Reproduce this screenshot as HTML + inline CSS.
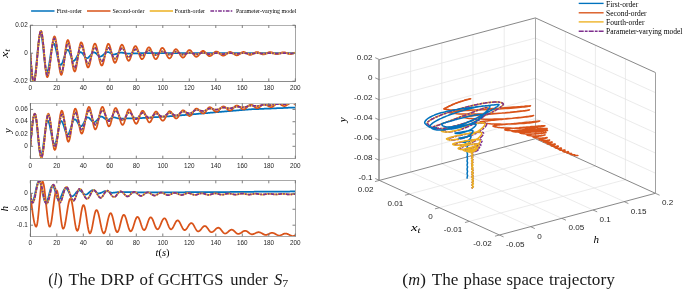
<!DOCTYPE html>
<html><head><meta charset="utf-8"><style>
    html,body{margin:0;padding:0;background:#fff;}
    body{width:685px;height:290px;overflow:hidden;position:relative;}
    svg{position:absolute;left:0;top:0;will-change:transform;}
    .tl{font-family:"Liberation Sans",sans-serif;font-size:6.35px;fill:#262626;}
    .t3{font-family:"Liberation Sans",sans-serif;font-size:8.1px;fill:#262626;}
    .lg{font-family:"Liberation Serif",serif;font-size:5.95px;fill:#000;}
    .lg3{font-family:"Liberation Serif",serif;font-size:7.5px;fill:#000;}
    .ml{font-family:"Liberation Serif",serif;font-style:italic;font-size:10.5px;fill:#000;}
    .ml3{font-family:"Liberation Serif",serif;font-style:italic;font-size:11px;fill:#000;}
    .cap{font-family:"Liberation Serif",serif;font-size:16px;fill:#1a1a1a;}
    </style></head><body>
<svg width="685" height="290" viewBox="0 0 685 290">
<clipPath id="c0"><rect x="30.30" y="25.20" width="265.00" height="56.00"/></clipPath>
<clipPath id="c1"><rect x="30.30" y="103.20" width="265.00" height="55.30"/></clipPath>
<clipPath id="c2"><rect x="30.30" y="180.50" width="265.00" height="55.80"/></clipPath>
<path d="M30.3 53.2L30.8 60.1L31.3 66.5L31.8 72.2L32.3 76.7L32.8 79.8L33.3 81.4L33.8 81.3L34.3 80.0L34.8 77.6L35.3 74.3L35.8 70.1L36.3 65.3L36.8 60.1L37.3 54.9L37.8 49.7L38.3 44.9L38.8 40.7L39.3 37.4L39.8 35.0L40.3 33.7L40.8 33.6L41.3 34.7L41.8 37.0L42.3 40.3L42.8 44.4L43.3 49.0L43.8 53.9L44.3 58.7L44.8 63.2L45.3 67.0L45.8 69.9L46.3 71.7L46.8 72.3L47.3 71.9L47.8 70.7L48.3 68.9L48.8 66.4L49.3 63.5L49.8 60.2L50.3 56.8L50.8 53.5L51.3 50.4L51.8 47.8L52.3 45.6L52.8 44.2L53.3 43.5L53.8 43.5L54.3 44.1L54.8 45.2L55.3 46.7L55.8 48.7L56.3 50.9L56.8 53.2L57.3 55.6L57.8 58.0L58.3 60.1L58.8 62.0L59.3 63.5L59.8 64.5L60.3 65.0L60.8 64.9L61.3 64.6L61.8 63.8L62.3 62.8L62.8 61.6L63.3 60.1L63.8 58.5L64.3 56.9L64.8 55.3L65.3 53.8L65.8 52.4L66.3 51.3L66.8 50.5L67.3 50.0L67.8 49.8L68.3 50.0L68.8 50.7L69.3 51.7L69.8 53.0L70.3 54.5L70.8 56.0L71.3 57.5L71.8 58.9L72.3 60.0L72.8 60.7L73.3 61.0L73.8 60.9L74.3 60.7L74.8 60.2L75.3 59.6L75.8 58.8L76.3 57.9L76.8 57.0L77.3 56.0L77.8 55.1L78.3 54.2L78.8 53.5L79.3 52.9L79.8 52.5L80.3 52.2L80.8 52.2L81.3 52.4L81.8 52.7L82.3 53.2L82.8 53.8L83.3 54.5L83.8 55.3L84.3 56.0L84.8 56.7L85.3 57.3L85.8 57.8L86.3 58.1L86.8 58.2L87.3 58.2L87.8 58.0L88.3 57.7L88.8 57.2L89.3 56.7L89.8 56.1L90.3 55.5L90.8 54.9L91.3 54.2L91.8 53.7L92.3 53.2L92.8 52.8L93.3 52.5L93.8 52.4L94.3 52.4L94.8 52.6L95.3 52.8L95.8 53.2L96.3 53.7L96.8 54.2L97.3 54.7L97.8 55.2L98.3 55.7L98.8 56.1L99.3 56.4L99.8 56.6L100.3 56.6L100.8 56.5L101.3 56.3L101.8 56.1L102.3 55.7L102.8 55.3L103.3 54.8L103.8 54.3L104.3 53.9L104.8 53.4L105.3 53.0L105.8 52.6L106.3 52.3L106.8 52.1L107.3 52.0L107.8 52.0L108.3 52.1L108.8 52.3L109.3 52.5L109.8 52.8L110.3 53.1L110.8 53.4L111.3 53.8L111.8 54.0L112.3 54.3L112.8 54.4L113.3 54.5L113.8 54.5L114.3 54.4L114.8 54.4L115.3 54.2L115.8 54.1L116.3 53.9L116.8 53.7L117.3 53.5L117.8 53.3L118.3 53.1L118.8 53.0L119.3 52.8L119.8 52.7L120.3 52.6L120.8 52.6L121.3 52.6L121.8 52.6L122.3 52.7L122.8 52.8L123.3 52.8L123.8 52.9L124.3 53.1L124.8 53.2L125.3 53.3L125.8 53.4L126.3 53.5L126.8 53.5L127.3 53.6L127.8 53.6L128.3 53.6L128.8 53.6L129.3 53.6L129.8 53.5L130.3 53.5L130.8 53.5L131.3 53.5L131.8 53.5L132.3 53.5L132.8 53.4L133.3 53.4L133.8 53.4L134.3 53.4L134.8 53.4L135.3 53.4L135.8 53.3L136.3 53.3L136.8 53.3L137.3 53.3L137.8 53.3L138.3 53.3L138.8 53.3L139.3 53.2L139.8 53.2L140.3 53.2L140.8 53.2L141.3 53.2L141.8 53.2L142.3 53.2L142.8 53.2L143.3 53.2L143.8 53.2L144.3 53.2L144.8 53.2L145.3 53.2L145.8 53.2L146.3 53.2L146.8 53.2L147.3 53.2L147.8 53.2L148.3 53.2L148.8 53.2L149.3 53.2L149.8 53.2L150.3 53.2L150.8 53.2L151.3 53.2L151.8 53.2L152.3 53.2L152.8 53.2L153.3 53.2L153.8 53.2L154.3 53.2L154.8 53.2L155.3 53.2L155.8 53.2L156.3 53.2L156.8 53.2L157.3 53.2L157.8 53.2L158.3 53.2L158.8 53.2L159.3 53.2L159.8 53.2L160.3 53.2L160.8 53.2L161.3 53.2L161.8 53.2L162.3 53.2L162.8 53.2L163.3 53.2L163.8 53.2L164.3 53.2L164.8 53.2L165.3 53.2L165.8 53.2L166.3 53.2L166.8 53.2L167.3 53.2L167.8 53.2L168.3 53.2L168.8 53.2L169.3 53.2L169.8 53.2L170.3 53.2L170.8 53.2L171.3 53.2L171.8 53.2L172.3 53.2L172.8 53.2L173.3 53.2L173.8 53.2L174.3 53.2L174.8 53.2L175.3 53.2L175.8 53.2L176.3 53.2L176.8 53.2L177.3 53.2L177.8 53.2L178.3 53.2L178.8 53.2L179.3 53.2L179.8 53.2L180.3 53.1L180.8 53.1L181.3 53.1L181.8 53.1L182.3 53.1L182.8 53.1L183.3 53.1L183.8 53.1L184.3 53.1L184.8 53.1L185.3 53.1L185.8 53.1L186.3 53.1L186.8 53.1L187.3 53.1L187.8 53.1L188.3 53.1L188.8 53.1L189.3 53.1L189.8 53.1L190.3 53.1L190.8 53.1L191.3 53.1L191.8 53.1L192.3 53.1L192.8 53.1L193.3 53.1L193.8 53.1L194.3 53.1L194.8 53.1L195.3 53.1L195.8 53.1L196.3 53.1L196.8 53.1L197.3 53.1L197.8 53.1L198.3 53.1L198.8 53.1L199.3 53.1L199.8 53.1L200.3 53.1L200.8 53.1L201.3 53.1L201.8 53.1L202.3 53.1L202.8 53.1L203.3 53.1L203.8 53.1L204.3 53.1L204.8 53.1L205.3 53.1L205.8 53.1L206.3 53.1L206.8 53.1L207.3 53.1L207.8 53.1L208.3 53.1L208.8 53.1L209.3 53.1L209.8 53.1L210.3 53.1L210.8 53.1L211.3 53.1L211.8 53.1L212.3 53.1L212.8 53.1L213.3 53.1L213.8 53.1L214.3 53.1L214.8 53.1L215.3 53.1L215.8 53.1L216.3 53.1L216.8 53.1L217.3 53.1L217.8 53.1L218.3 53.1L218.8 53.1L219.3 53.1L219.8 53.1L220.3 53.1L220.8 53.1L221.3 53.1L221.8 53.1L222.3 53.1L222.8 53.1L223.3 53.1L223.8 53.1L224.3 53.1L224.8 53.1L225.3 53.1L225.8 53.1L226.3 53.1L226.8 53.1L227.3 53.1L227.8 53.1L228.3 53.1L228.8 53.1L229.3 53.1L229.8 53.1L230.3 53.1L230.8 53.1L231.3 53.1L231.8 53.1L232.3 53.1L232.8 53.1L233.3 53.1L233.8 53.1L234.3 53.1L234.8 53.1L235.3 53.1L235.8 53.1L236.3 53.1L236.8 53.1L237.3 53.1L237.8 53.1L238.3 53.1L238.8 53.1L239.3 53.1L239.8 53.1L240.3 53.1L240.8 53.1L241.3 53.1L241.8 53.1L242.3 53.1L242.8 53.1L243.3 53.1L243.8 53.1L244.3 53.1L244.8 53.1L245.3 53.1L245.8 53.1L246.3 53.1L246.8 53.1L247.3 53.1L247.8 53.1L248.3 53.1L248.8 53.1L249.3 53.1L249.8 53.1L250.3 53.1L250.8 53.1L251.3 53.1L251.8 53.1L252.3 53.1L252.8 53.1L253.3 53.1L253.8 53.1L254.3 53.1L254.8 53.1L255.3 53.1L255.8 53.1L256.3 53.1L256.8 53.1L257.3 53.1L257.8 53.1L258.3 53.1L258.8 53.1L259.3 53.1L259.8 53.1L260.3 53.0L260.8 53.0L261.3 53.0L261.8 53.0L262.3 53.0L262.8 53.0L263.3 53.0L263.8 53.0L264.3 53.0L264.8 53.0L265.3 53.0L265.8 53.0L266.3 53.0L266.8 53.0L267.3 53.0L267.8 53.0L268.3 53.0L268.8 53.0L269.3 53.0L269.8 53.0L270.3 53.0L270.8 53.0L271.3 53.0L271.8 53.0L272.3 53.0L272.8 53.0L273.3 53.0L273.8 53.0L274.3 53.0L274.8 53.0L275.3 53.0L275.8 53.0L276.3 53.0L276.8 53.0L277.3 53.0L277.8 53.0L278.3 53.0L278.8 53.0L279.3 53.0L279.8 53.0L280.3 53.0L280.8 53.0L281.3 53.0L281.8 53.0L282.3 53.0L282.8 53.0L283.3 53.0L283.8 53.0L284.3 53.0L284.8 53.0L285.3 53.0L285.8 53.0L286.3 53.0L286.8 53.0L287.3 53.0L287.8 53.0L288.3 53.0L288.8 53.0L289.3 53.0L289.8 53.0L290.3 53.0L290.8 53.0L291.3 53.0L291.8 53.0L292.3 53.0L292.8 53.0L293.3 53.0L293.8 53.0L294.3 53.0L294.8 53.0L295.3 53.0" fill="none" stroke="#0072BD" stroke-width="1.75" stroke-linejoin="round" clip-path="url(#c0)"/>
<path d="M30.3 53.2L30.8 60.1L31.3 66.6L31.8 72.4L32.3 77.1L32.8 80.4L33.3 82.2L33.8 82.4L34.3 81.3L34.8 79.1L35.3 75.9L35.8 71.8L36.3 66.9L36.8 61.6L37.3 56.1L37.8 50.6L38.3 45.4L38.8 40.7L39.3 36.7L39.8 33.6L40.3 31.7L40.8 30.8L41.3 31.2L41.8 33.0L42.3 36.1L42.8 40.2L43.3 45.1L43.8 50.6L44.3 56.3L44.8 61.8L45.3 66.9L45.8 71.2L46.3 74.5L46.8 76.5L47.3 77.2L47.8 76.7L48.3 75.3L48.8 73.0L49.3 69.9L49.8 66.2L50.3 62.0L50.8 57.6L51.3 53.2L51.8 48.9L52.3 45.0L52.8 41.7L53.3 39.0L53.8 37.2L54.3 36.4L54.8 36.5L55.3 37.6L55.8 39.7L56.3 42.6L56.8 46.2L57.3 50.3L57.8 54.7L58.3 59.1L58.8 63.3L59.3 67.2L59.8 70.4L60.3 72.8L60.8 74.3L61.3 74.8L61.8 74.3L62.3 72.8L62.8 70.4L63.3 67.3L63.8 63.6L64.3 59.5L64.8 55.3L65.3 51.2L65.8 47.5L66.3 44.4L66.8 42.0L67.3 40.5L67.8 40.0L68.3 40.4L68.8 41.6L69.3 43.5L69.8 46.1L70.3 49.1L70.8 52.5L71.3 56.1L71.8 59.7L72.3 63.0L72.8 66.0L73.3 68.4L73.8 70.2L74.3 71.2L74.8 71.5L75.3 70.9L75.8 69.5L76.3 67.3L76.8 64.6L77.3 61.4L77.8 58.0L78.3 54.4L78.8 51.1L79.3 48.0L79.8 45.5L80.3 43.7L80.8 42.6L81.3 42.3L81.8 42.8L82.3 43.8L82.8 45.5L83.3 47.6L83.8 50.1L84.3 52.9L84.8 55.8L85.3 58.6L85.8 61.2L86.3 63.5L86.8 65.4L87.3 66.7L87.8 67.4L88.3 67.4L88.8 66.9L89.3 65.7L89.8 64.0L90.3 61.8L90.8 59.3L91.3 56.7L91.8 53.9L92.3 51.2L92.8 48.8L93.3 46.7L93.8 45.1L94.3 44.1L94.8 43.6L95.3 43.8L95.8 44.5L96.3 45.8L96.8 47.5L97.3 49.5L97.8 51.9L98.3 54.3L98.8 56.8L99.3 59.2L99.8 61.3L100.3 63.1L100.8 64.5L101.3 65.3L101.8 65.6L102.3 65.3L102.8 64.4L103.3 62.9L103.8 61.0L104.3 58.8L104.8 56.3L105.3 53.7L105.8 51.1L106.3 48.8L106.8 46.8L107.3 45.3L107.8 44.2L108.3 43.8L108.8 44.0L109.3 44.7L109.8 45.9L110.3 47.5L110.8 49.5L111.3 51.7L111.8 54.0L112.3 56.2L112.8 58.3L113.3 60.1L113.8 61.5L114.3 62.4L114.8 62.8L115.3 62.7L115.8 62.1L116.3 61.1L116.8 59.8L117.3 58.2L117.8 56.3L118.3 54.4L118.8 52.4L119.3 50.4L119.8 48.7L120.3 47.1L120.8 45.9L121.3 45.1L121.8 44.7L122.3 44.8L122.8 45.3L123.3 46.2L123.8 47.5L124.3 49.1L124.8 50.9L125.3 52.8L125.8 54.6L126.3 56.4L126.8 58.0L127.3 59.3L127.8 60.2L128.3 60.7L128.8 60.8L129.3 60.4L129.8 59.7L130.3 58.6L130.8 57.3L131.3 55.8L131.8 54.1L132.3 52.4L132.8 50.8L133.3 49.3L133.8 48.0L134.3 47.0L134.8 46.4L135.3 46.1L135.8 46.2L136.3 46.7L136.8 47.5L137.3 48.6L137.8 49.9L138.3 51.4L138.8 53.0L139.3 54.5L139.8 55.9L140.3 57.2L140.8 58.2L141.3 58.8L141.8 59.2L142.3 59.1L142.8 58.8L143.3 58.2L143.8 57.3L144.3 56.2L144.8 55.0L145.3 53.7L145.8 52.3L146.3 51.0L146.8 49.8L147.3 48.8L147.8 48.0L148.3 47.5L148.8 47.3L149.3 47.4L149.8 47.8L150.3 48.5L150.8 49.4L151.3 50.5L151.8 51.8L152.3 53.1L152.8 54.5L153.3 55.7L153.8 56.9L154.3 57.9L154.8 58.6L155.3 59.0L155.8 59.2L156.3 59.0L156.8 58.6L157.3 57.8L157.8 56.8L158.3 55.6L158.8 54.2L159.3 52.9L159.8 51.5L160.3 50.3L160.8 49.3L161.3 48.5L161.8 48.1L162.3 47.9L162.8 48.0L163.3 48.4L163.8 49.0L164.3 49.8L164.8 50.7L165.3 51.8L165.8 52.9L166.3 54.1L166.8 55.2L167.3 56.2L167.8 57.0L168.3 57.7L168.8 58.2L169.3 58.4L169.8 58.3L170.3 58.0L170.8 57.5L171.3 56.7L171.8 55.7L172.3 54.6L172.8 53.5L173.3 52.3L173.8 51.3L174.3 50.4L174.8 49.8L175.3 49.3L175.8 49.2L176.3 49.3L176.8 49.6L177.3 50.1L177.8 50.7L178.3 51.5L178.8 52.3L179.3 53.2L179.8 54.1L180.3 55.0L180.8 55.8L181.3 56.5L181.8 57.0L182.3 57.4L182.8 57.6L183.3 57.6L183.8 57.3L184.3 56.8L184.8 56.2L185.3 55.4L185.8 54.5L186.3 53.5L186.8 52.6L187.3 51.7L187.8 51.0L188.3 50.5L188.8 50.1L189.3 50.0L189.8 50.1L190.3 50.3L190.8 50.7L191.3 51.2L191.8 51.9L192.3 52.6L192.8 53.3L193.3 54.1L193.8 54.8L194.3 55.4L194.8 56.0L195.3 56.4L195.8 56.7L196.3 56.8L196.8 56.7L197.3 56.5L197.8 56.2L198.3 55.7L198.8 55.1L199.3 54.4L199.8 53.7L200.3 53.0L200.8 52.4L201.3 51.8L201.8 51.4L202.3 51.1L202.8 50.9L203.3 50.9L203.8 51.1L204.3 51.4L204.8 51.8L205.3 52.3L205.8 52.8L206.3 53.4L206.8 54.0L207.3 54.6L207.8 55.1L208.3 55.6L208.8 55.9L209.3 56.1L209.8 56.1L210.3 56.0L210.8 55.8L211.3 55.5L211.8 55.1L212.3 54.6L212.8 54.1L213.3 53.5L213.8 53.0L214.3 52.5L214.8 52.1L215.3 51.8L215.8 51.6L216.3 51.5L216.8 51.5L217.3 51.7L217.8 51.9L218.3 52.3L218.8 52.7L219.3 53.1L219.8 53.6L220.3 54.1L220.8 54.5L221.3 54.9L221.8 55.3L222.3 55.5L222.8 55.7L223.3 55.7L223.8 55.6L224.3 55.5L224.8 55.2L225.3 54.9L225.8 54.5L226.3 54.1L226.8 53.6L227.3 53.2L227.8 52.8L228.3 52.5L228.8 52.2L229.3 52.0L229.8 51.9L230.3 51.9L230.8 52.0L231.3 52.2L231.8 52.5L232.3 52.8L232.8 53.1L233.3 53.5L233.8 53.9L234.3 54.3L234.8 54.6L235.3 54.9L235.8 55.1L236.3 55.3L236.8 55.3L237.3 55.3L237.8 55.1L238.3 54.9L238.8 54.6L239.3 54.3L239.8 53.9L240.3 53.5L240.8 53.1L241.3 52.7L241.8 52.4L242.3 52.2L242.8 52.0L243.3 51.9L243.8 51.9L244.3 52.0L244.8 52.2L245.3 52.4L245.8 52.7L246.3 53.0L246.8 53.4L247.3 53.7L247.8 54.0L248.3 54.3L248.8 54.6L249.3 54.8L249.8 54.9L250.3 54.9L250.8 54.8L251.3 54.7L251.8 54.5L252.3 54.3L252.8 54.0L253.3 53.7L253.8 53.3L254.3 53.0L254.8 52.7L255.3 52.4L255.8 52.2L256.3 52.1L256.8 52.0L257.3 52.0L257.8 52.1L258.3 52.2L258.8 52.5L259.3 52.7L259.8 53.0L260.3 53.3L260.8 53.6L261.3 53.9L261.8 54.1L262.3 54.3L262.8 54.4L263.3 54.4L263.8 54.4L264.3 54.3L264.8 54.1L265.3 53.9L265.8 53.7L266.3 53.4L266.8 53.2L267.3 52.9L267.8 52.7L268.3 52.4L268.8 52.3L269.3 52.2L269.8 52.1L270.3 52.1L270.8 52.2L271.3 52.3L271.8 52.4L272.3 52.6L272.8 52.9L273.3 53.1L273.8 53.3L274.3 53.6L274.8 53.8L275.3 54.0L275.8 54.1L276.3 54.2L276.8 54.2L277.3 54.2L277.8 54.1L278.3 54.0L278.8 53.8L279.3 53.6L279.8 53.4L280.3 53.2L280.8 53.0L281.3 52.8L281.8 52.6L282.3 52.4L282.8 52.4L283.3 52.3L283.8 52.3L284.3 52.4L284.8 52.4L285.3 52.6L285.8 52.7L286.3 52.9L286.8 53.1L287.3 53.3L287.8 53.5L288.3 53.7L288.8 53.8L289.3 53.9L289.8 54.0L290.3 54.0L290.8 54.0L291.3 53.9L291.8 53.8L292.3 53.7L292.8 53.5L293.3 53.3L293.8 53.1L294.3 53.0L294.8 52.8L295.3 52.6" fill="none" stroke="#D95319" stroke-width="1.75" stroke-linejoin="round" clip-path="url(#c0)"/>
<path d="M30.3 53.2L30.8 59.7L31.3 65.8L31.8 71.3L32.3 76.0L32.8 79.4L33.3 81.6L33.8 82.3L34.3 81.7L34.8 79.8L35.3 76.9L35.8 72.9L36.3 68.1L36.8 62.8L37.3 57.2L37.8 51.6L38.3 46.2L38.8 41.3L39.3 37.2L39.8 34.0L40.3 31.9L40.8 31.0L41.3 31.4L41.8 33.1L42.3 36.0L42.8 39.9L43.3 44.6L43.8 49.8L44.3 55.2L44.8 60.4L45.3 65.2L45.8 69.3L46.3 72.4L46.8 74.3L47.3 75.0L47.8 74.5L48.3 73.2L48.8 71.0L49.3 68.1L49.8 64.7L50.3 60.8L50.8 56.8L51.3 52.7L51.8 48.8L52.3 45.4L52.8 42.5L53.3 40.3L53.8 39.0L54.3 38.5L54.8 38.9L55.3 40.1L55.8 42.0L56.3 44.5L56.8 47.5L57.3 50.9L57.8 54.5L58.3 58.2L58.8 61.7L59.3 64.9L59.8 67.6L60.3 69.8L60.8 71.2L61.3 71.9L61.8 71.8L62.3 70.9L62.8 69.2L63.3 66.7L63.8 63.8L64.3 60.4L64.8 56.9L65.3 53.4L65.8 50.2L66.3 47.4L66.8 45.2L67.3 43.8L67.8 43.2L68.3 43.4L68.8 44.2L69.3 45.7L69.8 47.6L70.3 50.0L70.8 52.7L71.3 55.5L71.8 58.3L72.3 61.0L72.8 63.4L73.3 65.3L73.8 66.8L74.3 67.6L74.8 67.8L75.3 67.3L75.8 66.2L76.3 64.4L76.8 62.2L77.3 59.6L77.8 56.9L78.3 54.1L78.8 51.5L79.3 49.2L79.8 47.3L80.3 46.1L80.8 45.5L81.3 45.5L81.8 46.0L82.3 46.9L82.8 48.2L83.3 49.8L83.8 51.7L84.3 53.7L84.8 55.7L85.3 57.7L85.8 59.5L86.3 61.1L86.8 62.3L87.3 63.2L87.8 63.6L88.3 63.5L88.8 63.1L89.3 62.2L89.8 61.0L90.3 59.5L90.8 57.8L91.3 56.0L91.8 54.1L92.3 52.4L92.8 50.8L93.3 49.4L93.8 48.4L94.3 47.8L94.8 47.6L95.3 47.8L95.8 48.3L96.3 49.1L96.8 50.2L97.3 51.5L97.8 52.9L98.3 54.4L98.8 56.0L99.3 57.4L99.8 58.7L100.3 59.8L100.8 60.6L101.3 61.1L101.8 61.3L102.3 61.1L102.8 60.5L103.3 59.7L103.8 58.5L104.3 57.1L104.8 55.5L105.3 53.9L105.8 52.3L106.3 50.9L106.8 49.7L107.3 48.7L107.8 48.1L108.3 47.8L108.8 47.9L109.3 48.3L109.8 49.0L110.3 49.9L110.8 51.1L111.3 52.3L111.8 53.6L112.3 54.9L112.8 56.1L113.3 57.2L113.8 57.9L114.3 58.5L114.8 58.7L115.3 58.6L115.8 58.3L116.3 57.8L116.8 57.0L117.3 56.1L117.8 55.1L118.3 54.0L118.8 52.8L119.3 51.7L119.8 50.7L120.3 49.8L120.8 49.1L121.3 48.6L121.8 48.3L122.3 48.3L122.8 48.5L123.3 49.0L123.8 49.7L124.3 50.6L124.8 51.5L125.3 52.6L125.8 53.6L126.3 54.7L126.8 55.5L127.3 56.3L127.8 56.8L128.3 57.1L128.8 57.1L129.3 56.9L129.8 56.5L130.3 56.0L130.8 55.3L131.3 54.5L131.8 53.7L132.3 52.8L132.8 52.0L133.3 51.2L133.8 50.5L134.3 50.0L134.8 49.6L135.3 49.4L135.8 49.4L136.3 49.6L136.8 50.0L137.3 50.5L137.8 51.1L138.3 51.8L138.8 52.6L139.3 53.3L139.8 54.0L140.3 54.6L140.8 55.1L141.3 55.4L141.8 55.6L142.3 55.6L142.8 55.4L143.3 55.2L143.8 54.8L144.3 54.3L144.8 53.8L145.3 53.2L145.8 52.7L146.3 52.1L146.8 51.6L147.3 51.1L147.8 50.8L148.3 50.5L148.8 50.4L149.3 50.4L149.8 50.5L150.3 50.8L150.8 51.1L151.3 51.5L151.8 52.0L152.3 52.5L152.8 53.1L153.3 53.6L153.8 54.0L154.3 54.4L154.8 54.8L155.3 55.0L155.8 55.1L156.3 55.1L156.8 55.0L157.3 54.7L157.8 54.4L158.3 54.0L158.8 53.5L159.3 53.1L159.8 52.6L160.3 52.2L160.8 51.8L161.3 51.5L161.8 51.4L162.3 51.3L162.8 51.3L163.3 51.5L163.8 51.7L164.3 51.9L164.8 52.2L165.3 52.6L165.8 52.9L166.3 53.3L166.8 53.7L167.3 54.0L167.8 54.3L168.3 54.5L168.8 54.6L169.3 54.7L169.8 54.7L170.3 54.6L170.8 54.4L171.3 54.2L171.8 53.9L172.3 53.5L172.8 53.2L173.3 52.8L173.8 52.5L174.3 52.2L174.8 51.9L175.3 51.8L175.8 51.7L176.3 51.7L176.8 51.8L177.3 51.9L177.8 52.2L178.3 52.4L178.8 52.7L179.3 53.1L179.8 53.4L180.3 53.7L180.8 54.0L181.3 54.3L181.8 54.5L182.3 54.6L182.8 54.7L183.3 54.7L183.8 54.6L184.3 54.5L184.8 54.3L185.3 54.1L185.8 53.9L186.3 53.6L186.8 53.4L187.3 53.1L187.8 52.9L188.3 52.8L188.8 52.7L189.3 52.6L189.8 52.6L190.3 52.7L190.8 52.7L191.3 52.9L191.8 53.0L192.3 53.2L192.8 53.4L193.3 53.6L193.8 53.7L194.3 53.9L194.8 54.1L195.3 54.2L195.8 54.3L196.3 54.3L196.8 54.3L197.3 54.2L197.8 54.2L198.3 54.0L198.8 53.9L199.3 53.7L199.8 53.5L200.3 53.4L200.8 53.2L201.3 53.0L201.8 52.9L202.3 52.8L202.8 52.8L203.3 52.8L203.8 52.8L204.3 52.9L204.8 53.0L205.3 53.2L205.8 53.3L206.3 53.5L206.8 53.6L207.3 53.8L207.8 53.9L208.3 54.1L208.8 54.1L209.3 54.2L209.8 54.2L210.3 54.2L210.8 54.1L211.3 54.0L211.8 53.9L212.3 53.8L212.8 53.7L213.3 53.5L213.8 53.4L214.3 53.3L214.8 53.2L215.3 53.1L215.8 53.0L216.3 53.0L216.8 53.0L217.3 53.0L217.8 53.1L218.3 53.2L218.8 53.3L219.3 53.4L219.8 53.5L220.3 53.6L220.8 53.7L221.3 53.8L221.8 53.9L222.3 54.0L222.8 54.0L223.3 54.0L223.8 54.0L224.3 53.9L224.8 53.9L225.3 53.8L225.8 53.7L226.3 53.6L226.8 53.5L227.3 53.4L227.8 53.3L228.3 53.2L228.8 53.2L229.3 53.1L229.8 53.1L230.3 53.1L230.8 53.1L231.3 53.2L231.8 53.2L232.3 53.3L232.8 53.4L233.3 53.5L233.8 53.6L234.3 53.7L234.8 53.7L235.3 53.8L235.8 53.9L236.3 53.9L236.8 53.9L237.3 53.9L237.8 53.9L238.3 53.8L238.8 53.7L239.3 53.7L239.8 53.6L240.3 53.5L240.8 53.4L241.3 53.3L241.8 53.2L242.3 53.2L242.8 53.1L243.3 53.1L243.8 53.1L244.3 53.1L244.8 53.2L245.3 53.2L245.8 53.3L246.3 53.4L246.8 53.4L247.3 53.5L247.8 53.6L248.3 53.7L248.8 53.7L249.3 53.8L249.8 53.8L250.3 53.8L250.8 53.8L251.3 53.8L251.8 53.7L252.3 53.6L252.8 53.6L253.3 53.5L253.8 53.4L254.3 53.3L254.8 53.3L255.3 53.2L255.8 53.2L256.3 53.1L256.8 53.1L257.3 53.1L257.8 53.1L258.3 53.2L258.8 53.2L259.3 53.3L259.8 53.3L260.3 53.4L260.8 53.5L261.3 53.6L261.8 53.6L262.3 53.7L262.8 53.7L263.3 53.7L263.8 53.7L264.3 53.7L264.8 53.6L265.3 53.6L265.8 53.5L266.3 53.4L266.8 53.4L267.3 53.3L267.8 53.2L268.3 53.2L268.8 53.1L269.3 53.1L269.8 53.1L270.3 53.1L270.8 53.1L271.3 53.1L271.8 53.2L272.3 53.2L272.8 53.3L273.3 53.3L273.8 53.4L274.3 53.5L274.8 53.5L275.3 53.5L275.8 53.6L276.3 53.6L276.8 53.6L277.3 53.6L277.8 53.6L278.3 53.5L278.8 53.5L279.3 53.4L279.8 53.4L280.3 53.3L280.8 53.3L281.3 53.2L281.8 53.2L282.3 53.1L282.8 53.1L283.3 53.1L283.8 53.1L284.3 53.1L284.8 53.1L285.3 53.2L285.8 53.2L286.3 53.2L286.8 53.3L287.3 53.3L287.8 53.4L288.3 53.4L288.8 53.5L289.3 53.5L289.8 53.5L290.3 53.5L290.8 53.5L291.3 53.5L291.8 53.5L292.3 53.4L292.8 53.4L293.3 53.3L293.8 53.3L294.3 53.2L294.8 53.2L295.3 53.2" fill="none" stroke="#EDB120" stroke-width="1.75" stroke-linejoin="round" clip-path="url(#c0)"/>
<path d="M30.3 53.2L30.8 59.7L31.3 65.8L31.8 71.3L32.3 76.0L32.8 79.4L33.3 81.6L33.8 82.3L34.3 81.7L34.8 79.8L35.3 76.9L35.8 72.9L36.3 68.1L36.8 62.8L37.3 57.2L37.8 51.6L38.3 46.2L38.8 41.3L39.3 37.2L39.8 34.0L40.3 31.9L40.8 31.0L41.3 31.4L41.8 33.1L42.3 36.0L42.8 39.9L43.3 44.6L43.8 49.8L44.3 55.2L44.8 60.4L45.3 65.2L45.8 69.3L46.3 72.4L46.8 74.3L47.3 75.0L47.8 74.5L48.3 73.2L48.8 71.0L49.3 68.1L49.8 64.7L50.3 60.8L50.8 56.8L51.3 52.7L51.8 48.8L52.3 45.4L52.8 42.5L53.3 40.3L53.8 39.0L54.3 38.5L54.8 38.9L55.3 40.1L55.8 42.0L56.3 44.5L56.8 47.5L57.3 50.9L57.8 54.5L58.3 58.2L58.8 61.7L59.3 64.9L59.8 67.6L60.3 69.8L60.8 71.2L61.3 71.9L61.8 71.8L62.3 70.9L62.8 69.2L63.3 66.7L63.8 63.8L64.3 60.4L64.8 56.9L65.3 53.4L65.8 50.2L66.3 47.4L66.8 45.2L67.3 43.8L67.8 43.2L68.3 43.4L68.8 44.2L69.3 45.7L69.8 47.6L70.3 50.0L70.8 52.7L71.3 55.5L71.8 58.3L72.3 61.0L72.8 63.4L73.3 65.3L73.8 66.8L74.3 67.6L74.8 67.8L75.3 67.3L75.8 66.2L76.3 64.4L76.8 62.2L77.3 59.6L77.8 56.9L78.3 54.1L78.8 51.5L79.3 49.2L79.8 47.3L80.3 46.1L80.8 45.5L81.3 45.5L81.8 46.0L82.3 46.9L82.8 48.2L83.3 49.8L83.8 51.7L84.3 53.7L84.8 55.7L85.3 57.7L85.8 59.5L86.3 61.1L86.8 62.3L87.3 63.2L87.8 63.6L88.3 63.5L88.8 63.1L89.3 62.2L89.8 61.0L90.3 59.5L90.8 57.8L91.3 56.0L91.8 54.1L92.3 52.4L92.8 50.8L93.3 49.4L93.8 48.4L94.3 47.8L94.8 47.6L95.3 47.8L95.8 48.3L96.3 49.1L96.8 50.2L97.3 51.5L97.8 52.9L98.3 54.4L98.8 56.0L99.3 57.4L99.8 58.7L100.3 59.8L100.8 60.6L101.3 61.1L101.8 61.3L102.3 61.1L102.8 60.5L103.3 59.7L103.8 58.5L104.3 57.1L104.8 55.5L105.3 53.9L105.8 52.3L106.3 50.9L106.8 49.7L107.3 48.7L107.8 48.1L108.3 47.8L108.8 47.9L109.3 48.3L109.8 49.0L110.3 49.9L110.8 51.1L111.3 52.3L111.8 53.6L112.3 54.9L112.8 56.1L113.3 57.2L113.8 57.9L114.3 58.5L114.8 58.7L115.3 58.6L115.8 58.3L116.3 57.8L116.8 57.0L117.3 56.1L117.8 55.1L118.3 54.0L118.8 52.8L119.3 51.7L119.8 50.7L120.3 49.8L120.8 49.1L121.3 48.6L121.8 48.3L122.3 48.3L122.8 48.5L123.3 49.0L123.8 49.7L124.3 50.6L124.8 51.5L125.3 52.6L125.8 53.6L126.3 54.7L126.8 55.5L127.3 56.3L127.8 56.8L128.3 57.1L128.8 57.1L129.3 56.9L129.8 56.5L130.3 56.0L130.8 55.3L131.3 54.5L131.8 53.7L132.3 52.8L132.8 52.0L133.3 51.2L133.8 50.5L134.3 50.0L134.8 49.6L135.3 49.4L135.8 49.4L136.3 49.6L136.8 50.0L137.3 50.5L137.8 51.1L138.3 51.8L138.8 52.6L139.3 53.3L139.8 54.0L140.3 54.6L140.8 55.1L141.3 55.4L141.8 55.6L142.3 55.6L142.8 55.4L143.3 55.2L143.8 54.8L144.3 54.3L144.8 53.8L145.3 53.2L145.8 52.7L146.3 52.1L146.8 51.6L147.3 51.1L147.8 50.8L148.3 50.5L148.8 50.4L149.3 50.4L149.8 50.5L150.3 50.8L150.8 51.1L151.3 51.5L151.8 52.0L152.3 52.5L152.8 53.1L153.3 53.6L153.8 54.0L154.3 54.4L154.8 54.8L155.3 55.0L155.8 55.1L156.3 55.1L156.8 55.0L157.3 54.7L157.8 54.4L158.3 54.0L158.8 53.5L159.3 53.1L159.8 52.6L160.3 52.2L160.8 51.8L161.3 51.5L161.8 51.4L162.3 51.3L162.8 51.3L163.3 51.5L163.8 51.7L164.3 51.9L164.8 52.2L165.3 52.6L165.8 52.9L166.3 53.3L166.8 53.7L167.3 54.0L167.8 54.3L168.3 54.5L168.8 54.6L169.3 54.7L169.8 54.7L170.3 54.6L170.8 54.4L171.3 54.2L171.8 53.9L172.3 53.5L172.8 53.2L173.3 52.8L173.8 52.5L174.3 52.2L174.8 51.9L175.3 51.8L175.8 51.7L176.3 51.7L176.8 51.8L177.3 51.9L177.8 52.2L178.3 52.4L178.8 52.7L179.3 53.1L179.8 53.4L180.3 53.7L180.8 54.0L181.3 54.3L181.8 54.5L182.3 54.6L182.8 54.7L183.3 54.7L183.8 54.6L184.3 54.5L184.8 54.3L185.3 54.1L185.8 53.9L186.3 53.6L186.8 53.4L187.3 53.1L187.8 52.9L188.3 52.8L188.8 52.7L189.3 52.6L189.8 52.6L190.3 52.7L190.8 52.7L191.3 52.9L191.8 53.0L192.3 53.2L192.8 53.4L193.3 53.6L193.8 53.7L194.3 53.9L194.8 54.1L195.3 54.2L195.8 54.3L196.3 54.3L196.8 54.3L197.3 54.2L197.8 54.2L198.3 54.0L198.8 53.9L199.3 53.7L199.8 53.5L200.3 53.4L200.8 53.2L201.3 53.0L201.8 52.9L202.3 52.8L202.8 52.8L203.3 52.8L203.8 52.8L204.3 52.9L204.8 53.0L205.3 53.2L205.8 53.3L206.3 53.5L206.8 53.6L207.3 53.8L207.8 53.9L208.3 54.1L208.8 54.1L209.3 54.2L209.8 54.2L210.3 54.2L210.8 54.1L211.3 54.0L211.8 53.9L212.3 53.8L212.8 53.7L213.3 53.5L213.8 53.4L214.3 53.3L214.8 53.2L215.3 53.1L215.8 53.0L216.3 53.0L216.8 53.0L217.3 53.0L217.8 53.1L218.3 53.2L218.8 53.3L219.3 53.4L219.8 53.5L220.3 53.6L220.8 53.7L221.3 53.8L221.8 53.9L222.3 54.0L222.8 54.0L223.3 54.0L223.8 54.0L224.3 53.9L224.8 53.9L225.3 53.8L225.8 53.7L226.3 53.6L226.8 53.5L227.3 53.4L227.8 53.3L228.3 53.2L228.8 53.2L229.3 53.1L229.8 53.1L230.3 53.1L230.8 53.1L231.3 53.2L231.8 53.2L232.3 53.3L232.8 53.4L233.3 53.5L233.8 53.6L234.3 53.7L234.8 53.7L235.3 53.8L235.8 53.9L236.3 53.9L236.8 53.9L237.3 53.9L237.8 53.9L238.3 53.8L238.8 53.7L239.3 53.7L239.8 53.6L240.3 53.5L240.8 53.4L241.3 53.3L241.8 53.2L242.3 53.2L242.8 53.1L243.3 53.1L243.8 53.1L244.3 53.1L244.8 53.2L245.3 53.2L245.8 53.3L246.3 53.4L246.8 53.4L247.3 53.5L247.8 53.6L248.3 53.7L248.8 53.7L249.3 53.8L249.8 53.8L250.3 53.8L250.8 53.8L251.3 53.8L251.8 53.7L252.3 53.6L252.8 53.6L253.3 53.5L253.8 53.4L254.3 53.3L254.8 53.3L255.3 53.2L255.8 53.2L256.3 53.1L256.8 53.1L257.3 53.1L257.8 53.1L258.3 53.2L258.8 53.2L259.3 53.3L259.8 53.3L260.3 53.4L260.8 53.5L261.3 53.6L261.8 53.6L262.3 53.7L262.8 53.7L263.3 53.7L263.8 53.7L264.3 53.7L264.8 53.6L265.3 53.6L265.8 53.5L266.3 53.4L266.8 53.4L267.3 53.3L267.8 53.2L268.3 53.2L268.8 53.1L269.3 53.1L269.8 53.1L270.3 53.1L270.8 53.1L271.3 53.1L271.8 53.2L272.3 53.2L272.8 53.3L273.3 53.3L273.8 53.4L274.3 53.5L274.8 53.5L275.3 53.5L275.8 53.6L276.3 53.6L276.8 53.6L277.3 53.6L277.8 53.6L278.3 53.5L278.8 53.5L279.3 53.4L279.8 53.4L280.3 53.3L280.8 53.3L281.3 53.2L281.8 53.2L282.3 53.1L282.8 53.1L283.3 53.1L283.8 53.1L284.3 53.1L284.8 53.1L285.3 53.2L285.8 53.2L286.3 53.2L286.8 53.3L287.3 53.3L287.8 53.4L288.3 53.4L288.8 53.5L289.3 53.5L289.8 53.5L290.3 53.5L290.8 53.5L291.3 53.5L291.8 53.5L292.3 53.4L292.8 53.4L293.3 53.3L293.8 53.3L294.3 53.2L294.8 53.2L295.3 53.2" fill="none" stroke="#7E2F8E" stroke-width="1.75" stroke-linejoin="round" stroke-dasharray="3.7 1.2 1.6 1.2" clip-path="url(#c0)"/>
<path d="M30.3 146.3L30.8 140.7L31.3 135.3L31.8 130.2L32.3 125.6L32.8 121.6L33.3 118.4L33.8 116.0L34.3 114.6L34.8 114.1L35.3 114.8L35.8 116.9L36.3 120.2L36.8 124.4L37.3 129.4L37.8 134.8L38.3 140.2L38.8 145.2L39.3 149.4L39.8 152.7L40.3 154.8L40.8 155.5L41.3 155.1L41.8 153.7L42.3 151.6L42.8 148.8L43.3 145.4L43.8 141.6L44.3 137.7L44.8 133.8L45.3 130.1L45.8 126.8L46.3 124.1L46.8 122.1L47.3 121.0L47.8 120.7L48.3 121.2L48.8 122.2L49.3 123.8L49.8 125.9L50.3 128.3L50.8 131.0L51.3 133.7L51.8 136.4L52.3 138.9L52.8 141.0L53.3 142.7L53.8 143.9L54.3 144.4L54.8 144.4L55.3 143.7L55.8 142.3L56.3 140.4L56.8 138.1L57.3 135.5L57.8 132.8L58.3 130.0L58.8 127.4L59.3 125.1L59.8 123.2L60.3 121.8L60.8 121.1L61.3 121.0L61.8 121.4L62.3 122.1L62.8 123.2L63.3 124.5L63.8 126.0L64.3 127.6L64.8 129.2L65.3 130.7L65.8 132.1L66.3 133.2L66.8 134.0L67.3 134.4L67.8 134.5L68.3 134.1L68.8 133.5L69.3 132.4L69.8 131.2L70.3 129.7L70.8 128.1L71.3 126.4L71.8 124.7L72.3 123.2L72.8 121.8L73.3 120.7L73.8 119.9L74.3 119.4L74.8 119.3L75.3 119.5L75.8 119.8L76.3 120.4L76.8 121.1L77.3 121.9L77.8 122.8L78.3 123.7L78.8 124.5L79.3 125.2L79.8 125.8L80.3 126.1L80.8 126.3L81.3 126.2L81.8 125.9L82.3 125.4L82.8 124.7L83.3 123.8L83.8 122.9L84.3 121.9L84.8 120.8L85.3 119.9L85.8 119.0L86.3 118.3L86.8 117.8L87.3 117.5L87.8 117.4L88.3 117.5L88.8 117.8L89.3 118.1L89.8 118.6L90.3 119.1L90.8 119.7L91.3 120.3L91.8 120.9L92.3 121.4L92.8 121.8L93.3 122.1L93.8 122.2L94.3 122.2L94.8 122.0L95.3 121.8L95.8 121.4L96.3 120.9L96.8 120.4L97.3 119.8L97.8 119.2L98.3 118.6L98.8 118.0L99.3 117.5L99.8 117.1L100.3 116.8L100.8 116.6L101.3 116.6L101.8 116.7L102.3 116.8L102.8 117.1L103.3 117.4L103.8 117.8L104.3 118.2L104.8 118.6L105.3 118.9L105.8 119.3L106.3 119.5L106.8 119.7L107.3 119.8L107.8 119.8L108.3 119.7L108.8 119.5L109.3 119.3L109.8 119.0L110.3 118.7L110.8 118.4L111.3 118.1L111.8 117.8L112.3 117.6L112.8 117.5L113.3 117.4L113.8 117.4L114.3 117.4L114.8 117.5L115.3 117.6L115.8 117.7L116.3 117.9L116.8 118.0L117.3 118.2L117.8 118.3L118.3 118.4L118.8 118.5L119.3 118.6L119.8 118.6L120.3 118.6L120.8 118.6L121.3 118.6L121.8 118.6L122.3 118.6L122.8 118.5L123.3 118.5L123.8 118.5L124.3 118.5L124.8 118.5L125.3 118.5L125.8 118.4L126.3 118.4L126.8 118.4L127.3 118.4L127.8 118.4L128.3 118.4L128.8 118.4L129.3 118.4L129.8 118.4L130.3 118.3L130.8 118.3L131.3 118.3L131.8 118.3L132.3 118.3L132.8 118.3L133.3 118.3L133.8 118.3L134.3 118.2L134.8 118.2L135.3 118.2L135.8 118.2L136.3 118.2L136.8 118.2L137.3 118.2L137.8 118.2L138.3 118.1L138.8 118.1L139.3 118.1L139.8 118.1L140.3 118.1L140.8 118.0L141.3 118.0L141.8 118.0L142.3 118.0L142.8 117.9L143.3 117.9L143.8 117.9L144.3 117.8L144.8 117.8L145.3 117.8L145.8 117.7L146.3 117.7L146.8 117.7L147.3 117.7L147.8 117.6L148.3 117.6L148.8 117.6L149.3 117.5L149.8 117.5L150.3 117.5L150.8 117.4L151.3 117.4L151.8 117.4L152.3 117.3L152.8 117.3L153.3 117.3L153.8 117.2L154.3 117.2L154.8 117.2L155.3 117.1L155.8 117.1L156.3 117.1L156.8 117.1L157.3 117.0L157.8 117.0L158.3 117.0L158.8 116.9L159.3 116.9L159.8 116.9L160.3 116.8L160.8 116.8L161.3 116.8L161.8 116.7L162.3 116.7L162.8 116.7L163.3 116.6L163.8 116.6L164.3 116.6L164.8 116.5L165.3 116.5L165.8 116.5L166.3 116.5L166.8 116.4L167.3 116.4L167.8 116.4L168.3 116.3L168.8 116.3L169.3 116.3L169.8 116.2L170.3 116.2L170.8 116.1L171.3 116.1L171.8 116.1L172.3 116.0L172.8 116.0L173.3 115.9L173.8 115.9L174.3 115.9L174.8 115.8L175.3 115.8L175.8 115.7L176.3 115.7L176.8 115.6L177.3 115.6L177.8 115.6L178.3 115.5L178.8 115.5L179.3 115.4L179.8 115.4L180.3 115.3L180.8 115.3L181.3 115.3L181.8 115.2L182.3 115.2L182.8 115.1L183.3 115.1L183.8 115.0L184.3 115.0L184.8 115.0L185.3 114.9L185.8 114.9L186.3 114.8L186.8 114.8L187.3 114.7L187.8 114.7L188.3 114.7L188.8 114.6L189.3 114.6L189.8 114.5L190.3 114.5L190.8 114.4L191.3 114.4L191.8 114.4L192.3 114.3L192.8 114.3L193.3 114.2L193.8 114.2L194.3 114.1L194.8 114.1L195.3 114.1L195.8 114.0L196.3 114.0L196.8 113.9L197.3 113.9L197.8 113.8L198.3 113.8L198.8 113.7L199.3 113.7L199.8 113.7L200.3 113.6L200.8 113.6L201.3 113.5L201.8 113.5L202.3 113.4L202.8 113.4L203.3 113.4L203.8 113.3L204.3 113.3L204.8 113.2L205.3 113.2L205.8 113.1L206.3 113.1L206.8 113.0L207.3 113.0L207.8 113.0L208.3 112.9L208.8 112.9L209.3 112.8L209.8 112.8L210.3 112.7L210.8 112.7L211.3 112.6L211.8 112.6L212.3 112.6L212.8 112.5L213.3 112.5L213.8 112.4L214.3 112.4L214.8 112.3L215.3 112.3L215.8 112.2L216.3 112.2L216.8 112.2L217.3 112.1L217.8 112.1L218.3 112.0L218.8 112.0L219.3 111.9L219.8 111.9L220.3 111.8L220.8 111.8L221.3 111.8L221.8 111.7L222.3 111.7L222.8 111.6L223.3 111.6L223.8 111.5L224.3 111.5L224.8 111.4L225.3 111.4L225.8 111.4L226.3 111.3L226.8 111.3L227.3 111.2L227.8 111.2L228.3 111.1L228.8 111.1L229.3 111.1L229.8 111.0L230.3 111.0L230.8 110.9L231.3 110.9L231.8 110.8L232.3 110.8L232.8 110.8L233.3 110.7L233.8 110.7L234.3 110.6L234.8 110.6L235.3 110.6L235.8 110.5L236.3 110.5L236.8 110.4L237.3 110.4L237.8 110.3L238.3 110.3L238.8 110.3L239.3 110.2L239.8 110.2L240.3 110.1L240.8 110.1L241.3 110.1L241.8 110.0L242.3 110.0L242.8 109.9L243.3 109.9L243.8 109.8L244.3 109.8L244.8 109.8L245.3 109.7L245.8 109.7L246.3 109.6L246.8 109.6L247.3 109.5L247.8 109.5L248.3 109.5L248.8 109.4L249.3 109.4L249.8 109.4L250.3 109.3L250.8 109.3L251.3 109.3L251.8 109.2L252.3 109.2L252.8 109.2L253.3 109.2L253.8 109.2L254.3 109.1L254.8 109.1L255.3 109.1L255.8 109.1L256.3 109.1L256.8 109.0L257.3 109.0L257.8 109.0L258.3 109.0L258.8 109.0L259.3 108.9L259.8 108.9L260.3 108.9L260.8 108.9L261.3 108.9L261.8 108.8L262.3 108.8L262.8 108.8L263.3 108.8L263.8 108.8L264.3 108.7L264.8 108.7L265.3 108.7L265.8 108.7L266.3 108.7L266.8 108.6L267.3 108.6L267.8 108.6L268.3 108.6L268.8 108.6L269.3 108.5L269.8 108.5L270.3 108.5L270.8 108.5L271.3 108.5L271.8 108.4L272.3 108.4L272.8 108.4L273.3 108.4L273.8 108.4L274.3 108.3L274.8 108.3L275.3 108.3L275.8 108.3L276.3 108.3L276.8 108.2L277.3 108.2L277.8 108.2L278.3 108.2L278.8 108.1L279.3 108.1L279.8 108.1L280.3 108.1L280.8 108.1L281.3 108.0L281.8 108.0L282.3 108.0L282.8 108.0L283.3 108.0L283.8 107.9L284.3 107.9L284.8 107.9L285.3 107.9L285.8 107.8L286.3 107.8L286.8 107.8L287.3 107.8L287.8 107.8L288.3 107.7L288.8 107.7L289.3 107.7L289.8 107.7L290.3 107.7L290.8 107.6L291.3 107.6L291.8 107.6L292.3 107.6L292.8 107.5L293.3 107.5L293.8 107.5L294.3 107.5L294.8 107.5L295.3 107.5" fill="none" stroke="#0072BD" stroke-width="1.75" stroke-linejoin="round" clip-path="url(#c1)"/>
<path d="M30.3 146.3L30.8 140.6L31.3 135.2L31.8 130.0L32.3 125.3L32.8 121.3L33.3 118.1L33.8 115.7L34.3 114.2L34.8 113.7L35.3 114.3L35.8 116.2L36.3 119.1L36.8 123.0L37.3 127.6L37.8 132.7L38.3 138.0L38.8 143.1L39.3 147.8L39.8 151.9L40.3 155.0L40.8 157.1L41.3 158.0L41.8 157.6L42.3 156.2L42.8 153.7L43.3 150.2L43.8 146.0L44.3 141.3L44.8 136.4L45.3 131.3L45.8 126.6L46.3 122.3L46.8 118.7L47.3 116.0L47.8 114.3L48.3 113.7L48.8 114.2L49.3 115.8L49.8 118.3L50.3 121.5L50.8 125.4L51.3 129.7L51.8 134.0L52.3 138.3L52.8 142.2L53.3 145.4L53.8 147.9L54.3 149.5L54.8 150.0L55.3 149.5L55.8 148.1L56.3 145.7L56.8 142.6L57.3 138.9L57.8 134.7L58.3 130.3L58.8 126.0L59.3 121.8L59.8 118.1L60.3 115.0L60.8 112.6L61.3 111.2L61.8 110.7L62.3 111.1L62.8 112.4L63.3 114.5L63.8 117.2L64.3 120.5L64.8 124.0L65.3 127.7L65.8 131.3L66.3 134.7L66.8 137.5L67.3 139.7L67.8 141.2L68.3 141.8L68.8 141.5L69.3 140.4L69.8 138.5L70.3 136.0L70.8 132.8L71.3 129.3L71.8 125.6L72.3 121.8L72.8 118.2L73.3 115.0L73.8 112.3L74.3 110.3L74.8 109.0L75.3 108.6L75.8 109.0L76.3 110.1L76.8 111.8L77.3 114.2L77.8 116.9L78.3 119.9L78.8 122.9L79.3 125.9L79.8 128.5L80.3 130.8L80.8 132.4L81.3 133.4L81.8 133.6L82.3 133.2L82.8 132.1L83.3 130.6L83.8 128.5L84.3 126.1L84.8 123.4L85.3 120.5L85.8 117.7L86.3 114.9L86.8 112.4L87.3 110.3L87.8 108.6L88.3 107.5L88.8 106.9L89.3 107.0L89.8 107.8L90.3 109.2L90.8 111.1L91.3 113.5L91.8 116.2L92.3 119.0L92.8 121.7L93.3 124.3L93.8 126.4L94.3 128.0L94.8 129.1L95.3 129.4L95.8 129.1L96.3 128.3L96.8 127.0L97.3 125.3L97.8 123.2L98.3 120.9L98.8 118.4L99.3 115.9L99.8 113.6L100.3 111.4L100.8 109.6L101.3 108.2L101.8 107.3L102.3 106.9L102.8 107.1L103.3 107.8L103.8 109.0L104.3 110.6L104.8 112.6L105.3 114.8L105.8 117.1L106.3 119.3L106.8 121.4L107.3 123.3L107.8 124.8L108.3 125.8L108.8 126.3L109.3 126.2L109.8 125.6L110.3 124.6L110.8 123.1L111.3 121.3L111.8 119.3L112.3 117.2L112.8 115.0L113.3 113.0L113.8 111.2L114.3 109.7L114.8 108.7L115.3 108.1L115.8 108.0L116.3 108.4L116.8 109.2L117.3 110.3L117.8 111.8L118.3 113.5L118.8 115.3L119.3 117.2L119.8 119.1L120.3 120.8L120.8 122.3L121.3 123.5L121.8 124.4L122.3 124.8L122.8 124.9L123.3 124.4L123.8 123.6L124.3 122.3L124.8 120.8L125.3 119.0L125.8 117.1L126.3 115.2L126.8 113.4L127.3 111.9L127.8 110.6L128.3 109.8L128.8 109.3L129.3 109.4L129.8 109.7L130.3 110.4L130.8 111.4L131.3 112.7L131.8 114.1L132.3 115.6L132.8 117.2L133.3 118.7L133.8 120.2L134.3 121.4L134.8 122.5L135.3 123.2L135.8 123.7L136.3 123.8L136.8 123.5L137.3 122.9L137.8 121.9L138.3 120.6L138.8 119.2L139.3 117.6L139.8 116.0L140.3 114.5L140.8 113.2L141.3 112.1L141.8 111.3L142.3 110.9L142.8 110.8L143.3 111.1L143.8 111.6L144.3 112.5L144.8 113.5L145.3 114.7L145.8 115.9L146.3 117.3L146.8 118.5L147.3 119.7L147.8 120.7L148.3 121.6L148.8 122.1L149.3 122.4L149.8 122.3L150.3 122.0L150.8 121.4L151.3 120.5L151.8 119.4L152.3 118.2L152.8 116.9L153.3 115.6L153.8 114.4L154.3 113.3L154.8 112.5L155.3 111.9L155.8 111.6L156.3 111.6L156.8 111.9L157.3 112.4L157.8 113.1L158.3 113.9L158.8 114.9L159.3 115.9L159.8 117.0L160.3 118.0L160.8 118.9L161.3 119.7L161.8 120.2L162.3 120.6L162.8 120.7L163.3 120.6L163.8 120.2L164.3 119.6L164.8 118.9L165.3 117.9L165.8 116.9L166.3 115.8L166.8 114.8L167.3 113.8L167.8 112.9L168.3 112.1L168.8 111.6L169.3 111.3L169.8 111.2L170.3 111.4L170.8 111.7L171.3 112.2L171.8 112.9L172.3 113.7L172.8 114.6L173.3 115.5L173.8 116.3L174.3 117.1L174.8 117.7L175.3 118.2L175.8 118.4L176.3 118.5L176.8 118.3L177.3 118.0L177.8 117.5L178.3 116.8L178.8 115.9L179.3 115.1L179.8 114.1L180.3 113.2L180.8 112.3L181.3 111.6L181.8 111.0L182.3 110.6L182.8 110.3L183.3 110.3L183.8 110.5L184.3 110.8L184.8 111.2L185.3 111.8L185.8 112.4L186.3 113.1L186.8 113.8L187.3 114.4L187.8 115.0L188.3 115.5L188.8 115.8L189.3 116.0L189.8 116.0L190.3 115.8L190.8 115.5L191.3 114.9L191.8 114.3L192.3 113.5L192.8 112.7L193.3 111.9L193.8 111.1L194.3 110.3L194.8 109.7L195.3 109.1L195.8 108.8L196.3 108.6L196.8 108.6L197.3 108.8L197.8 109.0L198.3 109.4L198.8 109.8L199.3 110.3L199.8 110.9L200.3 111.4L200.8 112.0L201.3 112.5L201.8 112.9L202.3 113.2L202.8 113.4L203.3 113.5L203.8 113.4L204.3 113.2L204.8 112.8L205.3 112.2L205.8 111.5L206.3 110.7L206.8 110.0L207.3 109.2L207.8 108.5L208.3 107.9L208.8 107.5L209.3 107.3L209.8 107.2L210.3 107.3L210.8 107.5L211.3 107.8L211.8 108.2L212.3 108.7L212.8 109.2L213.3 109.8L213.8 110.3L214.3 110.8L214.8 111.2L215.3 111.5L215.8 111.8L216.3 111.9L216.8 111.9L217.3 111.7L217.8 111.4L218.3 111.0L218.8 110.5L219.3 109.9L219.8 109.3L220.3 108.6L220.8 108.0L221.3 107.5L221.8 107.0L222.3 106.7L222.8 106.5L223.3 106.4L223.8 106.5L224.3 106.6L224.8 106.9L225.3 107.2L225.8 107.7L226.3 108.1L226.8 108.6L227.3 109.1L227.8 109.5L228.3 109.9L228.8 110.2L229.3 110.5L229.8 110.6L230.3 110.6L230.8 110.5L231.3 110.2L231.8 109.8L232.3 109.4L232.8 108.8L233.3 108.2L233.8 107.6L234.3 107.1L234.8 106.5L235.3 106.1L235.8 105.8L236.3 105.6L236.8 105.5L237.3 105.6L237.8 105.7L238.3 105.9L238.8 106.3L239.3 106.6L239.8 107.1L240.3 107.5L240.8 107.9L241.3 108.3L241.8 108.7L242.3 109.0L242.8 109.2L243.3 109.3L243.8 109.3L244.3 109.2L244.8 109.0L245.3 108.7L245.8 108.3L246.3 107.9L246.8 107.4L247.3 106.9L247.8 106.4L248.3 105.9L248.8 105.5L249.3 105.2L249.8 104.9L250.3 104.8L250.8 104.7L251.3 104.8L251.8 104.9L252.3 105.1L252.8 105.5L253.3 105.8L253.8 106.2L254.3 106.7L254.8 107.1L255.3 107.4L255.8 107.8L256.3 108.0L256.8 108.1L257.3 108.2L257.8 108.1L258.3 108.0L258.8 107.7L259.3 107.4L259.8 107.0L260.3 106.5L260.8 106.1L261.3 105.6L261.8 105.2L262.3 104.8L262.8 104.5L263.3 104.3L263.8 104.2L264.3 104.2L264.8 104.3L265.3 104.4L265.8 104.6L266.3 104.9L266.8 105.2L267.3 105.5L267.8 105.8L268.3 106.1L268.8 106.4L269.3 106.6L269.8 106.8L270.3 107.0L270.8 107.1L271.3 107.1L271.8 107.0L272.3 106.9L272.8 106.6L273.3 106.2L273.8 105.9L274.3 105.4L274.8 105.0L275.3 104.6L275.8 104.2L276.3 103.9L276.8 103.7L277.3 103.5L277.8 103.5L278.3 103.6L278.8 103.7L279.3 103.8L279.8 104.1L280.3 104.3L280.8 104.6L281.3 104.9L281.8 105.2L282.3 105.5L282.8 105.7L283.3 105.9L283.8 106.0L284.3 106.0L284.8 106.0L285.3 105.9L285.8 105.7L286.3 105.4L286.8 105.1L287.3 104.8L287.8 104.5L288.3 104.1L288.8 103.8L289.3 103.5L289.8 103.2L290.3 103.0L290.8 102.9L291.3 102.8L291.8 102.8L292.3 102.9L292.8 103.0L293.3 103.2L293.8 103.4L294.3 103.7L294.8 103.9L295.3 104.2" fill="none" stroke="#D95319" stroke-width="1.75" stroke-linejoin="round" clip-path="url(#c1)"/>
<path d="M30.3 146.3L30.8 140.7L31.3 135.2L31.8 130.1L32.3 125.5L32.8 121.5L33.3 118.2L33.8 115.9L34.3 114.4L34.8 113.9L35.3 114.5L35.8 116.3L36.3 119.2L36.8 122.9L37.3 127.4L37.8 132.4L38.3 137.5L38.8 142.5L39.3 147.1L39.8 151.0L40.3 154.1L40.8 156.1L41.3 157.0L41.8 156.6L42.3 155.2L42.8 152.8L43.3 149.5L43.8 145.5L44.3 141.0L44.8 136.2L45.3 131.4L45.8 126.8L46.3 122.7L46.8 119.3L47.3 116.7L47.8 115.0L48.3 114.5L48.8 115.0L49.3 116.4L49.8 118.6L50.3 121.5L50.8 125.0L51.3 128.8L51.8 132.7L52.3 136.5L52.8 140.0L53.3 142.9L53.8 145.1L54.3 146.5L54.8 147.0L55.3 146.6L55.8 145.5L56.3 143.6L56.8 141.2L57.3 138.2L57.8 134.9L58.3 131.4L58.8 127.8L59.3 124.4L59.8 121.3L60.3 118.6L60.8 116.5L61.3 115.1L61.8 114.4L62.3 114.4L62.8 115.2L63.3 116.6L63.8 118.6L64.3 121.0L64.8 123.7L65.3 126.6L65.8 129.4L66.3 132.0L66.8 134.3L67.3 136.0L67.8 137.2L68.3 137.7L68.8 137.5L69.3 136.7L69.8 135.2L70.3 133.3L70.8 130.9L71.3 128.2L71.8 125.3L72.3 122.5L72.8 119.7L73.3 117.3L73.8 115.2L74.3 113.7L74.8 112.7L75.3 112.4L75.8 112.7L76.3 113.4L76.8 114.7L77.3 116.3L77.8 118.3L78.3 120.4L78.8 122.5L79.3 124.6L79.8 126.5L80.3 128.1L80.8 129.3L81.3 129.9L81.8 130.1L82.3 129.8L82.8 129.0L83.3 127.8L83.8 126.3L84.3 124.5L84.8 122.5L85.3 120.4L85.8 118.3L86.3 116.3L86.8 114.4L87.3 112.8L87.8 111.6L88.3 110.7L88.8 110.3L89.3 110.4L89.8 110.9L90.3 111.7L90.8 113.0L91.3 114.5L91.8 116.1L92.3 117.9L92.8 119.7L93.3 121.3L93.8 122.7L94.3 123.8L94.8 124.5L95.3 124.8L95.8 124.7L96.3 124.2L96.8 123.4L97.3 122.3L97.8 121.0L98.3 119.5L98.8 117.9L99.3 116.3L99.8 114.7L100.3 113.3L100.8 112.1L101.3 111.2L101.8 110.6L102.3 110.3L102.8 110.4L103.3 110.8L103.8 111.5L104.3 112.4L104.8 113.5L105.3 114.7L105.8 116.0L106.3 117.3L106.8 118.5L107.3 119.5L107.8 120.3L108.3 120.9L108.8 121.2L109.3 121.2L109.8 120.9L110.3 120.3L110.8 119.5L111.3 118.6L111.8 117.5L112.3 116.3L112.8 115.1L113.3 114.0L113.8 112.9L114.3 112.1L114.8 111.4L115.3 111.0L115.8 110.9L116.3 111.0L116.8 111.4L117.3 112.0L117.8 112.8L118.3 113.7L118.8 114.8L119.3 115.9L119.8 116.9L120.3 117.9L120.8 118.8L121.3 119.5L121.8 120.0L122.3 120.2L122.8 120.2L123.3 119.9L123.8 119.5L124.3 118.9L124.8 118.2L125.3 117.4L125.8 116.5L126.3 115.6L126.8 114.7L127.3 113.9L127.8 113.3L128.3 112.8L128.8 112.5L129.3 112.4L129.8 112.5L130.3 112.8L130.8 113.2L131.3 113.8L131.8 114.4L132.3 115.2L132.8 116.0L133.3 116.8L133.8 117.5L134.3 118.1L134.8 118.6L135.3 118.9L135.8 119.1L136.3 119.1L136.8 118.9L137.3 118.5L137.8 118.0L138.3 117.4L138.8 116.7L139.3 116.0L139.8 115.3L140.3 114.6L140.8 114.0L141.3 113.5L141.8 113.1L142.3 112.9L142.8 112.9L143.3 113.0L143.8 113.3L144.3 113.6L144.8 114.1L145.3 114.6L145.8 115.2L146.3 115.8L146.8 116.4L147.3 116.9L147.8 117.4L148.3 117.7L148.8 118.0L149.3 118.1L149.8 118.1L150.3 117.9L150.8 117.7L151.3 117.3L151.8 116.8L152.3 116.3L152.8 115.8L153.3 115.3L153.8 114.8L154.3 114.3L154.8 114.0L155.3 113.7L155.8 113.6L156.3 113.6L156.8 113.7L157.3 113.9L157.8 114.1L158.3 114.4L158.8 114.8L159.3 115.1L159.8 115.5L160.3 115.8L160.8 116.2L161.3 116.4L161.8 116.6L162.3 116.8L162.8 116.8L163.3 116.7L163.8 116.6L164.3 116.4L164.8 116.0L165.3 115.7L165.8 115.2L166.3 114.8L166.8 114.4L167.3 114.0L167.8 113.6L168.3 113.3L168.8 113.1L169.3 112.9L169.8 112.9L170.3 113.0L170.8 113.1L171.3 113.3L171.8 113.5L172.3 113.8L172.8 114.1L173.3 114.4L173.8 114.7L174.3 115.0L174.8 115.2L175.3 115.4L175.8 115.5L176.3 115.5L176.8 115.4L177.3 115.3L177.8 115.0L178.3 114.7L178.8 114.3L179.3 113.9L179.8 113.4L180.3 113.0L180.8 112.6L181.3 112.2L181.8 111.9L182.3 111.7L182.8 111.6L183.3 111.6L183.8 111.7L184.3 111.7L184.8 111.9L185.3 112.1L185.8 112.3L186.3 112.5L186.8 112.7L187.3 112.9L187.8 113.1L188.3 113.2L188.8 113.3L189.3 113.4L189.8 113.4L190.3 113.3L190.8 113.1L191.3 112.9L191.8 112.6L192.3 112.2L192.8 111.8L193.3 111.5L193.8 111.1L194.3 110.7L194.8 110.4L195.3 110.2L195.8 110.0L196.3 109.9L196.8 109.9L197.3 109.9L197.8 110.0L198.3 110.1L198.8 110.2L199.3 110.3L199.8 110.4L200.3 110.5L200.8 110.7L201.3 110.8L201.8 110.9L202.3 110.9L202.8 111.0L203.3 111.0L203.8 111.0L204.3 110.9L204.8 110.7L205.3 110.5L205.8 110.2L206.3 109.9L206.8 109.7L207.3 109.4L207.8 109.1L208.3 108.9L208.8 108.7L209.3 108.6L209.8 108.6L210.3 108.6L210.8 108.7L211.3 108.7L211.8 108.8L212.3 108.9L212.8 109.0L213.3 109.1L213.8 109.3L214.3 109.4L214.8 109.5L215.3 109.5L215.8 109.6L216.3 109.6L216.8 109.6L217.3 109.5L217.8 109.4L218.3 109.3L218.8 109.1L219.3 108.9L219.8 108.6L220.3 108.4L220.8 108.2L221.3 108.0L221.8 107.8L222.3 107.7L222.8 107.6L223.3 107.6L223.8 107.6L224.3 107.6L224.8 107.7L225.3 107.7L225.8 107.8L226.3 107.9L226.8 108.0L227.3 108.0L227.8 108.1L228.3 108.2L228.8 108.2L229.3 108.3L229.8 108.3L230.3 108.3L230.8 108.3L231.3 108.2L231.8 108.1L232.3 107.9L232.8 107.7L233.3 107.6L233.8 107.4L234.3 107.2L234.8 107.0L235.3 106.9L235.8 106.8L236.3 106.7L236.8 106.7L237.3 106.7L237.8 106.7L238.3 106.8L238.8 106.8L239.3 106.8L239.8 106.9L240.3 107.0L240.8 107.0L241.3 107.1L241.8 107.1L242.3 107.2L242.8 107.2L243.3 107.2L243.8 107.2L244.3 107.2L244.8 107.1L245.3 107.0L245.8 106.9L246.3 106.7L246.8 106.5L247.3 106.4L247.8 106.2L248.3 106.0L248.8 105.9L249.3 105.8L249.8 105.7L250.3 105.6L250.8 105.6L251.3 105.6L251.8 105.6L252.3 105.7L252.8 105.7L253.3 105.7L253.8 105.8L254.3 105.8L254.8 105.9L255.3 105.9L255.8 105.9L256.3 106.0L256.8 106.0L257.3 106.0L257.8 106.0L258.3 105.9L258.8 105.9L259.3 105.8L259.8 105.6L260.3 105.5L260.8 105.4L261.3 105.2L261.8 105.1L262.3 105.0L262.8 104.9L263.3 104.8L263.8 104.8L264.3 104.8L264.8 104.8L265.3 104.8L265.8 104.8L266.3 104.9L266.8 104.9L267.3 104.9L267.8 105.0L268.3 105.0L268.8 105.0L269.3 105.1L269.8 105.1L270.3 105.1L270.8 105.1L271.3 105.1L271.8 105.1L272.3 105.0L272.8 104.9L273.3 104.8L273.8 104.7L274.3 104.6L274.8 104.5L275.3 104.3L275.8 104.2L276.3 104.1L276.8 104.1L277.3 104.0L277.8 104.0L278.3 104.0L278.8 104.0L279.3 104.0L279.8 104.0L280.3 104.1L280.8 104.1L281.3 104.1L281.8 104.1L282.3 104.2L282.8 104.2L283.3 104.2L283.8 104.2L284.3 104.2L284.8 104.2L285.3 104.1L285.8 104.1L286.3 104.0L286.8 103.9L287.3 103.8L287.8 103.7L288.3 103.6L288.8 103.4L289.3 103.3L289.8 103.2L290.3 103.2L290.8 103.1L291.3 103.1L291.8 103.1L292.3 103.1L292.8 103.1L293.3 103.1L293.8 103.2L294.3 103.2L294.8 103.2L295.3 103.2" fill="none" stroke="#EDB120" stroke-width="1.75" stroke-linejoin="round" clip-path="url(#c1)"/>
<path d="M30.3 146.3L30.8 140.7L31.3 135.2L31.8 130.1L32.3 125.5L32.8 121.5L33.3 118.2L33.8 115.9L34.3 114.4L34.8 113.9L35.3 114.5L35.8 116.3L36.3 119.2L36.8 122.9L37.3 127.4L37.8 132.4L38.3 137.5L38.8 142.5L39.3 147.1L39.8 151.0L40.3 154.1L40.8 156.1L41.3 157.0L41.8 156.6L42.3 155.2L42.8 152.8L43.3 149.5L43.8 145.5L44.3 141.0L44.8 136.2L45.3 131.4L45.8 126.8L46.3 122.7L46.8 119.3L47.3 116.7L47.8 115.0L48.3 114.5L48.8 115.0L49.3 116.4L49.8 118.6L50.3 121.5L50.8 125.0L51.3 128.8L51.8 132.7L52.3 136.5L52.8 140.0L53.3 142.9L53.8 145.1L54.3 146.5L54.8 147.0L55.3 146.6L55.8 145.5L56.3 143.6L56.8 141.2L57.3 138.2L57.8 134.9L58.3 131.4L58.8 127.8L59.3 124.4L59.8 121.3L60.3 118.6L60.8 116.5L61.3 115.1L61.8 114.4L62.3 114.4L62.8 115.2L63.3 116.6L63.8 118.6L64.3 121.0L64.8 123.7L65.3 126.6L65.8 129.4L66.3 132.0L66.8 134.3L67.3 136.0L67.8 137.2L68.3 137.7L68.8 137.5L69.3 136.7L69.8 135.2L70.3 133.3L70.8 130.9L71.3 128.2L71.8 125.3L72.3 122.5L72.8 119.7L73.3 117.3L73.8 115.2L74.3 113.7L74.8 112.7L75.3 112.4L75.8 112.7L76.3 113.4L76.8 114.7L77.3 116.3L77.8 118.3L78.3 120.4L78.8 122.5L79.3 124.6L79.8 126.5L80.3 128.1L80.8 129.3L81.3 129.9L81.8 130.1L82.3 129.8L82.8 129.0L83.3 127.8L83.8 126.3L84.3 124.5L84.8 122.5L85.3 120.4L85.8 118.3L86.3 116.3L86.8 114.4L87.3 112.8L87.8 111.6L88.3 110.7L88.8 110.3L89.3 110.4L89.8 110.9L90.3 111.7L90.8 113.0L91.3 114.5L91.8 116.1L92.3 117.9L92.8 119.7L93.3 121.3L93.8 122.7L94.3 123.8L94.8 124.5L95.3 124.8L95.8 124.7L96.3 124.2L96.8 123.4L97.3 122.3L97.8 121.0L98.3 119.5L98.8 117.9L99.3 116.3L99.8 114.7L100.3 113.3L100.8 112.1L101.3 111.2L101.8 110.6L102.3 110.3L102.8 110.4L103.3 110.8L103.8 111.5L104.3 112.4L104.8 113.5L105.3 114.7L105.8 116.0L106.3 117.3L106.8 118.5L107.3 119.5L107.8 120.3L108.3 120.9L108.8 121.2L109.3 121.2L109.8 120.9L110.3 120.3L110.8 119.5L111.3 118.6L111.8 117.5L112.3 116.3L112.8 115.1L113.3 114.0L113.8 112.9L114.3 112.1L114.8 111.4L115.3 111.0L115.8 110.9L116.3 111.0L116.8 111.4L117.3 112.0L117.8 112.8L118.3 113.7L118.8 114.8L119.3 115.9L119.8 116.9L120.3 117.9L120.8 118.8L121.3 119.5L121.8 120.0L122.3 120.2L122.8 120.2L123.3 119.9L123.8 119.5L124.3 118.9L124.8 118.2L125.3 117.4L125.8 116.5L126.3 115.6L126.8 114.7L127.3 113.9L127.8 113.3L128.3 112.8L128.8 112.5L129.3 112.4L129.8 112.5L130.3 112.8L130.8 113.2L131.3 113.8L131.8 114.4L132.3 115.2L132.8 116.0L133.3 116.8L133.8 117.5L134.3 118.1L134.8 118.6L135.3 118.9L135.8 119.1L136.3 119.1L136.8 118.9L137.3 118.5L137.8 118.0L138.3 117.4L138.8 116.7L139.3 116.0L139.8 115.3L140.3 114.6L140.8 114.0L141.3 113.5L141.8 113.1L142.3 112.9L142.8 112.9L143.3 113.0L143.8 113.3L144.3 113.6L144.8 114.1L145.3 114.6L145.8 115.2L146.3 115.8L146.8 116.4L147.3 116.9L147.8 117.4L148.3 117.7L148.8 118.0L149.3 118.1L149.8 118.1L150.3 117.9L150.8 117.7L151.3 117.3L151.8 116.8L152.3 116.3L152.8 115.8L153.3 115.3L153.8 114.8L154.3 114.3L154.8 114.0L155.3 113.7L155.8 113.6L156.3 113.6L156.8 113.7L157.3 113.9L157.8 114.1L158.3 114.4L158.8 114.8L159.3 115.1L159.8 115.5L160.3 115.8L160.8 116.2L161.3 116.4L161.8 116.6L162.3 116.8L162.8 116.8L163.3 116.7L163.8 116.6L164.3 116.4L164.8 116.0L165.3 115.7L165.8 115.2L166.3 114.8L166.8 114.4L167.3 114.0L167.8 113.6L168.3 113.3L168.8 113.1L169.3 112.9L169.8 112.9L170.3 113.0L170.8 113.1L171.3 113.3L171.8 113.5L172.3 113.8L172.8 114.1L173.3 114.4L173.8 114.7L174.3 115.0L174.8 115.2L175.3 115.4L175.8 115.5L176.3 115.5L176.8 115.4L177.3 115.3L177.8 115.0L178.3 114.7L178.8 114.3L179.3 113.9L179.8 113.4L180.3 113.0L180.8 112.6L181.3 112.2L181.8 111.9L182.3 111.7L182.8 111.6L183.3 111.6L183.8 111.7L184.3 111.7L184.8 111.9L185.3 112.1L185.8 112.3L186.3 112.5L186.8 112.7L187.3 112.9L187.8 113.1L188.3 113.2L188.8 113.3L189.3 113.4L189.8 113.4L190.3 113.3L190.8 113.1L191.3 112.9L191.8 112.6L192.3 112.2L192.8 111.8L193.3 111.5L193.8 111.1L194.3 110.7L194.8 110.4L195.3 110.2L195.8 110.0L196.3 109.9L196.8 109.9L197.3 109.9L197.8 110.0L198.3 110.1L198.8 110.2L199.3 110.3L199.8 110.4L200.3 110.5L200.8 110.7L201.3 110.8L201.8 110.9L202.3 110.9L202.8 111.0L203.3 111.0L203.8 111.0L204.3 110.9L204.8 110.7L205.3 110.5L205.8 110.2L206.3 109.9L206.8 109.7L207.3 109.4L207.8 109.1L208.3 108.9L208.8 108.7L209.3 108.6L209.8 108.6L210.3 108.6L210.8 108.7L211.3 108.7L211.8 108.8L212.3 108.9L212.8 109.0L213.3 109.1L213.8 109.3L214.3 109.4L214.8 109.5L215.3 109.5L215.8 109.6L216.3 109.6L216.8 109.6L217.3 109.5L217.8 109.4L218.3 109.3L218.8 109.1L219.3 108.9L219.8 108.6L220.3 108.4L220.8 108.2L221.3 108.0L221.8 107.8L222.3 107.7L222.8 107.6L223.3 107.6L223.8 107.6L224.3 107.6L224.8 107.7L225.3 107.7L225.8 107.8L226.3 107.9L226.8 108.0L227.3 108.0L227.8 108.1L228.3 108.2L228.8 108.2L229.3 108.3L229.8 108.3L230.3 108.3L230.8 108.3L231.3 108.2L231.8 108.1L232.3 107.9L232.8 107.7L233.3 107.6L233.8 107.4L234.3 107.2L234.8 107.0L235.3 106.9L235.8 106.8L236.3 106.7L236.8 106.7L237.3 106.7L237.8 106.7L238.3 106.8L238.8 106.8L239.3 106.8L239.8 106.9L240.3 107.0L240.8 107.0L241.3 107.1L241.8 107.1L242.3 107.2L242.8 107.2L243.3 107.2L243.8 107.2L244.3 107.2L244.8 107.1L245.3 107.0L245.8 106.9L246.3 106.7L246.8 106.5L247.3 106.4L247.8 106.2L248.3 106.0L248.8 105.9L249.3 105.8L249.8 105.7L250.3 105.6L250.8 105.6L251.3 105.6L251.8 105.6L252.3 105.7L252.8 105.7L253.3 105.7L253.8 105.8L254.3 105.8L254.8 105.9L255.3 105.9L255.8 105.9L256.3 106.0L256.8 106.0L257.3 106.0L257.8 106.0L258.3 105.9L258.8 105.9L259.3 105.8L259.8 105.6L260.3 105.5L260.8 105.4L261.3 105.2L261.8 105.1L262.3 105.0L262.8 104.9L263.3 104.8L263.8 104.8L264.3 104.8L264.8 104.8L265.3 104.8L265.8 104.8L266.3 104.9L266.8 104.9L267.3 104.9L267.8 105.0L268.3 105.0L268.8 105.0L269.3 105.1L269.8 105.1L270.3 105.1L270.8 105.1L271.3 105.1L271.8 105.1L272.3 105.0L272.8 104.9L273.3 104.8L273.8 104.7L274.3 104.6L274.8 104.5L275.3 104.3L275.8 104.2L276.3 104.1L276.8 104.1L277.3 104.0L277.8 104.0L278.3 104.0L278.8 104.0L279.3 104.0L279.8 104.0L280.3 104.1L280.8 104.1L281.3 104.1L281.8 104.1L282.3 104.2L282.8 104.2L283.3 104.2L283.8 104.2L284.3 104.2L284.8 104.2L285.3 104.1L285.8 104.1L286.3 104.0L286.8 103.9L287.3 103.8L287.8 103.7L288.3 103.6L288.8 103.4L289.3 103.3L289.8 103.2L290.3 103.2L290.8 103.1L291.3 103.1L291.8 103.1L292.3 103.1L292.8 103.1L293.3 103.1L293.8 103.2L294.3 103.2L294.8 103.2L295.3 103.2" fill="none" stroke="#7E2F8E" stroke-width="1.75" stroke-linejoin="round" stroke-dasharray="3.7 1.2 1.6 1.2" clip-path="url(#c1)"/>
<path d="M30.3 193.3L30.8 196.9L31.3 199.8L31.8 201.5L32.3 201.8L32.8 201.3L33.3 200.3L33.8 198.9L34.3 197.0L34.8 194.9L35.3 192.6L35.8 190.3L36.3 188.0L36.8 185.9L37.3 184.0L37.8 182.6L38.3 181.6L38.8 181.1L39.3 181.2L39.8 181.8L40.3 183.0L40.8 184.6L41.3 186.6L41.8 188.9L42.3 191.3L42.8 193.8L43.3 196.1L43.8 198.2L44.3 200.0L44.8 201.4L45.3 202.2L45.8 202.5L46.3 202.3L46.8 201.6L47.3 200.6L47.8 199.1L48.3 197.5L48.8 195.6L49.3 193.7L49.8 191.7L50.3 189.9L50.8 188.4L51.3 187.1L51.8 186.2L52.3 185.7L52.8 185.6L53.3 186.1L53.8 187.0L54.3 188.2L54.8 189.8L55.3 191.6L55.8 193.4L56.3 195.2L56.8 196.9L57.3 198.2L57.8 199.2L58.3 199.7L58.8 199.8L59.3 199.5L59.8 199.0L60.3 198.2L60.8 197.3L61.3 196.1L61.8 194.9L62.3 193.6L62.8 192.4L63.3 191.2L63.8 190.1L64.3 189.3L64.8 188.7L65.3 188.3L65.8 188.2L66.3 188.4L66.8 188.8L67.3 189.4L67.8 190.2L68.3 191.2L68.8 192.1L69.3 193.2L69.8 194.1L70.3 194.9L70.8 195.6L71.3 196.1L71.8 196.3L72.3 196.3L72.8 196.1L73.3 195.8L73.8 195.4L74.3 194.9L74.8 194.3L75.3 193.7L75.8 193.0L76.3 192.4L76.8 191.8L77.3 191.3L77.8 190.8L78.3 190.5L78.8 190.3L79.3 190.3L79.8 190.4L80.3 190.6L80.8 191.0L81.3 191.4L81.8 191.9L82.3 192.4L82.8 193.0L83.3 193.5L83.8 193.9L84.3 194.3L84.8 194.5L85.3 194.6L85.8 194.6L86.3 194.5L86.8 194.3L87.3 194.0L87.8 193.6L88.3 193.2L88.8 192.8L89.3 192.3L89.8 191.9L90.3 191.5L90.8 191.1L91.3 190.7L91.8 190.4L92.3 190.2L92.8 190.1L93.3 190.1L93.8 190.2L94.3 190.4L94.8 190.8L95.3 191.2L95.8 191.7L96.3 192.2L96.8 192.6L97.3 193.0L97.8 193.3L98.3 193.4L98.8 193.4L99.3 193.3L99.8 193.2L100.3 193.1L100.8 192.9L101.3 192.7L101.8 192.5L102.3 192.2L102.8 192.0L103.3 191.7L103.8 191.5L104.3 191.3L104.8 191.2L105.3 191.1L105.8 191.0L106.3 191.0L106.8 191.0L107.3 191.2L107.8 191.3L108.3 191.5L108.8 191.8L109.3 192.0L109.8 192.2L110.3 192.4L110.8 192.6L111.3 192.7L111.8 192.8L112.3 192.8L112.8 192.8L113.3 192.7L113.8 192.7L114.3 192.6L114.8 192.6L115.3 192.5L115.8 192.4L116.3 192.4L116.8 192.3L117.3 192.2L117.8 192.1L118.3 192.1L118.8 192.0L119.3 192.0L119.8 192.0L120.3 192.0L120.8 192.0L121.3 192.0L121.8 192.0L122.3 192.0L122.8 192.1L123.3 192.1L123.8 192.1L124.3 192.1L124.8 192.1L125.3 192.1L125.8 192.1L126.3 192.1L126.8 192.1L127.3 192.1L127.8 192.2L128.3 192.2L128.8 192.2L129.3 192.2L129.8 192.2L130.3 192.2L130.8 192.2L131.3 192.2L131.8 192.2L132.3 192.2L132.8 192.3L133.3 192.3L133.8 192.3L134.3 192.3L134.8 192.3L135.3 192.3L135.8 192.3L136.3 192.3L136.8 192.3L137.3 192.3L137.8 192.4L138.3 192.4L138.8 192.4L139.3 192.4L139.8 192.4L140.3 192.4L140.8 192.4L141.3 192.4L141.8 192.4L142.3 192.4L142.8 192.4L143.3 192.4L143.8 192.4L144.3 192.4L144.8 192.4L145.3 192.4L145.8 192.4L146.3 192.4L146.8 192.4L147.3 192.4L147.8 192.4L148.3 192.4L148.8 192.4L149.3 192.4L149.8 192.4L150.3 192.4L150.8 192.4L151.3 192.4L151.8 192.4L152.3 192.4L152.8 192.4L153.3 192.4L153.8 192.4L154.3 192.4L154.8 192.4L155.3 192.3L155.8 192.3L156.3 192.3L156.8 192.3L157.3 192.3L157.8 192.3L158.3 192.3L158.8 192.3L159.3 192.3L159.8 192.3L160.3 192.3L160.8 192.3L161.3 192.3L161.8 192.3L162.3 192.3L162.8 192.3L163.3 192.3L163.8 192.3L164.3 192.3L164.8 192.3L165.3 192.3L165.8 192.3L166.3 192.3L166.8 192.3L167.3 192.3L167.8 192.3L168.3 192.3L168.8 192.3L169.3 192.3L169.8 192.3L170.3 192.3L170.8 192.3L171.3 192.3L171.8 192.3L172.3 192.3L172.8 192.3L173.3 192.3L173.8 192.3L174.3 192.3L174.8 192.3L175.3 192.3L175.8 192.3L176.3 192.3L176.8 192.3L177.3 192.3L177.8 192.3L178.3 192.3L178.8 192.3L179.3 192.3L179.8 192.3L180.3 192.3L180.8 192.3L181.3 192.3L181.8 192.3L182.3 192.3L182.8 192.3L183.3 192.3L183.8 192.3L184.3 192.3L184.8 192.3L185.3 192.2L185.8 192.2L186.3 192.2L186.8 192.2L187.3 192.2L187.8 192.2L188.3 192.2L188.8 192.2L189.3 192.2L189.8 192.2L190.3 192.2L190.8 192.2L191.3 192.2L191.8 192.2L192.3 192.2L192.8 192.2L193.3 192.2L193.8 192.2L194.3 192.2L194.8 192.2L195.3 192.2L195.8 192.2L196.3 192.2L196.8 192.2L197.3 192.2L197.8 192.2L198.3 192.2L198.8 192.2L199.3 192.2L199.8 192.2L200.3 192.2L200.8 192.2L201.3 192.2L201.8 192.2L202.3 192.2L202.8 192.2L203.3 192.2L203.8 192.2L204.3 192.2L204.8 192.2L205.3 192.2L205.8 192.2L206.3 192.1L206.8 192.1L207.3 192.1L207.8 192.1L208.3 192.1L208.8 192.1L209.3 192.1L209.8 192.1L210.3 192.1L210.8 192.1L211.3 192.1L211.8 192.1L212.3 192.1L212.8 192.1L213.3 192.1L213.8 192.1L214.3 192.1L214.8 192.1L215.3 192.1L215.8 192.1L216.3 192.1L216.8 192.1L217.3 192.1L217.8 192.1L218.3 192.0L218.8 192.0L219.3 192.0L219.8 192.0L220.3 192.0L220.8 192.0L221.3 192.0L221.8 192.0L222.3 192.0L222.8 192.0L223.3 192.0L223.8 192.0L224.3 192.0L224.8 192.0L225.3 192.0L225.8 192.0L226.3 192.0L226.8 192.0L227.3 192.0L227.8 192.0L228.3 192.0L228.8 192.0L229.3 192.0L229.8 192.0L230.3 191.9L230.8 191.9L231.3 191.9L231.8 191.9L232.3 191.9L232.8 191.9L233.3 191.9L233.8 191.9L234.3 191.9L234.8 191.9L235.3 191.9L235.8 191.9L236.3 191.9L236.8 191.9L237.3 191.9L237.8 191.9L238.3 191.9L238.8 191.9L239.3 191.9L239.8 191.9L240.3 191.9L240.8 191.9L241.3 191.9L241.8 191.9L242.3 191.8L242.8 191.8L243.3 191.8L243.8 191.8L244.3 191.8L244.8 191.8L245.3 191.8L245.8 191.8L246.3 191.8L246.8 191.8L247.3 191.8L247.8 191.8L248.3 191.8L248.8 191.8L249.3 191.8L249.8 191.8L250.3 191.8L250.8 191.8L251.3 191.8L251.8 191.8L252.3 191.8L252.8 191.8L253.3 191.8L253.8 191.8L254.3 191.7L254.8 191.7L255.3 191.7L255.8 191.7L256.3 191.7L256.8 191.7L257.3 191.7L257.8 191.7L258.3 191.7L258.8 191.7L259.3 191.7L259.8 191.7L260.3 191.7L260.8 191.7L261.3 191.7L261.8 191.7L262.3 191.7L262.8 191.7L263.3 191.7L263.8 191.7L264.3 191.7L264.8 191.7L265.3 191.7L265.8 191.7L266.3 191.6L266.8 191.6L267.3 191.6L267.8 191.6L268.3 191.6L268.8 191.6L269.3 191.6L269.8 191.6L270.3 191.6L270.8 191.6L271.3 191.6L271.8 191.6L272.3 191.6L272.8 191.6L273.3 191.6L273.8 191.6L274.3 191.6L274.8 191.6L275.3 191.6L275.8 191.6L276.3 191.6L276.8 191.6L277.3 191.6L277.8 191.6L278.3 191.5L278.8 191.5L279.3 191.5L279.8 191.5L280.3 191.5L280.8 191.5L281.3 191.5L281.8 191.5L282.3 191.5L282.8 191.5L283.3 191.5L283.8 191.5L284.3 191.5L284.8 191.5L285.3 191.5L285.8 191.5L286.3 191.5L286.8 191.5L287.3 191.5L287.8 191.5L288.3 191.5L288.8 191.5L289.3 191.5L289.8 191.5L290.3 191.4L290.8 191.4L291.3 191.4L291.8 191.4L292.3 191.4L292.8 191.4L293.3 191.4L293.8 191.4L294.3 191.4L294.8 191.4L295.3 191.4" fill="none" stroke="#0072BD" stroke-width="1.75" stroke-linejoin="round" clip-path="url(#c2)"/>
<path d="M30.3 193.3L30.8 197.7L31.3 202.1L31.8 206.3L32.3 210.3L32.8 213.9L33.3 217.2L33.8 220.1L34.3 222.5L34.8 224.4L35.3 225.7L35.8 226.5L36.3 226.7L36.8 225.7L37.3 223.4L37.8 219.9L38.3 215.4L38.8 210.2L39.3 204.7L39.8 199.1L40.3 193.8L40.8 189.1L41.3 185.4L41.8 182.9L42.3 181.6L42.8 181.7L43.3 182.9L43.8 185.0L44.3 188.1L44.8 192.0L45.3 196.4L45.8 201.2L46.3 206.1L46.8 210.9L47.3 215.4L47.8 219.4L48.3 222.6L48.8 225.0L49.3 226.4L49.8 226.7L50.3 226.0L50.8 224.5L51.3 222.1L51.8 219.0L52.3 215.4L52.8 211.4L53.3 207.3L53.8 203.3L54.3 199.5L54.8 196.2L55.3 193.5L55.8 191.6L56.3 190.6L56.8 190.5L57.3 191.5L57.8 193.4L58.3 196.3L58.8 200.0L59.3 204.2L59.8 208.6L60.3 213.2L60.8 217.5L61.3 221.4L61.8 224.6L62.3 227.0L62.8 228.4L63.3 228.7L63.8 228.2L64.3 227.0L64.8 225.2L65.3 222.8L65.8 220.0L66.3 216.9L66.8 213.7L67.3 210.5L67.8 207.4L68.3 204.6L68.8 202.2L69.3 200.4L69.8 199.2L70.3 198.7L70.8 199.0L71.3 200.0L71.8 201.9L72.3 204.3L72.8 207.4L73.3 210.8L73.8 214.4L74.3 218.0L74.8 221.5L75.3 224.6L75.8 227.2L76.3 229.2L76.8 230.4L77.3 230.8L77.8 230.4L78.3 229.2L78.8 227.2L79.3 224.7L79.8 221.8L80.3 218.6L80.8 215.3L81.3 212.2L81.8 209.5L82.3 207.3L82.8 205.8L83.3 205.1L83.8 205.2L84.3 206.1L84.8 207.8L85.3 210.2L85.8 213.1L86.3 216.4L86.8 219.9L87.3 223.3L87.8 226.5L88.3 229.2L88.8 231.4L89.3 232.8L89.8 233.4L90.3 233.2L90.8 232.3L91.3 230.9L91.8 228.9L92.3 226.6L92.8 223.9L93.3 221.1L93.8 218.4L94.3 215.9L94.8 213.6L95.3 211.9L95.8 210.6L96.3 210.1L96.8 210.1L97.3 210.7L97.8 211.8L98.3 213.3L98.8 215.3L99.3 217.5L99.8 219.9L100.3 222.5L100.8 224.9L101.3 227.3L101.8 229.3L102.3 231.0L102.8 232.3L103.3 233.1L103.8 233.4L104.3 233.1L104.8 232.3L105.3 231.1L105.8 229.4L106.3 227.4L106.8 225.2L107.3 222.8L107.8 220.5L108.3 218.4L108.8 216.5L109.3 215.0L109.8 213.9L110.3 213.3L110.8 213.2L111.3 213.7L111.8 214.7L112.3 216.1L112.8 217.9L113.3 220.0L113.8 222.2L114.3 224.5L114.8 226.6L115.3 228.6L115.8 230.2L116.3 231.3L116.8 232.0L117.3 232.2L117.8 231.8L118.3 231.0L118.8 229.8L119.3 228.2L119.8 226.3L120.3 224.3L120.8 222.3L121.3 220.3L121.8 218.5L122.3 216.9L122.8 215.8L123.3 215.0L123.8 214.8L124.3 215.0L124.8 215.6L125.3 216.7L125.8 218.0L126.3 219.6L126.8 221.4L127.3 223.2L127.8 225.1L128.3 226.8L128.8 228.4L129.3 229.7L129.8 230.6L130.3 231.2L130.8 231.3L131.3 231.0L131.8 230.4L132.3 229.4L132.8 228.2L133.3 226.7L133.8 225.1L134.3 223.4L134.8 221.8L135.3 220.3L135.8 219.0L136.3 218.0L136.8 217.3L137.3 216.9L137.8 217.0L138.3 217.4L138.8 218.1L139.3 219.2L139.8 220.5L140.3 221.9L140.8 223.5L141.3 225.1L141.8 226.5L142.3 227.8L142.8 228.9L143.3 229.6L143.8 230.0L144.3 230.1L144.8 229.7L145.3 229.1L145.8 228.1L146.3 226.9L146.8 225.5L147.3 224.0L147.8 222.5L148.3 221.0L148.8 219.7L149.3 218.7L149.8 217.9L150.3 217.4L150.8 217.3L151.3 217.5L151.8 218.1L152.3 218.9L152.8 219.9L153.3 221.1L153.8 222.5L154.3 223.9L154.8 225.2L155.3 226.5L155.8 227.5L156.3 228.4L156.8 229.0L157.3 229.3L157.8 229.2L158.3 228.9L158.8 228.4L159.3 227.6L159.8 226.5L160.3 225.4L160.8 224.2L161.3 222.9L161.8 221.7L162.3 220.6L162.8 219.7L163.3 219.0L163.8 218.5L164.3 218.3L164.8 218.4L165.3 218.8L165.8 219.5L166.3 220.4L166.8 221.5L167.3 222.8L167.8 224.1L168.3 225.3L168.8 226.6L169.3 227.6L169.8 228.4L170.3 229.0L170.8 229.3L171.3 229.3L171.8 229.0L172.3 228.5L172.8 227.8L173.3 226.9L173.8 225.9L174.3 224.8L174.8 223.8L175.3 222.8L175.8 221.9L176.3 221.2L176.8 220.7L177.3 220.4L177.8 220.4L178.3 220.6L178.8 221.1L179.3 221.7L179.8 222.6L180.3 223.5L180.8 224.6L181.3 225.7L181.8 226.7L182.3 227.7L182.8 228.6L183.3 229.3L183.8 229.8L184.3 230.1L184.8 230.1L185.3 229.9L185.8 229.6L186.3 229.1L186.8 228.4L187.3 227.7L187.8 226.9L188.3 226.1L188.8 225.3L189.3 224.6L189.8 224.0L190.3 223.5L190.8 223.2L191.3 223.1L191.8 223.2L192.3 223.5L192.8 223.9L193.3 224.6L193.8 225.4L194.3 226.3L194.8 227.3L195.3 228.2L195.8 229.1L196.3 229.9L196.8 230.6L197.3 231.0L197.8 231.3L198.3 231.4L198.8 231.3L199.3 231.0L199.8 230.7L200.3 230.2L200.8 229.6L201.3 229.0L201.8 228.3L202.3 227.7L202.8 227.1L203.3 226.7L203.8 226.3L204.3 226.1L204.8 226.0L205.3 226.1L205.8 226.3L206.3 226.7L206.8 227.3L207.3 227.9L207.8 228.6L208.3 229.3L208.8 230.0L209.3 230.7L209.8 231.3L210.3 231.7L210.8 232.0L211.3 232.2L211.8 232.2L212.3 232.0L212.8 231.8L213.3 231.5L213.8 231.0L214.3 230.6L214.8 230.1L215.3 229.5L215.8 229.0L216.3 228.6L216.8 228.2L217.3 227.9L217.8 227.8L218.3 227.7L218.8 227.8L219.3 228.0L219.8 228.4L220.3 228.9L220.8 229.4L221.3 230.1L221.8 230.7L222.3 231.4L222.8 232.0L223.3 232.6L223.8 233.0L224.3 233.3L224.8 233.5L225.3 233.5L225.8 233.4L226.3 233.2L226.8 232.9L227.3 232.5L227.8 232.1L228.3 231.7L228.8 231.2L229.3 230.8L229.8 230.4L230.3 230.1L230.8 229.9L231.3 229.7L231.8 229.7L232.3 229.8L232.8 230.0L233.3 230.3L233.8 230.7L234.3 231.1L234.8 231.6L235.3 232.1L235.8 232.6L236.3 233.0L236.8 233.4L237.3 233.7L237.8 233.8L238.3 233.9L238.8 233.9L239.3 233.7L239.8 233.6L240.3 233.3L240.8 233.0L241.3 232.7L241.8 232.3L242.3 232.0L242.8 231.6L243.3 231.3L243.8 231.1L244.3 230.9L244.8 230.8L245.3 230.8L245.8 230.9L246.3 231.0L246.8 231.3L247.3 231.6L247.8 231.9L248.3 232.3L248.8 232.7L249.3 233.1L249.8 233.5L250.3 233.8L250.8 234.0L251.3 234.2L251.8 234.3L252.3 234.3L252.8 234.2L253.3 234.1L253.8 233.9L254.3 233.7L254.8 233.5L255.3 233.2L255.8 233.0L256.3 232.8L256.8 232.6L257.3 232.4L257.8 232.3L258.3 232.2L258.8 232.2L259.3 232.3L259.8 232.4L260.3 232.5L260.8 232.8L261.3 233.0L261.8 233.3L262.3 233.6L262.8 233.9L263.3 234.1L263.8 234.4L264.3 234.6L264.8 234.8L265.3 234.9L265.8 234.9L266.3 234.9L266.8 234.8L267.3 234.6L267.8 234.4L268.3 234.2L268.8 234.0L269.3 233.7L269.8 233.4L270.3 233.2L270.8 233.0L271.3 232.9L271.8 232.8L272.3 232.8L272.8 232.9L273.3 233.0L273.8 233.2L274.3 233.4L274.8 233.6L275.3 233.9L275.8 234.2L276.3 234.5L276.8 234.8L277.3 235.0L277.8 235.2L278.3 235.4L278.8 235.5L279.3 235.5L279.8 235.5L280.3 235.4L280.8 235.2L281.3 235.0L281.8 234.8L282.3 234.6L282.8 234.3L283.3 234.1L283.8 233.8L284.3 233.7L284.8 233.6L285.3 233.5L285.8 233.5L286.3 233.6L286.8 233.7L287.3 233.9L287.8 234.1L288.3 234.3L288.8 234.6L289.3 234.8L289.8 235.1L290.3 235.3L290.8 235.6L291.3 235.7L291.8 235.9L292.3 236.0L292.8 236.0L293.3 236.0L293.8 235.9L294.3 235.8L294.8 235.6L295.3 235.4" fill="none" stroke="#D95319" stroke-width="1.75" stroke-linejoin="round" clip-path="url(#c2)"/>
<path d="M30.3 193.3L30.8 196.5L31.3 199.3L31.8 201.4L32.3 202.6L32.8 202.8L33.3 202.2L33.8 201.1L34.3 199.5L34.8 197.5L35.3 195.2L35.8 192.7L36.3 190.2L36.8 187.7L37.3 185.5L37.8 183.7L38.3 182.3L38.8 181.4L39.3 181.1L39.8 181.4L40.3 182.1L40.8 183.4L41.3 185.1L41.8 187.1L42.3 189.4L42.8 191.8L43.3 194.2L43.8 196.6L44.3 198.8L44.8 200.6L45.3 202.2L45.8 203.2L46.3 203.8L46.8 203.9L47.3 203.4L47.8 202.4L48.3 201.0L48.8 199.2L49.3 197.2L49.8 195.0L50.3 192.7L50.8 190.6L51.3 188.6L51.8 187.0L52.3 185.7L52.8 185.0L53.3 184.7L53.8 185.0L54.3 185.7L54.8 187.0L55.3 188.6L55.8 190.5L56.3 192.6L56.8 194.7L57.3 196.8L57.8 198.7L58.3 200.3L58.8 201.6L59.3 202.3L59.8 202.6L60.3 202.4L60.8 201.7L61.3 200.7L61.8 199.3L62.3 197.7L62.8 195.9L63.3 194.0L63.8 192.2L64.3 190.5L64.8 189.1L65.3 188.0L65.8 187.2L66.3 186.9L66.8 187.0L67.3 187.5L67.8 188.2L68.3 189.3L68.8 190.5L69.3 192.0L69.8 193.5L70.3 195.0L70.8 196.5L71.3 197.9L71.8 199.0L72.3 199.9L72.8 200.5L73.3 200.7L73.8 200.6L74.3 200.1L74.8 199.3L75.3 198.1L75.8 196.8L76.3 195.4L76.8 193.8L77.3 192.4L77.8 191.1L78.3 190.0L78.8 189.3L79.3 188.9L79.8 188.8L80.3 189.0L80.8 189.4L81.3 190.0L81.8 190.8L82.3 191.7L82.8 192.7L83.3 193.7L83.8 194.7L84.3 195.7L84.8 196.7L85.3 197.4L85.8 198.1L86.3 198.5L86.8 198.8L87.3 198.8L87.8 198.6L88.3 198.1L88.8 197.5L89.3 196.7L89.8 195.8L90.3 194.8L90.8 193.7L91.3 192.8L91.8 191.9L92.3 191.1L92.8 190.6L93.3 190.2L93.8 190.1L94.3 190.2L94.8 190.5L95.3 191.0L95.8 191.6L96.3 192.4L96.8 193.2L97.3 194.1L97.8 195.0L98.3 195.8L98.8 196.5L99.3 197.1L99.8 197.5L100.3 197.8L100.8 197.8L101.3 197.6L101.8 197.2L102.3 196.7L102.8 196.0L103.3 195.3L103.8 194.4L104.3 193.6L104.8 192.8L105.3 192.1L105.8 191.5L106.3 191.0L106.8 190.8L107.3 190.7L107.8 190.8L108.3 191.1L108.8 191.5L109.3 192.1L109.8 192.7L110.3 193.4L110.8 194.1L111.3 194.9L111.8 195.5L112.3 196.1L112.8 196.5L113.3 196.8L113.8 197.0L114.3 197.0L114.8 196.8L115.3 196.5L115.8 196.1L116.3 195.5L116.8 194.9L117.3 194.3L117.8 193.6L118.3 193.0L118.8 192.4L119.3 192.0L119.8 191.6L120.3 191.4L120.8 191.4L121.3 191.5L121.8 191.7L122.3 192.1L122.8 192.5L123.3 193.0L123.8 193.6L124.3 194.1L124.8 194.7L125.3 195.2L125.8 195.7L126.3 196.0L126.8 196.3L127.3 196.4L127.8 196.4L128.3 196.2L128.8 196.0L129.3 195.6L129.8 195.2L130.3 194.7L130.8 194.2L131.3 193.7L131.8 193.2L132.3 192.7L132.8 192.4L133.3 192.1L133.8 191.9L134.3 191.9L134.8 192.0L135.3 192.2L135.8 192.4L136.3 192.8L136.8 193.2L137.3 193.6L137.8 194.1L138.3 194.5L138.8 195.0L139.3 195.3L139.8 195.6L140.3 195.8L140.8 195.9L141.3 195.9L141.8 195.8L142.3 195.6L142.8 195.3L143.3 195.0L143.8 194.6L144.3 194.1L144.8 193.7L145.3 193.3L145.8 193.0L146.3 192.7L146.8 192.5L147.3 192.3L147.8 192.3L148.3 192.4L148.8 192.5L149.3 192.7L149.8 193.0L150.3 193.3L150.8 193.7L151.3 194.0L151.8 194.4L152.3 194.7L152.8 195.0L153.3 195.3L153.8 195.4L154.3 195.5L154.8 195.5L155.3 195.4L155.8 195.2L156.3 195.0L156.8 194.7L157.3 194.4L157.8 194.1L158.3 193.7L158.8 193.4L159.3 193.1L159.8 192.9L160.3 192.7L160.8 192.6L161.3 192.6L161.8 192.6L162.3 192.8L162.8 192.9L163.3 193.2L163.8 193.4L164.3 193.7L164.8 194.0L165.3 194.3L165.8 194.6L166.3 194.8L166.8 195.0L167.3 195.1L167.8 195.2L168.3 195.2L168.8 195.1L169.3 195.0L169.8 194.8L170.3 194.6L170.8 194.3L171.3 194.1L171.8 193.8L172.3 193.6L172.8 193.3L173.3 193.1L173.8 193.0L174.3 192.9L174.8 192.9L175.3 192.9L175.8 193.0L176.3 193.2L176.8 193.4L177.3 193.6L177.8 193.8L178.3 194.0L178.8 194.3L179.3 194.5L179.8 194.7L180.3 194.8L180.8 194.9L181.3 195.0L181.8 195.0L182.3 194.9L182.8 194.8L183.3 194.7L183.8 194.5L184.3 194.3L184.8 194.1L185.3 193.9L185.8 193.6L186.3 193.5L186.8 193.3L187.3 193.2L187.8 193.1L188.3 193.1L188.8 193.1L189.3 193.2L189.8 193.3L190.3 193.5L190.8 193.7L191.3 193.9L191.8 194.1L192.3 194.3L192.8 194.5L193.3 194.6L193.8 194.8L194.3 194.9L194.8 194.9L195.3 194.9L195.8 194.8L196.3 194.8L196.8 194.6L197.3 194.5L197.8 194.3L198.3 194.1L198.8 193.9L199.3 193.8L199.8 193.6L200.3 193.5L200.8 193.4L201.3 193.3L201.8 193.3L202.3 193.3L202.8 193.4L203.3 193.5L203.8 193.6L204.3 193.8L204.8 193.9L205.3 194.1L205.8 194.3L206.3 194.4L206.8 194.6L207.3 194.7L207.8 194.8L208.3 194.8L208.8 194.8L209.3 194.8L209.8 194.7L210.3 194.6L210.8 194.4L211.3 194.3L211.8 194.1L212.3 194.0L212.8 193.8L213.3 193.7L213.8 193.5L214.3 193.5L214.8 193.4L215.3 193.4L215.8 193.4L216.3 193.5L216.8 193.6L217.3 193.7L217.8 193.8L218.3 194.0L218.8 194.1L219.3 194.3L219.8 194.4L220.3 194.5L220.8 194.6L221.3 194.7L221.8 194.7L222.3 194.7L222.8 194.7L223.3 194.6L223.8 194.5L224.3 194.4L224.8 194.3L225.3 194.1L225.8 194.0L226.3 193.8L226.8 193.7L227.3 193.6L227.8 193.6L228.3 193.5L228.8 193.5L229.3 193.5L229.8 193.6L230.3 193.6L230.8 193.7L231.3 193.9L231.8 194.0L232.3 194.1L232.8 194.2L233.3 194.3L233.8 194.4L234.3 194.5L234.8 194.6L235.3 194.6L235.8 194.6L236.3 194.6L236.8 194.5L237.3 194.4L237.8 194.3L238.3 194.2L238.8 194.1L239.3 194.0L239.8 193.9L240.3 193.8L240.8 193.7L241.3 193.6L241.8 193.6L242.3 193.6L242.8 193.6L243.3 193.7L243.8 193.7L244.3 193.8L244.8 193.9L245.3 194.0L245.8 194.1L246.3 194.2L246.8 194.3L247.3 194.4L247.8 194.4L248.3 194.5L248.8 194.5L249.3 194.5L249.8 194.5L250.3 194.4L250.8 194.4L251.3 194.3L251.8 194.2L252.3 194.1L252.8 194.0L253.3 193.9L253.8 193.8L254.3 193.8L254.8 193.7L255.3 193.7L255.8 193.7L256.3 193.7L256.8 193.8L257.3 193.8L257.8 193.9L258.3 194.0L258.8 194.0L259.3 194.1L259.8 194.2L260.3 194.3L260.8 194.4L261.3 194.4L261.8 194.5L262.3 194.5L262.8 194.5L263.3 194.5L263.8 194.4L264.3 194.4L264.8 194.3L265.3 194.2L265.8 194.2L266.3 194.1L266.8 194.0L267.3 193.9L267.8 193.9L268.3 193.8L268.8 193.8L269.3 193.8L269.8 193.8L270.3 193.8L270.8 193.9L271.3 193.9L271.8 194.0L272.3 194.1L272.8 194.1L273.3 194.2L273.8 194.3L274.3 194.3L274.8 194.4L275.3 194.4L275.8 194.4L276.3 194.4L276.8 194.4L277.3 194.3L277.8 194.3L278.3 194.2L278.8 194.2L279.3 194.1L279.8 194.0L280.3 194.0L280.8 193.9L281.3 193.9L281.8 193.8L282.3 193.8L282.8 193.8L283.3 193.8L283.8 193.8L284.3 193.9L284.8 193.9L285.3 194.0L285.8 194.1L286.3 194.1L286.8 194.2L287.3 194.3L287.8 194.3L288.3 194.4L288.8 194.4L289.3 194.4L289.8 194.4L290.3 194.4L290.8 194.4L291.3 194.3L291.8 194.3L292.3 194.2L292.8 194.2L293.3 194.1L293.8 194.0L294.3 194.0L294.8 194.0L295.3 193.9" fill="none" stroke="#EDB120" stroke-width="1.75" stroke-linejoin="round" clip-path="url(#c2)"/>
<path d="M30.3 193.3L30.8 196.5L31.3 199.3L31.8 201.4L32.3 202.6L32.8 202.8L33.3 202.2L33.8 201.1L34.3 199.5L34.8 197.5L35.3 195.2L35.8 192.7L36.3 190.2L36.8 187.7L37.3 185.5L37.8 183.7L38.3 182.3L38.8 181.4L39.3 181.1L39.8 181.4L40.3 182.1L40.8 183.4L41.3 185.1L41.8 187.1L42.3 189.4L42.8 191.8L43.3 194.2L43.8 196.6L44.3 198.8L44.8 200.6L45.3 202.2L45.8 203.2L46.3 203.8L46.8 203.9L47.3 203.4L47.8 202.4L48.3 201.0L48.8 199.2L49.3 197.2L49.8 195.0L50.3 192.7L50.8 190.6L51.3 188.6L51.8 187.0L52.3 185.7L52.8 185.0L53.3 184.7L53.8 185.0L54.3 185.7L54.8 187.0L55.3 188.6L55.8 190.5L56.3 192.6L56.8 194.7L57.3 196.8L57.8 198.7L58.3 200.3L58.8 201.6L59.3 202.3L59.8 202.6L60.3 202.4L60.8 201.7L61.3 200.7L61.8 199.3L62.3 197.7L62.8 195.9L63.3 194.0L63.8 192.2L64.3 190.5L64.8 189.1L65.3 188.0L65.8 187.2L66.3 186.9L66.8 187.0L67.3 187.5L67.8 188.2L68.3 189.3L68.8 190.5L69.3 192.0L69.8 193.5L70.3 195.0L70.8 196.5L71.3 197.9L71.8 199.0L72.3 199.9L72.8 200.5L73.3 200.7L73.8 200.6L74.3 200.1L74.8 199.3L75.3 198.1L75.8 196.8L76.3 195.4L76.8 193.8L77.3 192.4L77.8 191.1L78.3 190.0L78.8 189.3L79.3 188.9L79.8 188.8L80.3 189.0L80.8 189.4L81.3 190.0L81.8 190.8L82.3 191.7L82.8 192.7L83.3 193.7L83.8 194.7L84.3 195.7L84.8 196.7L85.3 197.4L85.8 198.1L86.3 198.5L86.8 198.8L87.3 198.8L87.8 198.6L88.3 198.1L88.8 197.5L89.3 196.7L89.8 195.8L90.3 194.8L90.8 193.7L91.3 192.8L91.8 191.9L92.3 191.1L92.8 190.6L93.3 190.2L93.8 190.1L94.3 190.2L94.8 190.5L95.3 191.0L95.8 191.6L96.3 192.4L96.8 193.2L97.3 194.1L97.8 195.0L98.3 195.8L98.8 196.5L99.3 197.1L99.8 197.5L100.3 197.8L100.8 197.8L101.3 197.6L101.8 197.2L102.3 196.7L102.8 196.0L103.3 195.3L103.8 194.4L104.3 193.6L104.8 192.8L105.3 192.1L105.8 191.5L106.3 191.0L106.8 190.8L107.3 190.7L107.8 190.8L108.3 191.1L108.8 191.5L109.3 192.1L109.8 192.7L110.3 193.4L110.8 194.1L111.3 194.9L111.8 195.5L112.3 196.1L112.8 196.5L113.3 196.8L113.8 197.0L114.3 197.0L114.8 196.8L115.3 196.5L115.8 196.1L116.3 195.5L116.8 194.9L117.3 194.3L117.8 193.6L118.3 193.0L118.8 192.4L119.3 192.0L119.8 191.6L120.3 191.4L120.8 191.4L121.3 191.5L121.8 191.7L122.3 192.1L122.8 192.5L123.3 193.0L123.8 193.6L124.3 194.1L124.8 194.7L125.3 195.2L125.8 195.7L126.3 196.0L126.8 196.3L127.3 196.4L127.8 196.4L128.3 196.2L128.8 196.0L129.3 195.6L129.8 195.2L130.3 194.7L130.8 194.2L131.3 193.7L131.8 193.2L132.3 192.7L132.8 192.4L133.3 192.1L133.8 191.9L134.3 191.9L134.8 192.0L135.3 192.2L135.8 192.4L136.3 192.8L136.8 193.2L137.3 193.6L137.8 194.1L138.3 194.5L138.8 195.0L139.3 195.3L139.8 195.6L140.3 195.8L140.8 195.9L141.3 195.9L141.8 195.8L142.3 195.6L142.8 195.3L143.3 195.0L143.8 194.6L144.3 194.1L144.8 193.7L145.3 193.3L145.8 193.0L146.3 192.7L146.8 192.5L147.3 192.3L147.8 192.3L148.3 192.4L148.8 192.5L149.3 192.7L149.8 193.0L150.3 193.3L150.8 193.7L151.3 194.0L151.8 194.4L152.3 194.7L152.8 195.0L153.3 195.3L153.8 195.4L154.3 195.5L154.8 195.5L155.3 195.4L155.8 195.2L156.3 195.0L156.8 194.7L157.3 194.4L157.8 194.1L158.3 193.7L158.8 193.4L159.3 193.1L159.8 192.9L160.3 192.7L160.8 192.6L161.3 192.6L161.8 192.6L162.3 192.8L162.8 192.9L163.3 193.2L163.8 193.4L164.3 193.7L164.8 194.0L165.3 194.3L165.8 194.6L166.3 194.8L166.8 195.0L167.3 195.1L167.8 195.2L168.3 195.2L168.8 195.1L169.3 195.0L169.8 194.8L170.3 194.6L170.8 194.3L171.3 194.1L171.8 193.8L172.3 193.6L172.8 193.3L173.3 193.1L173.8 193.0L174.3 192.9L174.8 192.9L175.3 192.9L175.8 193.0L176.3 193.2L176.8 193.4L177.3 193.6L177.8 193.8L178.3 194.0L178.8 194.3L179.3 194.5L179.8 194.7L180.3 194.8L180.8 194.9L181.3 195.0L181.8 195.0L182.3 194.9L182.8 194.8L183.3 194.7L183.8 194.5L184.3 194.3L184.8 194.1L185.3 193.9L185.8 193.6L186.3 193.5L186.8 193.3L187.3 193.2L187.8 193.1L188.3 193.1L188.8 193.1L189.3 193.2L189.8 193.3L190.3 193.5L190.8 193.7L191.3 193.9L191.8 194.1L192.3 194.3L192.8 194.5L193.3 194.6L193.8 194.8L194.3 194.9L194.8 194.9L195.3 194.9L195.8 194.8L196.3 194.8L196.8 194.6L197.3 194.5L197.8 194.3L198.3 194.1L198.8 193.9L199.3 193.8L199.8 193.6L200.3 193.5L200.8 193.4L201.3 193.3L201.8 193.3L202.3 193.3L202.8 193.4L203.3 193.5L203.8 193.6L204.3 193.8L204.8 193.9L205.3 194.1L205.8 194.3L206.3 194.4L206.8 194.6L207.3 194.7L207.8 194.8L208.3 194.8L208.8 194.8L209.3 194.8L209.8 194.7L210.3 194.6L210.8 194.4L211.3 194.3L211.8 194.1L212.3 194.0L212.8 193.8L213.3 193.7L213.8 193.5L214.3 193.5L214.8 193.4L215.3 193.4L215.8 193.4L216.3 193.5L216.8 193.6L217.3 193.7L217.8 193.8L218.3 194.0L218.8 194.1L219.3 194.3L219.8 194.4L220.3 194.5L220.8 194.6L221.3 194.7L221.8 194.7L222.3 194.7L222.8 194.7L223.3 194.6L223.8 194.5L224.3 194.4L224.8 194.3L225.3 194.1L225.8 194.0L226.3 193.8L226.8 193.7L227.3 193.6L227.8 193.6L228.3 193.5L228.8 193.5L229.3 193.5L229.8 193.6L230.3 193.6L230.8 193.7L231.3 193.9L231.8 194.0L232.3 194.1L232.8 194.2L233.3 194.3L233.8 194.4L234.3 194.5L234.8 194.6L235.3 194.6L235.8 194.6L236.3 194.6L236.8 194.5L237.3 194.4L237.8 194.3L238.3 194.2L238.8 194.1L239.3 194.0L239.8 193.9L240.3 193.8L240.8 193.7L241.3 193.6L241.8 193.6L242.3 193.6L242.8 193.6L243.3 193.7L243.8 193.7L244.3 193.8L244.8 193.9L245.3 194.0L245.8 194.1L246.3 194.2L246.8 194.3L247.3 194.4L247.8 194.4L248.3 194.5L248.8 194.5L249.3 194.5L249.8 194.5L250.3 194.4L250.8 194.4L251.3 194.3L251.8 194.2L252.3 194.1L252.8 194.0L253.3 193.9L253.8 193.8L254.3 193.8L254.8 193.7L255.3 193.7L255.8 193.7L256.3 193.7L256.8 193.8L257.3 193.8L257.8 193.9L258.3 194.0L258.8 194.0L259.3 194.1L259.8 194.2L260.3 194.3L260.8 194.4L261.3 194.4L261.8 194.5L262.3 194.5L262.8 194.5L263.3 194.5L263.8 194.4L264.3 194.4L264.8 194.3L265.3 194.2L265.8 194.2L266.3 194.1L266.8 194.0L267.3 193.9L267.8 193.9L268.3 193.8L268.8 193.8L269.3 193.8L269.8 193.8L270.3 193.8L270.8 193.9L271.3 193.9L271.8 194.0L272.3 194.1L272.8 194.1L273.3 194.2L273.8 194.3L274.3 194.3L274.8 194.4L275.3 194.4L275.8 194.4L276.3 194.4L276.8 194.4L277.3 194.3L277.8 194.3L278.3 194.2L278.8 194.2L279.3 194.1L279.8 194.0L280.3 194.0L280.8 193.9L281.3 193.9L281.8 193.8L282.3 193.8L282.8 193.8L283.3 193.8L283.8 193.8L284.3 193.9L284.8 193.9L285.3 194.0L285.8 194.1L286.3 194.1L286.8 194.2L287.3 194.3L287.8 194.3L288.3 194.4L288.8 194.4L289.3 194.4L289.8 194.4L290.3 194.4L290.8 194.4L291.3 194.3L291.8 194.3L292.3 194.2L292.8 194.2L293.3 194.1L293.8 194.0L294.3 194.0L294.8 194.0L295.3 193.9" fill="none" stroke="#7E2F8E" stroke-width="1.75" stroke-linejoin="round" stroke-dasharray="3.7 1.2 1.6 1.2" clip-path="url(#c2)"/>
<line x1="30" y1="25.5" x2="296" y2="25.5" stroke="#b0b0b0" stroke-width="1"/>
<line x1="30" y1="81.5" x2="296" y2="81.5" stroke="#8a8a8a" stroke-width="1"/>
<line x1="30.5" y1="25.0" x2="30.5" y2="82.0" stroke="#7a7a7a" stroke-width="1"/>
<line x1="295.5" y1="25.0" x2="295.5" y2="82.0" stroke="#a5a5a5" stroke-width="1"/>
<line x1="30.30" y1="81.20" x2="30.30" y2="78.40" stroke="#707070" stroke-width="0.9"/>
<line x1="30.30" y1="25.20" x2="30.30" y2="28.00" stroke="#707070" stroke-width="0.9"/>
<text x="30.30" y="90.20" class="tl" text-anchor="middle">0</text>
<line x1="56.80" y1="81.20" x2="56.80" y2="78.40" stroke="#707070" stroke-width="0.9"/>
<line x1="56.80" y1="25.20" x2="56.80" y2="28.00" stroke="#707070" stroke-width="0.9"/>
<text x="56.80" y="90.20" class="tl" text-anchor="middle">20</text>
<line x1="83.30" y1="81.20" x2="83.30" y2="78.40" stroke="#707070" stroke-width="0.9"/>
<line x1="83.30" y1="25.20" x2="83.30" y2="28.00" stroke="#707070" stroke-width="0.9"/>
<text x="83.30" y="90.20" class="tl" text-anchor="middle">40</text>
<line x1="109.80" y1="81.20" x2="109.80" y2="78.40" stroke="#707070" stroke-width="0.9"/>
<line x1="109.80" y1="25.20" x2="109.80" y2="28.00" stroke="#707070" stroke-width="0.9"/>
<text x="109.80" y="90.20" class="tl" text-anchor="middle">60</text>
<line x1="136.30" y1="81.20" x2="136.30" y2="78.40" stroke="#707070" stroke-width="0.9"/>
<line x1="136.30" y1="25.20" x2="136.30" y2="28.00" stroke="#707070" stroke-width="0.9"/>
<text x="136.30" y="90.20" class="tl" text-anchor="middle">80</text>
<line x1="162.80" y1="81.20" x2="162.80" y2="78.40" stroke="#707070" stroke-width="0.9"/>
<line x1="162.80" y1="25.20" x2="162.80" y2="28.00" stroke="#707070" stroke-width="0.9"/>
<text x="162.80" y="90.20" class="tl" text-anchor="middle">100</text>
<line x1="189.30" y1="81.20" x2="189.30" y2="78.40" stroke="#707070" stroke-width="0.9"/>
<line x1="189.30" y1="25.20" x2="189.30" y2="28.00" stroke="#707070" stroke-width="0.9"/>
<text x="189.30" y="90.20" class="tl" text-anchor="middle">120</text>
<line x1="215.80" y1="81.20" x2="215.80" y2="78.40" stroke="#707070" stroke-width="0.9"/>
<line x1="215.80" y1="25.20" x2="215.80" y2="28.00" stroke="#707070" stroke-width="0.9"/>
<text x="215.80" y="90.20" class="tl" text-anchor="middle">140</text>
<line x1="242.30" y1="81.20" x2="242.30" y2="78.40" stroke="#707070" stroke-width="0.9"/>
<line x1="242.30" y1="25.20" x2="242.30" y2="28.00" stroke="#707070" stroke-width="0.9"/>
<text x="242.30" y="90.20" class="tl" text-anchor="middle">160</text>
<line x1="268.80" y1="81.20" x2="268.80" y2="78.40" stroke="#707070" stroke-width="0.9"/>
<line x1="268.80" y1="25.20" x2="268.80" y2="28.00" stroke="#707070" stroke-width="0.9"/>
<text x="268.80" y="90.20" class="tl" text-anchor="middle">180</text>
<line x1="295.30" y1="81.20" x2="295.30" y2="78.40" stroke="#707070" stroke-width="0.9"/>
<line x1="295.30" y1="25.20" x2="295.30" y2="28.00" stroke="#707070" stroke-width="0.9"/>
<text x="295.30" y="90.20" class="tl" text-anchor="middle">200</text>
<line x1="30" y1="103.5" x2="296" y2="103.5" stroke="#c0c0c0" stroke-width="1"/>
<line x1="30" y1="158.5" x2="296" y2="158.5" stroke="#a0a0a0" stroke-width="1"/>
<line x1="30.5" y1="103.0" x2="30.5" y2="159.0" stroke="#7a7a7a" stroke-width="1"/>
<line x1="295.5" y1="103.0" x2="295.5" y2="159.0" stroke="#a5a5a5" stroke-width="1"/>
<line x1="30.30" y1="158.50" x2="30.30" y2="155.70" stroke="#707070" stroke-width="0.9"/>
<line x1="30.30" y1="103.20" x2="30.30" y2="106.00" stroke="#707070" stroke-width="0.9"/>
<text x="30.30" y="167.50" class="tl" text-anchor="middle">0</text>
<line x1="56.80" y1="158.50" x2="56.80" y2="155.70" stroke="#707070" stroke-width="0.9"/>
<line x1="56.80" y1="103.20" x2="56.80" y2="106.00" stroke="#707070" stroke-width="0.9"/>
<text x="56.80" y="167.50" class="tl" text-anchor="middle">20</text>
<line x1="83.30" y1="158.50" x2="83.30" y2="155.70" stroke="#707070" stroke-width="0.9"/>
<line x1="83.30" y1="103.20" x2="83.30" y2="106.00" stroke="#707070" stroke-width="0.9"/>
<text x="83.30" y="167.50" class="tl" text-anchor="middle">40</text>
<line x1="109.80" y1="158.50" x2="109.80" y2="155.70" stroke="#707070" stroke-width="0.9"/>
<line x1="109.80" y1="103.20" x2="109.80" y2="106.00" stroke="#707070" stroke-width="0.9"/>
<text x="109.80" y="167.50" class="tl" text-anchor="middle">60</text>
<line x1="136.30" y1="158.50" x2="136.30" y2="155.70" stroke="#707070" stroke-width="0.9"/>
<line x1="136.30" y1="103.20" x2="136.30" y2="106.00" stroke="#707070" stroke-width="0.9"/>
<text x="136.30" y="167.50" class="tl" text-anchor="middle">80</text>
<line x1="162.80" y1="158.50" x2="162.80" y2="155.70" stroke="#707070" stroke-width="0.9"/>
<line x1="162.80" y1="103.20" x2="162.80" y2="106.00" stroke="#707070" stroke-width="0.9"/>
<text x="162.80" y="167.50" class="tl" text-anchor="middle">100</text>
<line x1="189.30" y1="158.50" x2="189.30" y2="155.70" stroke="#707070" stroke-width="0.9"/>
<line x1="189.30" y1="103.20" x2="189.30" y2="106.00" stroke="#707070" stroke-width="0.9"/>
<text x="189.30" y="167.50" class="tl" text-anchor="middle">120</text>
<line x1="215.80" y1="158.50" x2="215.80" y2="155.70" stroke="#707070" stroke-width="0.9"/>
<line x1="215.80" y1="103.20" x2="215.80" y2="106.00" stroke="#707070" stroke-width="0.9"/>
<text x="215.80" y="167.50" class="tl" text-anchor="middle">140</text>
<line x1="242.30" y1="158.50" x2="242.30" y2="155.70" stroke="#707070" stroke-width="0.9"/>
<line x1="242.30" y1="103.20" x2="242.30" y2="106.00" stroke="#707070" stroke-width="0.9"/>
<text x="242.30" y="167.50" class="tl" text-anchor="middle">160</text>
<line x1="268.80" y1="158.50" x2="268.80" y2="155.70" stroke="#707070" stroke-width="0.9"/>
<line x1="268.80" y1="103.20" x2="268.80" y2="106.00" stroke="#707070" stroke-width="0.9"/>
<text x="268.80" y="167.50" class="tl" text-anchor="middle">180</text>
<line x1="295.30" y1="158.50" x2="295.30" y2="155.70" stroke="#707070" stroke-width="0.9"/>
<line x1="295.30" y1="103.20" x2="295.30" y2="106.00" stroke="#707070" stroke-width="0.9"/>
<text x="295.30" y="167.50" class="tl" text-anchor="middle">200</text>
<line x1="30" y1="180.5" x2="296" y2="180.5" stroke="#a8a8a8" stroke-width="1"/>
<line x1="30" y1="236.5" x2="296" y2="236.5" stroke="#a8a8a8" stroke-width="1"/>
<line x1="30.5" y1="180.0" x2="30.5" y2="237.0" stroke="#7a7a7a" stroke-width="1"/>
<line x1="295.5" y1="180.0" x2="295.5" y2="237.0" stroke="#a5a5a5" stroke-width="1"/>
<line x1="30.30" y1="236.30" x2="30.30" y2="233.50" stroke="#707070" stroke-width="0.9"/>
<line x1="30.30" y1="180.50" x2="30.30" y2="183.30" stroke="#707070" stroke-width="0.9"/>
<text x="30.30" y="245.30" class="tl" text-anchor="middle">0</text>
<line x1="56.80" y1="236.30" x2="56.80" y2="233.50" stroke="#707070" stroke-width="0.9"/>
<line x1="56.80" y1="180.50" x2="56.80" y2="183.30" stroke="#707070" stroke-width="0.9"/>
<text x="56.80" y="245.30" class="tl" text-anchor="middle">20</text>
<line x1="83.30" y1="236.30" x2="83.30" y2="233.50" stroke="#707070" stroke-width="0.9"/>
<line x1="83.30" y1="180.50" x2="83.30" y2="183.30" stroke="#707070" stroke-width="0.9"/>
<text x="83.30" y="245.30" class="tl" text-anchor="middle">40</text>
<line x1="109.80" y1="236.30" x2="109.80" y2="233.50" stroke="#707070" stroke-width="0.9"/>
<line x1="109.80" y1="180.50" x2="109.80" y2="183.30" stroke="#707070" stroke-width="0.9"/>
<text x="109.80" y="245.30" class="tl" text-anchor="middle">60</text>
<line x1="136.30" y1="236.30" x2="136.30" y2="233.50" stroke="#707070" stroke-width="0.9"/>
<line x1="136.30" y1="180.50" x2="136.30" y2="183.30" stroke="#707070" stroke-width="0.9"/>
<text x="136.30" y="245.30" class="tl" text-anchor="middle">80</text>
<line x1="162.80" y1="236.30" x2="162.80" y2="233.50" stroke="#707070" stroke-width="0.9"/>
<line x1="162.80" y1="180.50" x2="162.80" y2="183.30" stroke="#707070" stroke-width="0.9"/>
<text x="162.80" y="245.30" class="tl" text-anchor="middle">100</text>
<line x1="189.30" y1="236.30" x2="189.30" y2="233.50" stroke="#707070" stroke-width="0.9"/>
<line x1="189.30" y1="180.50" x2="189.30" y2="183.30" stroke="#707070" stroke-width="0.9"/>
<text x="189.30" y="245.30" class="tl" text-anchor="middle">120</text>
<line x1="215.80" y1="236.30" x2="215.80" y2="233.50" stroke="#707070" stroke-width="0.9"/>
<line x1="215.80" y1="180.50" x2="215.80" y2="183.30" stroke="#707070" stroke-width="0.9"/>
<text x="215.80" y="245.30" class="tl" text-anchor="middle">140</text>
<line x1="242.30" y1="236.30" x2="242.30" y2="233.50" stroke="#707070" stroke-width="0.9"/>
<line x1="242.30" y1="180.50" x2="242.30" y2="183.30" stroke="#707070" stroke-width="0.9"/>
<text x="242.30" y="245.30" class="tl" text-anchor="middle">160</text>
<line x1="268.80" y1="236.30" x2="268.80" y2="233.50" stroke="#707070" stroke-width="0.9"/>
<line x1="268.80" y1="180.50" x2="268.80" y2="183.30" stroke="#707070" stroke-width="0.9"/>
<text x="268.80" y="245.30" class="tl" text-anchor="middle">180</text>
<line x1="295.30" y1="236.30" x2="295.30" y2="233.50" stroke="#707070" stroke-width="0.9"/>
<line x1="295.30" y1="180.50" x2="295.30" y2="183.30" stroke="#707070" stroke-width="0.9"/>
<text x="295.30" y="245.30" class="tl" text-anchor="middle">200</text>
<line x1="30.30" y1="25.20" x2="33.10" y2="25.20" stroke="#707070" stroke-width="0.9"/>
<line x1="295.30" y1="25.20" x2="292.50" y2="25.20" stroke="#707070" stroke-width="0.9"/>
<text x="27.70" y="26.70" class="tl" text-anchor="end">0.02</text>
<line x1="30.30" y1="53.20" x2="33.10" y2="53.20" stroke="#707070" stroke-width="0.9"/>
<line x1="295.30" y1="53.20" x2="292.50" y2="53.20" stroke="#707070" stroke-width="0.9"/>
<text x="27.70" y="54.70" class="tl" text-anchor="end">0</text>
<line x1="30.30" y1="81.20" x2="33.10" y2="81.20" stroke="#707070" stroke-width="0.9"/>
<line x1="295.30" y1="81.20" x2="292.50" y2="81.20" stroke="#707070" stroke-width="0.9"/>
<text x="27.70" y="82.70" class="tl" text-anchor="end">-0.02</text>
<line x1="30.30" y1="109.44" x2="33.10" y2="109.44" stroke="#707070" stroke-width="0.9"/>
<line x1="295.30" y1="109.44" x2="292.50" y2="109.44" stroke="#707070" stroke-width="0.9"/>
<text x="27.70" y="110.94" class="tl" text-anchor="end">0.06</text>
<line x1="30.30" y1="121.72" x2="33.10" y2="121.72" stroke="#707070" stroke-width="0.9"/>
<line x1="295.30" y1="121.72" x2="292.50" y2="121.72" stroke="#707070" stroke-width="0.9"/>
<text x="27.70" y="123.22" class="tl" text-anchor="end">0.04</text>
<line x1="30.30" y1="134.01" x2="33.10" y2="134.01" stroke="#707070" stroke-width="0.9"/>
<line x1="295.30" y1="134.01" x2="292.50" y2="134.01" stroke="#707070" stroke-width="0.9"/>
<text x="27.70" y="135.51" class="tl" text-anchor="end">0.02</text>
<line x1="30.30" y1="146.30" x2="33.10" y2="146.30" stroke="#707070" stroke-width="0.9"/>
<line x1="295.30" y1="146.30" x2="292.50" y2="146.30" stroke="#707070" stroke-width="0.9"/>
<text x="27.70" y="147.80" class="tl" text-anchor="end">0</text>
<line x1="30.30" y1="193.30" x2="33.10" y2="193.30" stroke="#707070" stroke-width="0.9"/>
<line x1="295.30" y1="193.30" x2="292.50" y2="193.30" stroke="#707070" stroke-width="0.9"/>
<text x="27.70" y="194.80" class="tl" text-anchor="end">0</text>
<line x1="30.30" y1="209.25" x2="33.10" y2="209.25" stroke="#707070" stroke-width="0.9"/>
<line x1="295.30" y1="209.25" x2="292.50" y2="209.25" stroke="#707070" stroke-width="0.9"/>
<text x="27.70" y="210.75" class="tl" text-anchor="end">-0.05</text>
<line x1="30.30" y1="225.19" x2="33.10" y2="225.19" stroke="#707070" stroke-width="0.9"/>
<line x1="295.30" y1="225.19" x2="292.50" y2="225.19" stroke="#707070" stroke-width="0.9"/>
<text x="27.70" y="226.69" class="tl" text-anchor="end">-0.1</text>
<text class="ml" transform="translate(8.4,53.4) rotate(-90)" x="-4.4" textLength="8.8" lengthAdjust="spacingAndGlyphs"><tspan>x</tspan><tspan font-size="7.5" dy="2">t</tspan></text>
<text class="ml" transform="translate(10.9,130.7) rotate(-90)" text-anchor="middle">y</text>
<text class="ml" transform="translate(7.9,208.7) rotate(-90)" text-anchor="middle">h</text>
<text class="ml" x="162.5" y="255.6" text-anchor="middle">t<tspan font-style="normal">(</tspan>s<tspan font-style="normal">)</tspan></text>
<line x1="31.1" y1="11.0" x2="54.5" y2="11.0" stroke="#0072BD" stroke-width="1.5"/>
<text x="56.7" y="13.0" class="lg">First-order</text>
<line x1="87.0" y1="11.0" x2="110.5" y2="11.0" stroke="#D95319" stroke-width="1.5"/>
<text x="112.4" y="13.0" class="lg">Second-order</text>
<line x1="149.7" y1="11.0" x2="173.0" y2="11.0" stroke="#EDB120" stroke-width="1.5"/>
<text x="174.7" y="13.0" class="lg">Fourth-order</text>
<line x1="210.4" y1="11.0" x2="233.5" y2="11.0" stroke="#7E2F8E" stroke-width="1.5" stroke-dasharray="3.7 1.2 1.6 1.2"/>
<text x="236.0" y="13.0" class="lg">Parameter-varying model</text>
<line x1="410.60" y1="172.06" x2="410.60" y2="51.26" stroke="#e3e3e3" stroke-width="0.70"/>
<line x1="441.80" y1="163.72" x2="441.80" y2="42.92" stroke="#e3e3e3" stroke-width="0.70"/>
<line x1="473.00" y1="155.38" x2="473.00" y2="34.58" stroke="#e3e3e3" stroke-width="0.70"/>
<line x1="504.20" y1="147.04" x2="504.20" y2="26.24" stroke="#e3e3e3" stroke-width="0.70"/>
<line x1="379.40" y1="79.73" x2="535.40" y2="38.03" stroke="#e3e3e3" stroke-width="0.70"/>
<line x1="379.40" y1="99.87" x2="535.40" y2="58.17" stroke="#e3e3e3" stroke-width="0.70"/>
<line x1="379.40" y1="120.00" x2="535.40" y2="78.30" stroke="#e3e3e3" stroke-width="0.70"/>
<line x1="379.40" y1="140.13" x2="535.40" y2="98.43" stroke="#e3e3e3" stroke-width="0.70"/>
<line x1="379.40" y1="160.27" x2="535.40" y2="118.57" stroke="#e3e3e3" stroke-width="0.70"/>
<line x1="565.40" y1="152.35" x2="565.40" y2="31.55" stroke="#e3e3e3" stroke-width="0.70"/>
<line x1="595.40" y1="166.00" x2="595.40" y2="45.20" stroke="#e3e3e3" stroke-width="0.70"/>
<line x1="625.40" y1="179.65" x2="625.40" y2="58.85" stroke="#e3e3e3" stroke-width="0.70"/>
<line x1="535.40" y1="38.03" x2="655.40" y2="92.63" stroke="#e3e3e3" stroke-width="0.70"/>
<line x1="535.40" y1="58.17" x2="655.40" y2="112.77" stroke="#e3e3e3" stroke-width="0.70"/>
<line x1="535.40" y1="78.30" x2="655.40" y2="132.90" stroke="#e3e3e3" stroke-width="0.70"/>
<line x1="535.40" y1="98.43" x2="655.40" y2="153.03" stroke="#e3e3e3" stroke-width="0.70"/>
<line x1="535.40" y1="118.57" x2="655.40" y2="173.17" stroke="#e3e3e3" stroke-width="0.70"/>
<line x1="409.40" y1="194.05" x2="565.40" y2="152.35" stroke="#e3e3e3" stroke-width="0.70"/>
<line x1="439.40" y1="207.70" x2="595.40" y2="166.00" stroke="#e3e3e3" stroke-width="0.70"/>
<line x1="469.40" y1="221.35" x2="625.40" y2="179.65" stroke="#e3e3e3" stroke-width="0.70"/>
<line x1="410.60" y1="172.06" x2="530.60" y2="226.66" stroke="#e3e3e3" stroke-width="0.70"/>
<line x1="441.80" y1="163.72" x2="561.80" y2="218.32" stroke="#e3e3e3" stroke-width="0.70"/>
<line x1="473.00" y1="155.38" x2="593.00" y2="209.98" stroke="#e3e3e3" stroke-width="0.70"/>
<line x1="504.20" y1="147.04" x2="624.20" y2="201.64" stroke="#e3e3e3" stroke-width="0.70"/>
<line x1="379.40" y1="59.60" x2="535.40" y2="17.90" stroke="#7a7a7a" stroke-width="0.90"/>
<line x1="535.40" y1="17.90" x2="655.40" y2="72.50" stroke="#7a7a7a" stroke-width="0.90"/>
<line x1="379.40" y1="180.40" x2="535.40" y2="138.70" stroke="#7a7a7a" stroke-width="0.90"/>
<line x1="535.40" y1="138.70" x2="655.40" y2="193.30" stroke="#7a7a7a" stroke-width="0.90"/>
<line x1="379.40" y1="180.40" x2="499.40" y2="235.00" stroke="#7a7a7a" stroke-width="0.90"/>
<line x1="499.40" y1="235.00" x2="655.40" y2="193.30" stroke="#7a7a7a" stroke-width="0.90"/>
<line x1="379.00" y1="59.60" x2="379.00" y2="180.40" stroke="#505050" stroke-width="1.00"/>
<line x1="535.50" y1="17.90" x2="535.50" y2="138.70" stroke="#a8a8a8" stroke-width="1.00"/>
<line x1="655.50" y1="72.50" x2="655.50" y2="193.30" stroke="#a0a0a0" stroke-width="1.00"/>
<line x1="379.40" y1="59.60" x2="375.21" y2="57.69" stroke="#7a7a7a" stroke-width="0.80"/>
<text x="372.40" y="59.50" class="t3" text-anchor="end">0.02</text>
<line x1="379.40" y1="79.73" x2="375.21" y2="77.83" stroke="#7a7a7a" stroke-width="0.80"/>
<text x="372.40" y="79.63" class="t3" text-anchor="end">0</text>
<line x1="379.40" y1="99.87" x2="375.21" y2="97.96" stroke="#7a7a7a" stroke-width="0.80"/>
<text x="372.40" y="99.77" class="t3" text-anchor="end">-0.02</text>
<line x1="379.40" y1="120.00" x2="375.21" y2="118.09" stroke="#7a7a7a" stroke-width="0.80"/>
<text x="372.40" y="119.90" class="t3" text-anchor="end">-0.04</text>
<line x1="379.40" y1="140.13" x2="375.21" y2="138.23" stroke="#7a7a7a" stroke-width="0.80"/>
<text x="372.40" y="140.03" class="t3" text-anchor="end">-0.06</text>
<line x1="379.40" y1="160.27" x2="375.21" y2="158.36" stroke="#7a7a7a" stroke-width="0.80"/>
<text x="372.40" y="160.17" class="t3" text-anchor="end">-0.08</text>
<line x1="379.40" y1="180.40" x2="375.21" y2="178.49" stroke="#7a7a7a" stroke-width="0.80"/>
<text x="372.40" y="180.30" class="t3" text-anchor="end">-0.1</text>
<line x1="379.40" y1="180.40" x2="374.96" y2="181.59" stroke="#7a7a7a" stroke-width="0.80"/>
<text x="373.60" y="192.20" class="t3" text-anchor="end">0.02</text>
<line x1="409.40" y1="194.05" x2="404.96" y2="195.24" stroke="#7a7a7a" stroke-width="0.80"/>
<text x="403.15" y="205.60" class="t3" text-anchor="end">0.01</text>
<line x1="439.40" y1="207.70" x2="434.96" y2="208.89" stroke="#7a7a7a" stroke-width="0.80"/>
<text x="432.70" y="219.00" class="t3" text-anchor="end">0</text>
<line x1="469.40" y1="221.35" x2="464.96" y2="222.54" stroke="#7a7a7a" stroke-width="0.80"/>
<text x="462.25" y="232.40" class="t3" text-anchor="end">-0.01</text>
<line x1="499.40" y1="235.00" x2="494.96" y2="236.19" stroke="#7a7a7a" stroke-width="0.80"/>
<text x="491.80" y="245.80" class="t3" text-anchor="end">-0.02</text>
<line x1="499.40" y1="235.00" x2="503.59" y2="236.91" stroke="#7a7a7a" stroke-width="0.80"/>
<text x="506.00" y="247.00" class="t3" text-anchor="start">-0.05</text>
<line x1="530.60" y1="226.66" x2="534.79" y2="228.57" stroke="#7a7a7a" stroke-width="0.80"/>
<text x="537.20" y="238.66" class="t3" text-anchor="start">0</text>
<line x1="561.80" y1="218.32" x2="565.99" y2="220.23" stroke="#7a7a7a" stroke-width="0.80"/>
<text x="568.40" y="230.32" class="t3" text-anchor="start">0.05</text>
<line x1="593.00" y1="209.98" x2="597.19" y2="211.89" stroke="#7a7a7a" stroke-width="0.80"/>
<text x="599.60" y="221.98" class="t3" text-anchor="start">0.1</text>
<line x1="624.20" y1="201.64" x2="628.39" y2="203.55" stroke="#7a7a7a" stroke-width="0.80"/>
<text x="630.80" y="213.64" class="t3" text-anchor="start">0.15</text>
<line x1="655.40" y1="193.30" x2="659.59" y2="195.21" stroke="#7a7a7a" stroke-width="0.80"/>
<text x="662.00" y="205.30" class="t3" text-anchor="start">0.2</text>
<text class="ml3" transform="translate(345.6,119.9) rotate(-90)" text-anchor="middle">y</text>
<text class="ml3" x="411.0" y="230.8" textLength="9.6" lengthAdjust="spacingAndGlyphs">x<tspan font-size="8" dy="2">t</tspan></text>
<text class="ml3" x="596.2" y="243.4" text-anchor="middle">h</text>
<line x1="578.7" y1="3.4" x2="603.6" y2="3.4" stroke="#0072BD" stroke-width="1.35"/>
<text x="606.1" y="6.5" class="lg3">First-order</text>
<line x1="578.7" y1="12.8" x2="603.6" y2="12.8" stroke="#D95319" stroke-width="1.35"/>
<text x="606.1" y="15.9" class="lg3">Second-order</text>
<line x1="578.7" y1="21.9" x2="603.6" y2="21.9" stroke="#EDB120" stroke-width="1.35"/>
<text x="606.1" y="25.0" class="lg3">Fourth-order</text>
<line x1="578.7" y1="31.2" x2="603.6" y2="31.2" stroke="#7E2F8E" stroke-width="1.35" stroke-dasharray="5 1.1 2.8 1.1"/>
<text x="606.1" y="34.3" class="lg3">Parameter-varying model</text>
<path d="M470.7 98.7L470.7 98.7L470.5 98.7L470.3 98.8L470.0 98.9L469.6 99.0L469.1 99.1L468.5 99.3L467.9 99.4L467.2 99.6L466.4 99.8L465.6 100.0L464.7 100.3L463.8 100.6L462.8 100.9L461.8 101.2L460.7 101.5L459.7 101.9L458.6 102.2L457.5 102.6L456.5 103.0L455.4 103.4L454.3 103.9L453.3 104.3L452.3 104.7L451.4 105.2L450.4 105.6L449.5 106.0L448.7 106.4L447.9 106.8L447.2 107.2L446.6 107.5L446.0 107.8L445.5 108.1L445.0 108.3L444.7 108.5L444.4 108.6L444.2 108.7L444.0 108.8L444.0 108.8L444.0 108.8L444.3 109.0L444.8 109.2L445.6 109.3L446.6 109.5L447.9 109.6L449.4 109.8L451.2 109.9L453.2 110.0L455.4 110.0L457.8 110.1L460.3 110.1L463.1 110.1L465.9 110.1L468.9 110.1L472.1 110.0L475.3 110.0L478.5 109.9L481.9 109.8L485.2 109.7L488.6 109.5L491.9 109.4L495.3 109.2L498.5 109.0L501.7 108.8L504.8 108.6L507.9 108.4L510.7 108.2L513.5 108.0L516.0 107.8L518.5 107.5L520.7 107.3L522.7 107.1L524.5 106.9L526.1 106.7L527.4 106.5L528.5 106.3L529.4 106.2L530.0 106.0L530.4 105.9L530.5 105.8L530.3 105.8L529.9 105.8L529.3 105.9L528.4 106.0L527.2 106.0L525.9 106.1L524.3 106.3L522.5 106.4L520.5 106.6L518.3 106.7L515.9 106.9L513.4 107.1L510.7 107.3L507.9 107.5L505.0 107.7L502.0 107.9L498.9 108.2L495.8 108.4L492.6 108.6L489.4 108.9L486.2 109.1L483.1 109.3L479.9 109.5L476.9 109.8L473.9 110.0L471.0 110.2L468.2 110.4L465.6 110.6L463.1 110.8L460.8 111.0L458.6 111.2L456.7 111.4L454.9 111.6L453.4 111.7L452.0 111.9L451.0 112.0L450.1 112.2L449.5 112.3L449.1 112.4L449.0 112.5L449.5 112.7L450.2 112.9L451.2 113.1L452.3 113.3L453.8 113.5L455.4 113.6L457.2 113.8L459.2 113.9L461.4 114.0L463.8 114.1L466.3 114.1L469.0 114.1L471.7 114.1L474.6 114.1L477.5 114.1L480.6 114.0L483.6 113.9L486.7 113.8L489.8 113.7L492.8 113.6L495.9 113.4L498.9 113.2L501.8 113.1L504.7 112.9L507.5 112.7L510.1 112.4L512.6 112.2L515.0 112.0L517.3 111.8L519.3 111.5L521.2 111.3L523.0 111.1L524.5 110.9L525.8 110.7L527.0 110.5L527.9 110.3L528.6 110.2L529.1 110.0L529.4 109.9L529.5 109.8L529.5 109.8L529.3 109.9L528.9 110.0L528.2 110.1L527.4 110.2L526.4 110.4L525.2 110.6L523.8 110.7L522.3 110.9L520.6 111.1L518.7 111.3L516.7 111.6L514.5 111.8L512.3 112.0L509.9 112.3L507.5 112.5L505.0 112.8L502.4 113.0L499.8 113.3L497.2 113.5L494.5 113.8L491.9 114.0L489.3 114.2L486.7 114.5L484.2 114.7L481.8 114.9L479.5 115.1L477.2 115.3L475.1 115.5L473.1 115.7L471.3 115.8L469.6 116.0L468.1 116.2L466.8 116.3L465.6 116.4L464.7 116.6L464.0 116.7L463.4 116.8L463.1 116.9L463.0 117.0L463.5 117.3L464.3 117.5L465.2 117.7L466.4 118.0L467.7 118.2L469.3 118.4L471.0 118.5L472.8 118.7L474.8 118.8L477.0 118.9L479.3 119.0L481.6 119.1L484.1 119.2L486.6 119.2L489.2 119.2L491.9 119.2L494.6 119.1L497.2 119.1L499.9 119.0L502.6 118.9L505.2 118.8L507.8 118.6L510.3 118.5L512.8 118.3L515.1 118.1L517.4 118.0L519.5 117.8L521.5 117.6L523.4 117.3L525.1 117.1L526.7 116.9L528.2 116.7L529.4 116.5L530.5 116.4L531.4 116.2L532.2 116.0L532.8 115.9L533.2 115.7L533.4 115.6L533.5 115.5L533.6 115.5L533.5 115.6L533.2 115.6L532.8 115.7L532.2 115.8L531.4 116.0L530.5 116.1L529.4 116.2L528.2 116.4L526.9 116.6L525.4 116.8L523.9 117.0L522.2 117.2L520.4 117.4L518.5 117.6L516.5 117.8L514.5 118.0L512.4 118.3L510.3 118.5L508.2 118.7L506.1 118.9L503.9 119.1L501.8 119.4L499.7 119.6L497.6 119.8L495.6 120.0L493.7 120.2L491.8 120.3L490.1 120.5L488.5 120.7L486.9 120.9L485.5 121.0L484.3 121.2L483.2 121.3L482.2 121.4L481.4 121.6L480.8 121.7L480.4 121.8L480.1 121.9L480.0 122.0L480.4 122.2L481.0 122.5L481.8 122.7L482.7 122.9L483.8 123.1L485.1 123.3L486.5 123.4L488.1 123.6L489.8 123.7L491.6 123.9L493.5 124.0L495.4 124.0L497.5 124.1L499.7 124.1L501.9 124.2L504.1 124.2L506.4 124.1L508.6 124.1L510.9 124.0L513.2 124.0L515.4 123.9L517.6 123.8L519.8 123.6L521.9 123.5L523.9 123.4L525.8 123.2L527.7 123.0L529.4 122.9L531.0 122.7L532.5 122.5L533.9 122.3L535.1 122.1L536.2 121.9L537.1 121.8L537.9 121.6L538.6 121.4L539.1 121.3L539.4 121.1L539.6 121.0L539.7 120.9L539.7 120.9L539.7 120.9L539.4 121.0L539.0 121.0L538.5 121.1L537.8 121.2L537.0 121.2L536.1 121.4L535.1 121.5L533.9 121.6L532.6 121.7L531.2 121.9L529.8 122.0L528.2 122.2L526.5 122.3L524.8 122.5L523.1 122.7L521.3 122.9L519.4 123.0L517.6 123.2L515.7 123.4L513.8 123.6L512.0 123.7L510.1 123.9L508.3 124.1L506.6 124.2L504.9 124.4L503.3 124.5L501.8 124.7L500.4 124.8L499.0 125.0L497.8 125.1L496.7 125.3L495.8 125.4L494.9 125.5L494.2 125.6L493.7 125.8L493.3 125.9L493.1 126.0L493.0 126.1L493.4 126.3L493.9 126.5L494.6 126.7L495.4 126.9L496.4 127.1L497.5 127.3L498.7 127.4L500.1 127.6L501.6 127.7L503.1 127.8L504.8 127.9L506.5 128.0L508.3 128.1L510.2 128.1L512.1 128.2L514.1 128.2L516.0 128.2L518.0 128.2L520.0 128.2L522.0 128.1L523.9 128.1L525.8 128.0L527.7 127.9L529.5 127.8L531.2 127.7L532.9 127.6L534.5 127.4L536.0 127.3L537.4 127.2L538.7 127.0L539.9 126.9L540.9 126.7L541.9 126.6L542.7 126.4L543.4 126.3L543.9 126.1L544.4 126.0L544.7 125.9L544.8 125.8L544.9 125.7L544.9 125.7L544.7 125.7L544.5 125.7L544.1 125.7L543.6 125.7L543.0 125.7L542.2 125.8L541.4 125.8L540.5 125.9L539.4 126.0L538.3 126.1L537.1 126.2L535.8 126.3L534.4 126.4L533.0 126.5L531.5 126.6L530.0 126.8L528.5 126.9L526.9 127.0L525.3 127.2L523.7 127.3L522.1 127.5L520.6 127.6L519.0 127.8L517.5 127.9L516.1 128.0L514.7 128.2L513.3 128.3L512.1 128.5L510.9 128.6L509.8 128.7L508.8 128.9L507.9 129.0L507.1 129.1L506.4 129.3L505.8 129.4L505.4 129.5L505.1 129.6L504.9 129.7L504.8 129.8L505.0 129.9L505.4 130.0L505.9 130.2L506.5 130.3L507.3 130.4L508.1 130.5L509.1 130.6L510.2 130.6L511.3 130.7L512.6 130.7L513.9 130.8L515.3 130.8L516.7 130.8L518.2 130.9L519.8 130.8L521.3 130.8L523.0 130.8L524.6 130.8L526.2 130.7L527.8 130.7L529.4 130.6L531.0 130.5L532.5 130.4L534.0 130.4L535.5 130.3L536.9 130.2L538.2 130.0L539.5 129.9L540.7 129.8L541.7 129.7L542.7 129.6L543.7 129.5L544.5 129.3L545.2 129.2L545.8 129.1L546.2 129.0L546.6 128.9L546.9 128.8L547.1 128.7L547.1 128.6L547.0 128.6L546.9 128.5L546.6 128.5L546.3 128.5L545.8 128.5L545.2 128.5L544.5 128.5L543.8 128.5L542.9 128.5L542.0 128.6L541.0 128.6L539.9 128.7L538.8 128.7L537.6 128.8L536.3 128.9L535.0 128.9L533.7 129.0L532.3 129.1L531.0 129.2L529.6 129.3L528.2 129.4L526.8 129.5L525.5 129.6L524.2 129.7L522.9 129.8L521.6 129.9L520.4 130.0L519.3 130.1L518.2 130.2L517.2 130.3L516.2 130.4L515.4 130.5L514.6 130.6L513.9 130.7L513.3 130.8L512.9 130.9L512.5 131.0L512.2 131.1L512.1 131.2L512.0 131.3L512.3 131.4L512.6 131.5L513.1 131.6L513.7 131.7L514.3 131.8L515.1 131.9L515.9 132.0L516.9 132.1L517.9 132.1L518.9 132.2L520.1 132.2L521.3 132.3L522.5 132.3L523.8 132.3L525.1 132.3L526.4 132.3L527.8 132.3L529.1 132.2L530.5 132.2L531.8 132.1L533.1 132.1L534.4 132.0L535.7 131.9L537.0 131.8L538.1 131.7L539.3 131.6L540.4 131.5L541.4 131.4L542.4 131.3L543.2 131.2L544.0 131.1L544.8 131.0L545.4 130.9L546.0 130.8L546.4 130.7L546.8 130.6L547.1 130.5L547.3 130.4L547.5 130.4L547.5 130.3L547.4 130.3L547.2 130.3L547.0 130.3L546.7 130.3L546.2 130.3L545.8 130.4L545.2 130.4L544.6 130.4L543.9 130.5L543.1 130.5L542.3 130.6L541.4 130.7L540.5 130.7L539.6 130.8L538.6 130.9L537.6 131.0L536.5 131.0L535.5 131.1L534.4 131.2L533.3 131.3L532.3 131.4L531.2 131.5L530.2 131.6L529.1 131.7L528.2 131.8L527.2 131.8L526.3 131.9L525.4 132.0L524.6 132.1L523.8 132.2L523.1 132.3L522.5 132.4L521.9 132.5L521.4 132.5L521.0 132.6L520.6 132.7L520.4 132.8L520.2 132.9L520.0 132.9L520.0 133.0L520.2 133.1L520.5 133.2L520.9 133.3L521.3 133.4L521.8 133.5L522.4 133.6L523.1 133.7L523.8 133.8L524.5 133.8L525.3 133.9L526.2 133.9L527.1 134.0L528.0 134.0L528.9 134.0L529.9 134.0L530.9 134.0L531.8 134.0L532.8 134.0L533.8 134.0L534.8 133.9L535.8 133.9L536.7 133.8L537.6 133.8L538.5 133.7L539.4 133.6L540.2 133.6L541.0 133.5L541.7 133.4L542.4 133.3L543.0 133.2L543.6 133.1L544.1 133.1L544.6 133.0L544.9 132.9L545.3 132.8L545.5 132.7L545.8 132.7L545.9 132.6L546.0 132.5L546.0 132.5L545.9 132.5L545.8 132.5L545.6 132.5L545.4 132.6L545.1 132.6L544.8 132.7L544.4 132.7L544.0 132.8L543.5 132.8L543.0 132.9L542.4 132.9L541.8 133.0L541.2 133.1L540.5 133.2L539.8 133.2L539.1 133.3L538.4 133.4L537.7 133.5L536.9 133.5L536.2 133.6L535.5 133.7L534.7 133.8L534.0 133.9L533.3 133.9L532.6 134.0L532.0 134.1L531.3 134.2L530.7 134.2L530.2 134.3L529.6 134.4L529.2 134.5L528.7 134.5L528.3 134.6L528.0 134.6L527.7 134.7L527.4 134.8L527.2 134.8L527.1 134.9L527.0 134.9L527.0 135.0L527.2 135.1L527.4 135.2L527.7 135.3L528.0 135.4L528.4 135.5L528.8 135.6L529.3 135.6L529.8 135.7L530.4 135.8L530.9 135.8L531.5 135.9L532.2 135.9L532.8 135.9L533.5 136.0L534.1 136.0L534.8 136.0L535.5 136.0L536.2 135.9L536.9 135.9L537.5 135.9L538.2 135.9L538.9 135.8L539.5 135.8L540.1 135.7L540.7 135.7L541.2 135.6L541.7 135.5L542.2 135.5L542.7 135.4L543.1 135.3L543.5 135.3L543.8 135.2L544.1 135.1L544.3 135.1L544.5 135.0L544.7 135.0L544.9 134.9L544.9 134.9L545.0 134.8L545.0 134.8L545.0 134.8L545.0 134.9L545.0 134.9L544.9 134.9L544.8 135.0L544.6 135.1L544.4 135.1L544.2 135.2L543.9 135.2L543.6 135.3L543.3 135.4L543.0 135.5L542.6 135.5L542.2 135.6L541.8 135.7L541.3 135.8L540.9 135.9L540.4 135.9L539.9 136.0L539.5 136.1L539.0 136.1L538.5 136.2L538.0 136.3L537.5 136.3L537.1 136.4L536.6 136.5L536.2 136.5L535.7 136.6L535.3 136.6L535.0 136.6L534.6 136.7L534.3 136.7L534.0 136.8L533.7 136.8L533.5 136.8L533.3 136.9L533.2 136.9L533.1 136.9L533.0 137.0L533.0 137.0L533.2 137.1L533.4 137.2L533.6 137.3L533.9 137.4L534.2 137.5L534.6 137.6L535.0 137.7L535.4 137.8L535.8 137.9L536.3 137.9L536.8 138.0L537.3 138.0L537.8 138.1L538.3 138.1L538.9 138.2L539.4 138.2L540.0 138.2L540.5 138.2L541.0 138.2L541.5 138.2L542.0 138.2L542.5 138.1L543.0 138.1L543.5 138.1L543.9 138.0L544.3 138.0L544.7 137.9L545.0 137.9L545.4 137.8L545.7 137.8L545.9 137.8L546.2 137.7L546.4 137.7L546.6 137.6L546.7 137.6L546.8 137.6L546.9 137.5L547.0 137.5L547.0 137.5L547.0 137.5L547.0 137.5L547.1 137.6L547.1 137.6L547.0 137.7L547.0 137.7L546.9 137.8L546.8 137.9L546.7 137.9L546.5 138.0L546.3 138.1L546.1 138.1L545.9 138.2L545.7 138.3L545.4 138.4L545.2 138.5L544.9 138.5L544.6 138.6L544.2 138.7L543.9 138.8L543.6 138.8L543.3 138.9L542.9 139.0L542.6 139.0L542.2 139.1L541.9 139.1L541.6 139.2L541.3 139.2L541.0 139.2L540.7 139.3L540.4 139.3L540.2 139.3L539.9 139.4L539.7 139.4L539.5 139.4L539.4 139.4L539.2 139.4L539.1 139.5L539.1 139.5L539.0 139.5L539.0 139.5L539.1 139.6L539.3 139.7L539.4 139.7L539.6 139.8L539.9 139.9L540.1 140.0L540.4 140.0L540.7 140.1L541.0 140.2L541.4 140.2L541.7 140.3L542.1 140.3L542.5 140.3L542.9 140.4L543.3 140.4L543.7 140.4L544.1 140.4L544.5 140.4L544.9 140.5L545.3 140.4L545.7 140.4L546.0 140.4L546.4 140.4L546.7 140.4L547.1 140.4L547.4 140.3L547.7 140.3L547.9 140.3L548.2 140.2L548.4 140.2L548.6 140.2L548.8 140.2L549.0 140.1L549.1 140.1L549.3 140.1L549.4 140.0L549.4 140.0L549.5 140.0L549.5 140.0L549.5 140.0L549.6 140.0L549.6 140.1L549.6 140.1L549.6 140.1L549.5 140.2L549.5 140.2L549.4 140.3L549.3 140.3L549.2 140.4L549.1 140.5L548.9 140.5L548.7 140.6L548.6 140.6L548.4 140.7L548.1 140.8L547.9 140.8L547.7 140.9L547.4 140.9L547.1 141.0L546.9 141.1L546.6 141.1L546.3 141.1L546.0 141.2L545.7 141.2L545.5 141.3L545.2 141.3L544.9 141.3L544.7 141.4L544.4 141.4L544.2 141.4L544.0 141.4L543.8 141.4L543.6 141.4L543.5 141.5L543.3 141.5L543.2 141.5L543.1 141.5L543.0 141.5L543.0 141.5L543.0 141.5L543.1 141.6L543.2 141.6L543.4 141.7L543.6 141.8L543.8 141.9L544.0 141.9L544.3 142.0L544.6 142.1L544.8 142.1L545.2 142.2L545.5 142.2L545.8 142.2L546.1 142.3L546.5 142.3L546.8 142.3L547.2 142.3L547.5 142.4L547.8 142.4L548.2 142.4L548.5 142.3L548.8 142.3L549.2 142.3L549.5 142.3L549.7 142.3L550.0 142.3L550.3 142.2L550.5 142.2L550.8 142.2L551.0 142.2L551.1 142.1L551.3 142.1L551.5 142.1L551.6 142.1L551.7 142.0L551.8 142.0L551.9 142.0L551.9 142.0L552.0 142.0L552.0 142.0L552.0 142.0L552.1 142.0L552.1 142.1L552.2 142.1L552.2 142.2L552.2 142.2L552.2 142.3L552.1 142.3L552.1 142.4L552.0 142.4L551.9 142.5L551.8 142.6L551.7 142.6L551.5 142.7L551.4 142.8L551.2 142.8L551.1 142.9L550.9 143.0L550.7 143.0L550.5 143.1L550.2 143.2L550.0 143.2L549.8 143.3L549.6 143.3L549.3 143.3L549.1 143.4L548.9 143.4L548.7 143.4L548.4 143.5L548.2 143.5L548.0 143.5L547.9 143.5L547.7 143.5L547.5 143.5L547.4 143.5L547.3 143.5L547.2 143.5L547.1 143.5L547.0 143.5L547.0 143.5L547.0 143.5L547.1 143.6L547.2 143.7L547.4 143.7L547.6 143.8L547.8 143.9L548.0 144.0L548.2 144.0L548.5 144.1L548.7 144.2L549.0 144.2L549.3 144.2L549.6 144.3L549.9 144.3L550.2 144.3L550.5 144.4L550.8 144.4L551.1 144.4L551.4 144.4L551.7 144.4L552.0 144.4L552.3 144.4L552.6 144.3L552.8 144.3L553.1 144.3L553.3 144.3L553.6 144.2L553.8 144.2L554.0 144.2L554.1 144.1L554.3 144.1L554.4 144.1L554.6 144.1L554.7 144.0L554.8 144.0L554.9 144.0L554.9 144.0L555.0 144.0L555.0 144.0L555.0 144.0L555.0 144.0L555.1 144.0L555.1 144.1L555.2 144.1L555.2 144.2L555.2 144.2L555.2 144.3L555.2 144.3L555.2 144.4L555.1 144.4L555.1 144.5L555.0 144.6L554.9 144.7L554.8 144.7L554.7 144.8L554.5 144.9L554.4 144.9L554.2 145.0L554.1 145.1L553.9 145.1L553.7 145.2L553.6 145.3L553.4 145.3L553.2 145.4L553.0 145.4L552.8 145.5L552.6 145.5L552.4 145.5L552.2 145.6L552.1 145.6L551.9 145.6L551.7 145.6L551.6 145.6L551.4 145.6L551.3 145.6L551.2 145.6L551.1 145.6L551.1 145.6L551.0 145.6L551.0 145.6L551.0 145.6L551.1 145.7L551.2 145.8L551.4 145.8L551.5 145.9L551.7 146.0L551.9 146.1L552.1 146.1L552.4 146.2L552.6 146.2L552.9 146.3L553.1 146.3L553.4 146.4L553.6 146.4L553.9 146.4L554.2 146.4L554.5 146.4L554.7 146.4L555.0 146.4L555.3 146.4L555.5 146.4L555.8 146.4L556.0 146.4L556.2 146.3L556.4 146.3L556.6 146.3L556.8 146.2L557.0 146.2L557.2 146.2L557.3 146.1L557.5 146.1L557.6 146.1L557.7 146.0L557.8 146.0L557.8 146.0L557.9 146.0L557.9 146.0L558.0 146.0L558.0 146.0L558.0 146.0L558.0 146.0L558.1 146.0L558.1 146.1L558.2 146.1L558.2 146.1L558.2 146.2L558.3 146.2L558.3 146.3L558.3 146.4L558.2 146.4L558.2 146.5L558.1 146.6L558.1 146.6L558.0 146.7L557.9 146.8L557.8 146.9L557.7 146.9L557.6 147.0L557.5 147.1L557.4 147.1L557.2 147.2L557.1 147.3L556.9 147.3L556.8 147.4L556.6 147.4L556.5 147.5L556.3 147.5L556.2 147.5L556.0 147.6L555.9 147.6L555.7 147.6L555.6 147.6L555.5 147.6L555.4 147.6L555.3 147.6L555.2 147.6L555.1 147.6L555.1 147.6L555.0 147.6L555.0 147.6L555.0 147.6L555.1 147.7L555.2 147.8L555.4 147.9L555.5 147.9L555.7 148.0L555.9 148.1L556.1 148.2L556.3 148.2L556.5 148.3L556.7 148.3L556.9 148.3L557.2 148.4L557.4 148.4L557.6 148.4L557.9 148.4L558.1 148.4L558.4 148.4L558.6 148.4L558.8 148.4L559.0 148.4L559.2 148.3L559.4 148.3L559.6 148.3L559.8 148.2L560.0 148.2L560.1 148.2L560.3 148.1L560.4 148.1L560.5 148.1L560.6 148.0L560.7 148.0L560.8 148.0L560.8 148.0L560.9 148.0L560.9 147.9L561.0 147.9L561.0 148.0L561.0 148.0L561.0 148.0L561.0 148.0L561.1 148.0L561.2 148.0L561.2 148.1L561.3 148.1L561.3 148.1L561.4 148.2L561.4 148.2L561.4 148.3L561.4 148.4L561.4 148.4L561.4 148.5L561.4 148.6L561.4 148.6L561.3 148.7L561.3 148.8L561.2 148.9L561.1 148.9L561.0 149.0L561.0 149.1L560.8 149.2L560.7 149.2L560.6 149.3L560.5 149.3L560.4 149.4L560.3 149.4L560.1 149.5L560.0 149.5L559.9 149.5L559.7 149.6L559.6 149.6L559.5 149.6L559.4 149.6L559.3 149.6L559.2 149.6L559.2 149.6L559.1 149.6L559.0 149.6L559.0 149.5L559.0 149.5L559.0 149.5L559.1 149.6L559.2 149.7L559.3 149.8L559.5 149.8L559.7 149.9L559.8 150.0L560.0 150.1L560.2 150.1L560.4 150.2L560.6 150.2L560.8 150.3L561.1 150.3L561.3 150.3L561.5 150.3L561.7 150.3L562.0 150.3L562.2 150.3L562.4 150.3L562.6 150.3L562.8 150.3L563.0 150.3L563.1 150.2L563.3 150.2L563.5 150.2L563.6 150.1L563.8 150.1L563.9 150.1L564.0 150.0L564.1 150.0L564.2 150.0L564.2 150.0L564.3 149.9L564.4 149.9L564.4 149.9L564.4 149.9L564.5 149.9L564.5 149.9L564.5 150.0L564.5 150.0L564.5 150.0L564.6 150.0L564.7 150.0L564.7 150.0L564.8 150.1L564.8 150.1L564.9 150.1L564.9 150.2L565.0 150.2L565.0 150.3L565.0 150.3L565.0 150.4L565.0 150.4L565.0 150.5L565.0 150.6L564.9 150.6L564.9 150.7L564.8 150.8L564.7 150.8L564.7 150.9L564.6 151.0L564.5 151.0L564.4 151.1L564.3 151.2L564.2 151.2L564.1 151.3L564.0 151.3L563.9 151.3L563.8 151.4L563.7 151.4L563.6 151.4L563.5 151.4L563.4 151.4L563.3 151.4L563.2 151.4L563.1 151.4L563.1 151.4L563.0 151.4L563.0 151.3L563.0 151.3L563.0 151.3L563.1 151.4L563.2 151.5L563.3 151.6L563.5 151.7L563.6 151.7L563.8 151.8L564.0 151.9L564.2 151.9L564.4 152.0L564.6 152.0L564.8 152.1L565.0 152.1L565.2 152.1L565.4 152.1L565.6 152.1L565.8 152.1L566.0 152.1L566.2 152.1L566.4 152.0L566.5 152.0L566.7 152.0L566.9 151.9L567.0 151.9L567.1 151.9L567.3 151.8L567.4 151.8L567.5 151.7L567.6 151.7L567.7 151.7L567.7 151.7L567.8 151.6L567.8 151.6L567.9 151.6L567.9 151.6L567.9 151.6L568.0 151.6L568.0 151.6L568.0 151.6L568.0 151.7L568.0 151.7L568.1 151.7L568.1 151.7L568.2 151.7L568.2 151.8L568.3 151.8L568.3 151.8L568.4 151.9L568.4 151.9L568.4 152.0L568.5 152.0L568.5 152.1L568.5 152.1L568.5 152.2L568.4 152.3L568.4 152.3L568.4 152.4L568.4 152.5L568.3 152.5L568.3 152.6L568.2 152.7L568.1 152.7L568.1 152.8L568.0 152.8L567.9 152.9L567.8 152.9L567.8 153.0L567.7 153.0L567.6 153.0L567.5 153.1L567.4 153.1L567.3 153.1L567.3 153.1L567.2 153.1L567.1 153.1L567.1 153.1L567.1 153.1L567.0 153.1L567.0 153.0L567.0 153.0L567.0 153.0L567.1 153.0L567.2 152.9L567.3 152.9L567.5 152.9L567.6 152.8L567.8 152.8L567.9 152.8L568.1 152.8L568.3 152.9L568.4 152.9L568.6 152.9L568.8 153.0L568.9 153.0L569.1 153.1L569.2 153.2L569.4 153.2L569.5 153.3L569.7 153.4L569.8 153.5L569.9 153.6L570.0 153.7L570.1 153.7L570.2 153.8L570.3 153.9L570.4 154.0L570.5 154.1L570.5 154.1L570.6 154.2L570.6 154.3L570.7 154.3L570.7 154.3L570.7 154.4L570.8 154.4L570.8 154.4L570.8 154.4L570.9 154.4L570.9 154.4L570.9 154.4L571.0 154.4L571.0 153.3L571.0 153.3L571.0 153.3L571.0 153.3L571.1 153.3L571.1 153.3L571.1 153.3L571.1 153.4L571.1 153.4L571.1 153.4L571.2 153.5L571.2 153.5L571.2 153.6L571.3 153.7L571.3 153.8L571.4 153.8L571.4 153.9L571.5 154.0L571.6 154.1L571.7 154.2L571.8 154.3L571.9 154.4L572.0 154.4L572.2 154.5L572.3 154.6L572.4 154.7L572.6 154.7L572.7 154.8L572.9 154.8L573.0 154.9L573.2 154.9L573.4 154.9L573.5 154.9L573.7 154.9L573.8 154.9L574.0 154.9L574.1 154.9L574.2 154.8L574.3 154.8L574.4 154.8L571.0 154.4L571.1 154.4L571.2 154.4L571.3 154.4L571.4 154.4L571.6 154.4L571.7 154.4L571.8 154.4L572.0 154.4L572.1 154.4L572.3 154.5L572.4 154.5L572.6 154.5L572.7 154.5L572.9 154.6L573.0 154.6L573.2 154.7L573.3 154.7L573.4 154.8L573.6 154.8L573.7 154.9L573.8 154.9L573.9 155.0L574.0 155.0L574.1 155.1L574.2 155.1L574.3 155.1L574.4 155.2L574.5 155.2L574.5 155.2L574.6 155.3L574.7 155.3L574.7 155.3L574.8 155.3L574.8 155.3L574.8 155.3L574.9 155.3L574.9 155.3L574.9 155.3L575.0 155.3L574.5 154.7L574.5 154.7L574.5 154.7L574.5 154.7L574.6 154.7L574.6 154.7L574.6 154.8L574.7 154.8L574.7 154.8L574.7 154.8L574.8 154.9L574.8 154.9L574.9 154.9L574.9 155.0L575.0 155.0L575.1 155.1L575.2 155.1L575.3 155.2L575.4 155.2L575.5 155.2L575.6 155.3L575.7 155.3L575.8 155.4L575.9 155.4L576.1 155.5L576.2 155.5L576.3 155.5L576.5 155.5L576.6 155.6L576.7 155.6L576.9 155.6L577.0 155.6L577.1 155.6L577.3 155.6L577.4 155.6L577.5 155.6L577.6 155.6L577.7 155.6L577.8 155.5L577.9 155.5L575.0 155.3L575.0 155.3L575.0 155.3L575.0 155.3L575.1 155.3L575.1 155.3L575.2 155.3L575.2 155.3L575.3 155.4L575.4 155.4L575.5 155.4L575.5 155.4L575.6 155.4L575.7 155.4L575.9 155.4L576.0 155.4L576.1 155.4L576.2 155.4L576.3 155.4L576.4 155.4L576.6 155.5L576.7 155.5L576.8 155.5L576.9 155.5L577.0 155.5L577.1 155.5L577.2 155.5L577.3 155.5L577.4 155.5L577.5 155.5L577.6 155.5L577.7 155.5L577.8 155.5L577.8 155.5L577.9 155.5L577.9 155.5L578.0 155.5L578.0 155.5L578.0 155.5L578.0 155.5" fill="none" stroke="#D95319" stroke-width="1.50" stroke-linejoin="round"/>
<path d="M461.8 129.2L460.6 129.6L459.4 129.9L458.2 130.3L457.1 130.6L456.0 130.9L454.9 131.1L453.9 131.3L452.8 131.5L451.9 131.7L450.9 131.8L450.0 131.9L449.2 132.0L448.4 132.0L447.6 132.0L446.9 132.0L446.3 132.0L445.7 131.9L445.1 131.8L444.6 131.7L444.2 131.6L443.9 131.5L443.6 131.3L443.3 131.1L443.2 130.9L443.0 130.7L443.0 130.5L443.1 130.5L443.2 130.4L443.4 130.3L443.7 130.3L444.0 130.2L444.4 130.1L444.8 130.0L445.3 129.9L445.8 129.8L446.4 129.6L447.0 129.5L447.7 129.4L448.4 129.2L449.2 129.0L450.0 128.9L450.8 128.7L451.7 128.5L452.6 128.3L453.6 128.1L454.5 127.9L455.5 127.7L456.6 127.5L457.6 127.3L458.7 127.0L459.8 126.8L460.9 126.6L462.0 126.4L463.1 126.1L464.2 125.9L465.3 125.7L466.4 125.5L467.5 125.2L468.6 125.0L469.7 124.8L470.8 124.6L471.8 124.4L472.9 124.2L473.9 124.0L474.9 123.8L475.9 123.7L476.8 123.5L477.7 123.4L478.6 123.2L479.4 123.1L480.2 123.0L481.0 122.9L481.7 122.9L482.4 122.8L483.0 122.7L483.6 122.7L484.2 122.7L484.7 122.7L485.1 122.8L485.5 122.8L485.8 122.9L486.1 123.0L486.4 123.1L486.6 123.2L486.7 123.3L486.8 123.5L486.8 123.8L486.7 124.2L486.6 124.6L486.5 125.0L486.2 125.4L486.0 125.9L485.6 126.3L485.3 126.8L484.8 127.2L484.4 127.7L483.8 128.2L483.3 128.7L482.7 129.2L482.0 129.7L481.3 130.2L480.6 130.7L479.8 131.2L479.0 131.6L478.2 132.1L477.3 132.6L476.4 133.1L475.5 133.6L474.6 134.0L473.6 134.5L472.7 134.9L471.7 135.3L470.7 135.7L469.7 136.1L468.7 136.5L467.7 136.8L466.6 137.2L465.6 137.5L464.6 137.8L463.6 138.1L462.7 138.4L461.7 138.6L460.7 138.8L459.8 139.0L458.9 139.2L458.0 139.4L457.1 139.5L456.3 139.6L455.5 139.7L454.8 139.8L454.0 139.9L453.3 139.9L452.7 139.9L452.1 139.9L451.5 139.9L451.0 139.9L450.5 139.8L450.0 139.7L449.7 139.7L449.3 139.6L449.0 139.4L448.8 139.3L448.6 139.2L448.4 139.0L448.3 138.9L448.3 138.7L448.4 138.6L448.5 138.5L448.7 138.5L449.0 138.4L449.2 138.3L449.6 138.2L449.9 138.0L450.3 137.9L450.8 137.8L451.3 137.6L451.8 137.5L452.4 137.3L453.0 137.2L453.6 137.0L454.3 136.9L455.0 136.7L455.7 136.5L456.4 136.3L457.2 136.1L458.0 136.0L458.8 135.8L459.6 135.6L460.5 135.4L461.3 135.2L462.2 135.0L463.1 134.8L464.0 134.6L464.9 134.4L465.7 134.3L466.6 134.1L467.5 133.9L468.4 133.7L469.3 133.6L470.1 133.4L471.0 133.3L471.8 133.1L472.6 133.0L473.4 132.8L474.2 132.7L474.9 132.6L475.7 132.5L476.4 132.4L477.1 132.3L477.7 132.2L478.4 132.2L479.0 132.1L479.5 132.1L480.0 132.1L480.5 132.1L481.0 132.1L481.4 132.1L481.8 132.2L482.1 132.2L482.5 132.3L482.7 132.4L483.0 132.5L483.2 132.6L483.3 132.7L483.4 132.8L483.5 133.0L483.5 133.3L483.5 133.6L483.4 133.9L483.3 134.2L483.2 134.6L483.0 134.9L482.8 135.3L482.5 135.6L482.2 136.0L481.9 136.4L481.5 136.7L481.1 137.1L480.6 137.5L480.2 137.9L479.7 138.3L479.1 138.7L478.5 139.0L477.9 139.4L477.3 139.8L476.7 140.1L476.0 140.5L475.3 140.9L474.6 141.2L473.9 141.5L473.2 141.9L472.4 142.2L471.7 142.5L470.9 142.8L470.1 143.0L469.4 143.3L468.6 143.5L467.8 143.8L467.1 144.0L466.3 144.2L465.6 144.4L464.8 144.5L464.1 144.7L463.4 144.8L462.7 144.9L462.0 145.0L461.3 145.1L460.7 145.2L460.1 145.2L459.5 145.2L458.9 145.3L458.4 145.3L457.9 145.3L457.4 145.2L457.0 145.2L456.6 145.1L456.2 145.1L455.8 145.0L455.5 144.9L455.3 144.8L455.1 144.7L454.9 144.6L454.7 144.4L454.6 144.3L454.5 144.1L454.5 144.0L454.6 143.9L454.7 143.9L454.9 143.8L455.1 143.7L455.3 143.6L455.6 143.5L455.9 143.4L456.2 143.3L456.6 143.2L457.0 143.1L457.4 143.0L457.8 142.9L458.3 142.8L458.8 142.6L459.3 142.5L459.9 142.4L460.5 142.3L461.0 142.1L461.7 142.0L462.3 141.9L462.9 141.7L463.6 141.6L464.2 141.5L464.9 141.4L465.6 141.2L466.3 141.1L467.0 141.0L467.6 140.8L468.3 140.7L469.0 140.6L469.7 140.5L470.4 140.4L471.1 140.3L471.7 140.2L472.4 140.1L473.0 140.0L473.7 139.9L474.3 139.8L474.9 139.8L475.5 139.7L476.1 139.6L476.6 139.6L477.1 139.6L477.6 139.5L478.1 139.5L478.6 139.5L479.0 139.5L479.4 139.5L479.8 139.5L480.2 139.6L480.5 139.6L480.8 139.7L481.0 139.7L481.3 139.8L481.5 139.9L481.7 140.0L481.8 140.1L481.9 140.2L482.0 140.4L482.1 140.5L482.1 140.7L482.1 140.9L482.0 141.2L482.0 141.4L481.8 141.7L481.7 141.9L481.5 142.2L481.3 142.4L481.1 142.7L480.8 143.0L480.6 143.3L480.2 143.5L479.9 143.8L479.5 144.1L479.1 144.4L478.7 144.7L478.3 144.9L477.9 145.2L477.4 145.5L476.9 145.8L476.4 146.0L475.9 146.3L475.3 146.5L474.8 146.8L474.2 147.0L473.7 147.2L473.1 147.5L472.5 147.7L471.9 147.9L471.4 148.0L470.8 148.2L470.2 148.4L469.6 148.5L469.0 148.7L468.5 148.8L467.9 148.9L467.4 149.0L466.8 149.1L466.3 149.2L465.8 149.3L465.3 149.3L464.8 149.4L464.3 149.4L463.9 149.4L463.4 149.4L463.0 149.4L462.6 149.4L462.3 149.4L461.9 149.3L461.6 149.3L461.3 149.2L461.1 149.2L460.8 149.1L460.6 149.0L460.5 148.9L460.3 148.8L460.2 148.7L460.1 148.6L460.0 148.4L460.0 148.3L460.1 148.2L460.2 148.1L460.3 148.0L460.5 147.9L460.7 147.8L460.9 147.7L461.1 147.5L461.4 147.4L461.7 147.3L462.0 147.2L462.3 147.0L462.7 146.9L463.0 146.8L463.4 146.6L463.8 146.5L464.3 146.4L464.7 146.2L465.1 146.1L465.6 146.0L466.1 145.8L466.6 145.7L467.0 145.6L467.5 145.4L468.1 145.3L468.6 145.2L469.1 145.1L469.6 145.0L470.1 144.8L470.6 144.7L471.1 144.6L471.7 144.5L472.2 144.5L472.7 144.4L473.2 144.3L473.6 144.2L474.1 144.2L474.6 144.1L475.1 144.1L475.5 144.0L475.9 144.0L476.3 143.9L476.7 143.9L477.1 143.9L477.5 143.9L477.9 143.9L478.2 143.9L478.5 144.0L478.8 144.0L479.1 144.0L479.4 144.1L479.6 144.1L479.8 144.2L480.0 144.3L480.2 144.3L480.3 144.4L480.5 144.5L480.6 144.6L480.7 144.8L480.7 144.9L480.8 145.0L480.8 145.2L480.8 145.3L480.7 145.5L480.7 145.7L480.6 145.9L480.5 146.1L480.4 146.2L480.2 146.4L480.0 146.6L479.9 146.8L479.6 147.0L479.4 147.2L479.2 147.4L478.9 147.6L478.6 147.8L478.4 148.0L478.1 148.2L477.7 148.4L477.4 148.6L477.1 148.8L476.7 149.0L476.3 149.2L476.0 149.3L475.6 149.5L475.2 149.7L474.8 149.8L474.4 150.0L474.0 150.1L473.6 150.2L473.2 150.3L472.8 150.5L472.4 150.6L472.0 150.7L471.6 150.7L471.2 150.8L470.8 150.9L470.4 150.9L470.0 151.0L469.7 151.0L469.3 151.1L469.0 151.1L468.6 151.1L468.3 151.1L468.0 151.1L467.7 151.1L467.4 151.1L467.1 151.0L466.9 151.0L466.7 150.9L466.4 150.9L466.2 150.8L466.1 150.8L465.9 150.7L465.8 150.6L465.6 150.5L465.5 150.4L465.4 150.3L465.4 150.2L465.3 150.1L465.3 150.0L465.3 149.9L465.4 149.8L465.5 149.8L465.6 149.7L465.7 149.6L465.8 149.5L466.0 149.4L466.2 149.3L466.3 149.2L466.5 149.1L466.8 149.0L467.0 149.0L467.2 148.9L467.5 148.8L467.8 148.7L468.0 148.6L468.3 148.5L468.6 148.4L468.9 148.3L469.2 148.2L469.6 148.1L469.9 148.0L470.2 147.9L470.6 147.8L470.9 147.8L471.3 147.7L471.6 147.6L472.0 147.5L472.3 147.5L472.7 147.4L473.0 147.3L473.4 147.3L473.7 147.2L474.0 147.2L474.4 147.1L474.7 147.1L475.0 147.1L475.3 147.0L475.6 147.0L475.9 147.0L476.2 147.0L476.5 147.0L476.8 147.0L477.0 147.0L477.3 147.0L477.5 147.0L477.7 147.0L477.9 147.0L478.1 147.1L478.3 147.1L478.5 147.2L478.6 147.2L478.8 147.3L478.9 147.3L479.0 147.4L479.1 147.5L479.2 147.5L479.2 147.6L479.3 147.7L479.3 147.8L479.3 147.9L479.3 148.0L479.2 148.1L479.2 148.3L479.1 148.4L479.1 148.5L479.0 148.6L478.9 148.8L478.7 148.9L478.6 149.0L478.5 149.1L478.3 149.3L478.1 149.4L477.9 149.5L477.7 149.7L477.5 149.8L477.3 149.9L477.1 150.1L476.9 150.2L476.6 150.3L476.4 150.4L476.1 150.5L475.8 150.6L475.6 150.7L475.3 150.8L475.0 150.9L474.7 151.0L474.4 151.1L474.2 151.2L473.9 151.3L473.6 151.4L473.3 151.4L473.0 151.5L472.7 151.5L472.5 151.6L472.2 151.6L471.9 151.7L471.6 151.7L471.4 151.7L471.1 151.7L470.9 151.8L470.6 151.8L470.4 151.8L470.2 151.8L470.0 151.8L469.8 151.7L469.6 151.7L469.4 151.7L469.3 151.6L469.1 151.6L469.0 151.6L468.8 151.5L468.7 151.5L468.6 151.4L468.5 151.3L468.5 151.3L468.4 151.2L468.3 151.1L468.3 151.1L468.3 151.0L468.3 150.9L468.4 150.9L468.5 150.8L468.5 150.8L468.6 150.7L468.7 150.7L468.8 150.6L469.0 150.5L469.1 150.5L469.3 150.4L469.4 150.3L469.6 150.3L469.8 150.2L470.0 150.1L470.1 150.1L470.4 150.0L470.6 149.9L470.8 149.9L471.0 149.8L471.2 149.7L471.5 149.7L471.7 149.6L471.9 149.6L472.2 149.5L472.4 149.4L472.7 149.4L472.9 149.3L473.2 149.3L473.4 149.2L473.7 149.2L473.9 149.2L474.2 149.1L474.4 149.1L474.7 149.1L474.9 149.0L475.1 149.0L475.3 149.0L475.6 149.0L475.8 148.9L476.0 148.9L476.2 148.9L476.4 148.9L476.6 148.9L476.7 148.9L476.9 148.9L477.1 148.9L477.2 149.0L477.4 149.0L477.5 149.0L477.6 149.0L477.7 149.1L477.8 149.1L477.9 149.1L478.0 149.2L478.1 149.2L478.2 149.3L478.2 149.3L478.2 149.4L478.3 149.4L478.3 149.5L478.3 149.6L478.3 149.6L478.2 149.7L478.2 149.8L478.1 149.9L478.0 150.0L478.0 150.0L477.9 150.1L477.8 150.2L477.7 150.3L477.6 150.4L477.5 150.5L477.3 150.5L477.2 150.6L477.1 150.7L476.9 150.8L476.7 150.9L476.6 150.9L476.4 151.0L476.3 151.1L476.1 151.2L475.9 151.2L475.7 151.3L475.5 151.4L475.3 151.5L475.2 151.5L475.0 151.6L474.8 151.6L474.6 151.7L474.4 151.7L474.2 151.8L474.0 151.8L473.8 151.9L473.6 151.9L473.4 151.9L473.3 151.9L473.1 152.0L472.9 152.0L472.8 152.0L472.6 152.0L472.4 152.0L472.3 152.0L472.1 152.0L472.0 152.0L471.9 152.0L471.7 152.0L471.6 152.0L471.5 152.0L471.4 151.9L471.3 151.9L471.2 151.9L471.1 151.8L471.1 151.8L471.0 151.8L470.9 151.7L470.9 151.7L470.9 151.6L470.8 151.6L470.8 151.5L470.8 151.5L470.8 151.5L470.9 151.4L471.0 151.4L471.0 151.4L471.1 151.3L471.2 151.3L471.3 151.3L471.4 151.2L471.5 151.2L471.6 151.2L471.7 151.1L471.8 151.1L472.0 151.0L472.1 151.0L472.2 151.0L472.4 150.9L472.5 150.9L472.7 150.8L472.8 150.8L472.9 150.8L473.1 150.7L473.2 150.7L473.4 150.7L473.5 150.6L473.7 150.6L473.8 150.5L474.0 150.5L474.1 150.5L474.3 150.4L474.4 150.4L474.5 150.4L474.7 150.4L474.8 150.3L474.9 150.3L475.1 150.3L475.2 150.3L475.3 150.3L475.4 150.2L475.6 150.2L475.7 150.2L475.8 150.2L475.9 150.2L476.0 150.2L476.0 150.2L476.1 150.2L476.2 150.2L476.3 150.2L476.4 150.2L476.4 150.2L476.5 150.3L476.5 150.3L476.6 150.3L476.6 150.3L476.7 150.3L476.7 150.4L476.7 150.4L476.7 150.4L476.8 150.4L476.8 150.5L476.8 150.5L476.8 150.5L476.8 150.5L476.8 150.6L476.8 150.6L476.8 150.6L476.8 150.6L476.7 150.6L476.7 150.7L476.7 150.7L476.6 150.7L476.6 150.7L476.6 150.8L476.5 150.8L476.5 150.8L476.4 150.9L476.4 150.9L476.3 150.9L476.2 150.9L476.2 151.0L476.1 151.0L476.0 151.0L476.0 151.1L475.9 151.1L475.8 151.1L475.7 151.2L475.7 151.2L475.6 151.2L475.5 151.2L475.4 151.3L475.4 151.3L475.3 151.3L475.2 151.3L475.1 151.4L475.0 151.4L475.0 151.4L474.9 151.4L474.8 151.5L474.7 151.5L474.7 151.5L474.6 151.5L474.5 151.5L474.4 151.5L474.4 151.5L474.3 151.6L474.3 151.6L474.2 151.6L474.2 151.6L474.1 151.6L474.1 151.6L474.0 151.6L474.0 151.6L473.9 151.6L473.9 151.6L473.9 151.6L473.9 151.5L473.8 151.5L473.8 151.5L473.8 151.5L473.8 151.5L472.0 151.0L472.6 151.4L472.7 151.8L472.3 152.1L471.8 152.5L471.4 152.9L471.5 153.3L472.0 153.6L472.6 154.0L472.8 154.4L472.4 154.8L471.8 155.2L471.4 155.5L471.5 155.9L472.0 156.3L472.6 156.7L472.8 157.0L472.5 157.4L471.9 157.8L471.5 158.2L471.5 158.6L472.0 158.9L472.6 159.3L472.9 159.7L472.6 160.1L472.0 160.4L471.6 160.8L471.6 161.2L472.1 161.6L472.6 162.0L472.9 162.3L472.7 162.7L472.1 163.1L471.7 163.5L471.6 163.8L472.1 164.2L472.7 164.6L473.0 165.0L472.8 165.4L472.2 165.7L471.7 166.1L471.7 166.5L472.1 166.9L472.7 167.2L473.0 167.6L472.9 168.0L472.3 168.4L471.8 168.8L471.7 169.1L472.1 169.5L472.7 169.9L473.1 170.3L473.0 170.6L472.5 171.0L471.9 171.4L471.8 171.8L472.1 172.2L472.7 172.5L473.1 172.9L473.1 173.3L472.6 173.7L472.0 174.0L471.8 174.4L472.1 174.8L472.7 175.2L473.2 175.6L473.1 175.9L472.7 176.3L472.1 176.7L471.9 177.1L472.2 177.4L472.7 177.8L473.2 178.2L473.2 178.6L472.8 179.0L472.2 179.3L471.9 179.7L472.2 180.1L472.8 180.5L473.3 180.8L473.3 181.2L472.9 181.6L472.3 182.0L472.0 182.4L472.2 182.7L472.8 183.1L473.3 183.5L473.4 183.9L473.0 184.2L472.4 184.6L472.0 185.0L472.2 185.4L472.8 185.8L473.3 186.1L473.4 186.5L473.0 186.9L472.5 187.3L472.1 187.6L472.2 188.0L472.8 188.4" fill="none" stroke="#7E2F8E" stroke-width="1.50" stroke-linejoin="round" stroke-dasharray="4.6 1.1 2.4 1.1"/>
<path d="M469.4 139.5L469.3 139.7L469.1 139.8L468.9 140.0L468.7 140.2L468.5 140.3L468.3 140.5L468.1 140.6L467.9 140.8L467.6 140.9L467.4 141.1L467.2 141.2L467.0 141.3L466.8 141.4L466.6 141.5L466.3 141.6L466.1 141.7L465.9 141.8L465.7 141.9L465.5 142.0L465.3 142.0L465.1 142.1L464.9 142.1L464.8 142.2L464.6 142.2L464.4 142.3L464.3 142.3L464.1 142.3L464.0 142.3L463.8 142.3L463.7 142.3L463.6 142.3L463.5 142.3L463.4 142.3L463.3 142.3L463.2 142.2L463.2 142.2L463.1 142.2L463.1 142.2L463.0 142.1L463.0 142.1L463.0 142.0L463.0 142.0L463.0 142.0L463.1 142.0L463.1 141.9L463.2 141.9L463.3 141.9L463.3 141.9L463.4 141.8L463.5 141.8L463.6 141.8L463.7 141.7L463.8 141.7L463.9 141.7L464.0 141.6L464.2 141.6L464.3 141.5L464.4 141.5L464.6 141.5L464.7 141.4L464.8 141.4L465.0 141.3L465.1 141.3L465.3 141.3L465.4 141.2L465.6 141.2L465.8 141.1L465.9 141.1L466.1 141.1L466.2 141.0L466.4 141.0L466.5 140.9L466.7 140.9L466.8 140.9L467.0 140.8L467.1 140.8L467.3 140.8L467.4 140.7L467.5 140.7L467.7 140.7L467.8 140.7L467.9 140.7L468.1 140.6L468.2 140.6L468.3 140.6L468.4 140.6L468.5 140.6L468.6 140.6L468.7 140.6L468.8 140.6L468.9 140.6L469.0 140.7L469.1 140.7L469.1 140.7L469.2 140.7L469.2 140.8L469.3 140.8L469.4 140.8L469.4 140.9L469.4 140.9L469.5 141.0L469.5 141.0L469.5 141.1L469.5 141.2L469.5 141.4L469.5 141.5L469.4 141.6L469.4 141.8L469.4 141.9L469.3 142.0L469.3 142.1L469.2 142.3L469.1 142.4L469.0 142.5L469.0 142.6L468.9 142.8L468.8 142.9L468.7 143.0L468.5 143.1L468.4 143.2L468.3 143.3L468.2 143.4L468.1 143.5L467.9 143.5L467.8 143.6L467.7 143.7L467.5 143.7L467.4 143.8L467.3 143.8L467.2 143.9L467.0 143.9L466.9 143.9L466.8 144.0L466.7 144.0L466.5 144.0L466.4 144.0L466.3 144.0L466.2 144.0L466.1 144.0L466.0 144.0L465.9 144.0L465.8 144.0L465.8 143.9L465.7 143.9L465.6 143.9L465.6 143.9L465.5 143.8L465.5 143.8L465.4 143.8L465.4 143.7L465.4 143.7L465.4 143.7L465.4 143.6L465.4 143.6L465.4 143.6L465.4 143.6L465.4 143.6L465.4 143.5L465.4 143.5L465.4 143.5L465.5 143.5L465.5 143.5L465.5 143.5L465.5 143.5L465.6 143.5L465.6 143.5L465.6 143.4L465.6 143.4L465.7 143.4L465.7 143.4L465.7 143.4L465.8 143.4L465.8 143.5L465.8 143.5L465.9 143.5L465.9 143.5L466.0 143.5L466.0 143.5L466.0 143.5L466.1 143.6L466.1 143.6L466.2 143.6L466.2 143.6L466.3 143.7L466.3 143.7L466.4 143.7L466.4 143.8L466.5 143.8L466.5 143.8L466.6 143.9L466.6 143.9L466.7 144.0L466.7 144.0L466.8 144.0L466.8 144.1L466.9 144.1L466.9 144.2L466.9 144.2L467.0 144.3L467.0 144.3L467.1 144.3L467.1 144.4L467.1 144.4L467.2 144.5L467.2 144.5L467.2 144.6L467.2 144.6L467.3 144.6L467.3 144.7L467.3 144.7L467.3 144.7L467.3 144.8L467.3 144.8L467.3 144.8L467.3 144.9L467.3 144.9L467.3 144.9L467.3 144.9L467.3 145.0L467.3 145.0L467.3 145.0L467.3 145.0L467.5 145.9L467.4 146.7L467.1 147.6L467.1 148.5L467.3 149.3L467.5 150.2L467.4 151.0L467.1 151.9L467.1 152.8L467.4 153.6L467.5 154.5L467.4 155.4L467.1 156.2L467.1 157.1L467.4 158.0L467.5 158.8L467.3 159.7L467.1 160.6L467.1 161.4L467.5 162.3L467.5 163.1L467.3 164.0L467.1 164.9L467.2 165.7L467.5 166.6L467.5 167.5L467.2 168.3L467.1 169.2L467.2 170.1L467.5 170.9L467.5 171.8L467.2 172.7L467.1 173.5L467.3 174.4L467.5 175.2L467.5 176.1L467.2 177.0L467.1 177.8L467.3 178.7" fill="none" stroke="#0072BD" stroke-width="1.50" stroke-linejoin="round"/>
<path d="M439.0 128.2L438.9 128.2L438.6 128.2L438.1 128.3L437.5 128.3L436.7 128.3L435.8 128.3L434.9 128.2L433.8 128.1L432.8 127.8L431.9 127.4L430.9 126.9L430.1 126.3L429.4 125.6L428.7 125.0L428.2 124.4L427.8 123.9L427.5 123.6L427.3 123.4L427.2 123.3L427.3 123.0L427.4 122.6L427.7 122.2L428.0 121.8L428.5 121.4L429.0 121.0L429.7 120.5L430.5 120.0L431.3 119.5L432.2 119.0L433.3 118.5L434.4 117.9L435.6 117.3L436.9 116.8L438.2 116.2L439.6 115.6L441.1 115.0L442.7 114.4L444.3 113.8L446.0 113.2L447.7 112.6L449.5 112.0L451.3 111.4L453.1 110.8L455.0 110.2L456.9 109.7L458.8 109.1L460.8 108.5L462.7 108.0L464.7 107.5L466.6 107.0L468.6 106.5L470.5 106.0L472.5 105.5L474.4 105.1L476.3 104.7L478.1 104.3L479.9 104.0L481.7 103.6L483.5 103.3L485.1 103.1L486.8 102.8L488.4 102.6L489.9 102.5L491.3 102.3L492.7 102.2L494.0 102.1L495.3 102.1L496.4 102.1L497.5 102.1L498.5 102.1L499.4 102.2L500.2 102.4L501.0 102.5L501.6 102.7L502.2 103.0L502.6 103.2L503.0 103.5L503.2 103.8L503.4 104.2L503.2 104.6L502.9 105.0L502.5 105.5L502.0 105.9L501.5 106.4L500.8 107.0L500.0 107.5L499.2 108.1L498.3 108.7L497.3 109.3L496.2 109.9L495.1 110.6L493.9 111.2L492.6 111.9L491.2 112.6L489.8 113.3L488.4 114.0L486.9 114.6L485.3 115.3L483.7 116.0L482.1 116.7L480.4 117.4L478.7 118.1L477.0 118.8L475.3 119.5L473.5 120.1L471.8 120.7L470.0 121.4L468.2 122.0L466.4 122.6L464.7 123.2L462.9 123.7L461.2 124.2L459.5 124.7L457.8 125.2L456.1 125.7L454.5 126.1L452.9 126.5L451.4 126.9L449.9 127.2L448.4 127.5L447.0 127.8L445.7 128.0L444.4 128.2L443.1 128.4L442.0 128.5L440.9 128.6L439.8 128.7L438.8 128.7L437.9 128.7L437.1 128.7L436.3 128.7L435.7 128.6L435.1 128.4L434.5 128.3L434.1 128.1L433.7 127.8L433.4 127.6L433.2 127.3L433.0 127.0L433.1 127.0L433.4 126.9L433.6 126.8L434.0 126.7L434.4 126.5L434.9 126.3L435.5 126.1L436.1 125.9L436.8 125.6L437.6 125.4L438.4 125.0L439.3 124.7L440.3 124.4L441.2 124.0L442.3 123.6L443.4 123.2L444.5 122.8L445.7 122.4L446.9 121.9L448.2 121.4L449.4 121.0L450.7 120.5L452.1 120.0L453.4 119.4L454.8 118.9L456.2 118.4L457.6 117.9L459.0 117.3L460.4 116.8L461.8 116.3L463.2 115.8L464.6 115.2L465.9 114.7L467.3 114.2L468.6 113.7L469.9 113.2L471.2 112.7L472.5 112.2L473.7 111.8L474.9 111.3L476.1 110.9L477.2 110.5L478.3 110.1L479.3 109.7L480.3 109.4L481.2 109.1L482.1 108.8L482.9 108.5L483.6 108.3L484.4 108.0L485.0 107.9L485.6 107.7L486.1 107.6L486.6 107.5L487.0 107.4L487.3 107.3L487.6 107.3L487.8 107.4L487.9 107.4L488.0 107.5L488.0 108.0L488.0 108.5L487.9 109.1L487.8 109.7L487.5 110.3L487.3 111.0L486.9 111.6L486.5 112.3L486.0 113.0L485.5 113.7L484.9 114.4L484.2 115.1L483.5 115.9L482.7 116.6L481.9 117.3L481.0 118.1L480.1 118.8L479.1 119.5L478.1 120.3L477.1 121.0L476.0 121.7L474.9 122.4L473.7 123.1L472.6 123.7L471.4 124.4L470.2 125.0L468.9 125.6L467.7 126.2L466.5 126.8L465.2 127.3L464.0 127.8L462.7 128.3L461.5 128.7L460.2 129.2L459.0 129.6L457.8 129.9L456.6 130.3L455.5 130.6L454.3 130.8L453.2 131.1L452.2 131.3L451.1 131.5L450.1 131.7L449.2 131.8L448.3 131.9L447.4 131.9L446.6 132.0L445.8 132.0L445.1 132.0L444.5 132.0L443.9 131.9L443.3 131.8L442.8 131.7L442.4 131.6L442.1 131.4L441.8 131.3L441.5 131.1L441.4 130.9L441.2 130.7L441.2 130.5L441.3 130.5L441.4 130.4L441.6 130.3L441.9 130.3L442.2 130.2L442.6 130.1L443.0 130.0L443.5 129.9L444.0 129.8L444.6 129.6L445.2 129.5L445.9 129.4L446.6 129.2L447.4 129.0L448.2 128.9L449.0 128.7L449.9 128.5L450.8 128.3L451.8 128.1L452.7 127.9L453.7 127.7L454.8 127.5L455.8 127.3L456.9 127.0L458.0 126.8L459.1 126.6L460.2 126.4L461.3 126.1L462.4 125.9L463.5 125.7L464.6 125.5L465.7 125.2L466.8 125.0L467.9 124.8L469.0 124.6L470.0 124.4L471.1 124.2L472.1 124.0L473.1 123.8L474.1 123.7L475.0 123.5L475.9 123.4L476.8 123.2L477.6 123.1L478.4 123.0L479.2 122.9L479.9 122.9L480.6 122.8L481.2 122.7L481.8 122.7L482.4 122.7L482.9 122.7L483.3 122.8L483.7 122.8L484.0 122.9L484.3 123.0L484.6 123.1L484.8 123.2L484.9 123.3L485.0 123.5L485.0 123.8L484.9 124.2L484.8 124.6L484.7 125.0L484.4 125.4L484.2 125.9L483.8 126.3L483.5 126.8L483.0 127.2L482.6 127.7L482.0 128.2L481.5 128.7L480.9 129.2L480.2 129.7L479.5 130.2L478.8 130.7L478.0 131.2L477.2 131.6L476.4 132.1L475.5 132.6L474.6 133.1L473.7 133.6L472.8 134.0L471.8 134.5L470.9 134.9L469.9 135.3L468.9 135.7L467.9 136.1L466.9 136.5L465.9 136.8L464.8 137.2L463.8 137.5L462.8 137.8L461.8 138.1L460.9 138.4L459.9 138.6L458.9 138.8L458.0 139.0L457.1 139.2L456.2 139.4L455.3 139.5L454.5 139.6L453.7 139.7L453.0 139.8L452.2 139.9L451.5 139.9L450.9 139.9L450.3 139.9L449.7 139.9L449.2 139.9L448.7 139.8L448.2 139.7L447.9 139.7L447.5 139.6L447.2 139.4L447.0 139.3L446.8 139.2L446.6 139.0L446.5 138.9L446.5 138.7L446.6 138.6L446.7 138.5L446.9 138.5L447.2 138.4L447.4 138.3L447.8 138.2L448.1 138.0L448.5 137.9L449.0 137.8L449.5 137.6L450.0 137.5L450.6 137.3L451.2 137.2L451.8 137.0L452.5 136.9L453.2 136.7L453.9 136.5L454.6 136.3L455.4 136.1L456.2 136.0L457.0 135.8L457.8 135.6L458.7 135.4L459.5 135.2L460.4 135.0L461.3 134.8L462.2 134.6L463.1 134.4L463.9 134.3L464.8 134.1L465.7 133.9L466.6 133.7L467.5 133.6L468.3 133.4L469.2 133.3L470.0 133.1L470.8 133.0L471.6 132.8L472.4 132.7L473.1 132.6L473.9 132.5L474.6 132.4L475.3 132.3L475.9 132.2L476.6 132.2L477.2 132.1L477.7 132.1L478.2 132.1L478.7 132.1L479.2 132.1L479.6 132.1L480.0 132.2L480.3 132.2L480.7 132.3L480.9 132.4L481.2 132.5L481.4 132.6L481.5 132.7L481.6 132.8L481.7 133.0L481.7 133.3L481.7 133.6L481.6 133.9L481.5 134.2L481.4 134.6L481.2 134.9L481.0 135.3L480.7 135.6L480.4 136.0L480.1 136.4L479.7 136.7L479.3 137.1L478.8 137.5L478.4 137.9L477.9 138.3L477.3 138.7L476.7 139.0L476.1 139.4L475.5 139.8L474.9 140.1L474.2 140.5L473.5 140.9L472.8 141.2L472.1 141.5L471.4 141.9L470.6 142.2L469.9 142.5L469.1 142.8L468.3 143.0L467.6 143.3L466.8 143.5L466.0 143.8L465.3 144.0L464.5 144.2L463.8 144.4L463.0 144.5L462.3 144.7L461.6 144.8L460.9 144.9L460.2 145.0L459.5 145.1L458.9 145.2L458.3 145.2L457.7 145.2L457.1 145.3L456.6 145.3L456.1 145.3L455.6 145.2L455.2 145.2L454.8 145.1L454.4 145.1L454.0 145.0L453.7 144.9L453.5 144.8L453.3 144.7L453.1 144.6L452.9 144.4L452.8 144.3L452.7 144.1L452.7 144.0L452.8 143.9L452.9 143.9L453.1 143.8L453.3 143.7L453.5 143.6L453.8 143.5L454.1 143.4L454.4 143.3L454.8 143.2L455.2 143.1L455.6 143.0L456.0 142.9L456.5 142.8L457.0 142.6L457.5 142.5L458.1 142.4L458.7 142.3L459.2 142.1L459.9 142.0L460.5 141.9L461.1 141.7L461.8 141.6L462.4 141.5L463.1 141.4L463.8 141.2L464.5 141.1L465.2 141.0L465.8 140.8L466.5 140.7L467.2 140.6L467.9 140.5L468.6 140.4L469.3 140.3L469.9 140.2L470.6 140.1L471.2 140.0L471.9 139.9L472.5 139.8L473.1 139.8L473.7 139.7L474.3 139.6L474.8 139.6L475.3 139.6L475.8 139.5L476.3 139.5L476.8 139.5L477.2 139.5L477.6 139.5L478.0 139.5L478.4 139.6L478.7 139.6L479.0 139.7L479.2 139.7L479.5 139.8L479.7 139.9L479.9 140.0L480.0 140.1L480.1 140.2L480.2 140.4L480.3 140.5L480.3 140.7L480.3 140.9L480.2 141.2L480.2 141.4L480.0 141.7L479.9 141.9L479.7 142.2L479.5 142.4L479.3 142.7L479.0 143.0L478.8 143.3L478.4 143.5L478.1 143.8L477.7 144.1L477.3 144.4L476.9 144.7L476.5 144.9L476.1 145.2L475.6 145.5L475.1 145.8L474.6 146.0L474.1 146.3L473.5 146.5L473.0 146.8L472.4 147.0L471.9 147.2L471.3 147.5L470.7 147.7L470.1 147.9L469.6 148.0L469.0 148.2L468.4 148.4L467.8 148.5L467.2 148.7L466.7 148.8L466.1 148.9L465.6 149.0L465.0 149.1L464.5 149.2L464.0 149.3L463.5 149.3L463.0 149.4L462.5 149.4L462.1 149.4L461.6 149.4L461.2 149.4L460.8 149.4L460.5 149.4L460.1 149.3L459.8 149.3L459.5 149.2L459.3 149.2L459.0 149.1L458.8 149.0L458.7 148.9L458.5 148.8L458.4 148.7L458.3 148.6L458.2 148.4L458.2 148.3L458.3 148.2L458.4 148.1L458.5 148.0L458.7 147.9L458.9 147.8L459.1 147.7L459.3 147.5L459.6 147.4L459.9 147.3L460.2 147.2L460.5 147.0L460.9 146.9L461.2 146.8L461.6 146.6L462.0 146.5L462.5 146.4L462.9 146.2L463.3 146.1L463.8 146.0L464.3 145.8L464.8 145.7L465.2 145.6L465.7 145.4L466.3 145.3L466.8 145.2L467.3 145.1L467.8 145.0L468.3 144.8L468.8 144.7L469.3 144.6L469.9 144.5L470.4 144.5L470.9 144.4L471.4 144.3L471.8 144.2L472.3 144.2L472.8 144.1L473.3 144.1L473.7 144.0L474.1 144.0L474.5 143.9L474.9 143.9L475.3 143.9L475.7 143.9L476.1 143.9L476.4 143.9L476.7 144.0L477.0 144.0L477.3 144.0L477.6 144.1L477.8 144.1L478.0 144.2L478.2 144.3L478.4 144.3L478.5 144.4L478.7 144.5L478.8 144.6L478.9 144.8L478.9 144.9L479.0 145.0L479.0 145.2L479.0 145.3L478.9 145.5L478.9 145.7L478.8 145.9L478.7 146.1L478.6 146.2L478.4 146.4L478.2 146.6L478.1 146.8L477.8 147.0L477.6 147.2L477.4 147.4L477.1 147.6L476.8 147.8L476.6 148.0L476.3 148.2L475.9 148.4L475.6 148.6L475.3 148.8L474.9 149.0L474.5 149.2L474.2 149.3L473.8 149.5L473.4 149.7L473.0 149.8L472.6 150.0L472.2 150.1L471.8 150.2L471.4 150.3L471.0 150.5L470.6 150.6L470.2 150.7L469.8 150.7L469.4 150.8L469.0 150.9L468.6 150.9L468.2 151.0L467.9 151.0L467.5 151.1L467.2 151.1L466.8 151.1L466.5 151.1L466.2 151.1L465.9 151.1L465.6 151.1L465.3 151.0L465.1 151.0L464.9 150.9L464.6 150.9L464.4 150.8L464.3 150.8L464.1 150.7L464.0 150.6L463.8 150.5L463.7 150.4L463.6 150.3L463.6 150.2L463.5 150.1L463.5 150.0L463.5 149.9L463.6 149.8L463.7 149.8L463.8 149.7L463.9 149.6L464.0 149.5L464.2 149.4L464.4 149.3L464.5 149.2L464.7 149.1L465.0 149.0L465.2 149.0L465.4 148.9L465.7 148.8L466.0 148.7L466.2 148.6L466.5 148.5L466.8 148.4L467.1 148.3L467.4 148.2L467.8 148.1L468.1 148.0L468.4 147.9L468.8 147.8L469.1 147.8L469.5 147.7L469.8 147.6L470.2 147.5L470.5 147.5L470.9 147.4L471.2 147.3L471.6 147.3L471.9 147.2L472.2 147.2L472.6 147.1L472.9 147.1L473.2 147.1L473.5 147.0L473.8 147.0L474.1 147.0L474.4 147.0L474.7 147.0L475.0 147.0L475.2 147.0L475.5 147.0L475.7 147.0L475.9 147.0L476.1 147.0L476.3 147.1L476.5 147.1L476.7 147.2L476.8 147.2L477.0 147.3L477.1 147.3L477.2 147.4L477.3 147.5L477.4 147.5L477.4 147.6L477.5 147.7L477.5 147.8L477.5 147.9L477.5 148.0L477.4 148.1L477.4 148.3L477.3 148.4L477.3 148.5L477.2 148.6L477.1 148.8L476.9 148.9L476.8 149.0L476.7 149.1L476.5 149.3L476.3 149.4L476.1 149.5L475.9 149.7L475.7 149.8L475.5 149.9L475.3 150.1L475.1 150.2L474.8 150.3L474.6 150.4L474.3 150.5L474.0 150.6L473.8 150.7L473.5 150.8L473.2 150.9L472.9 151.0L472.6 151.1L472.4 151.2L472.1 151.3L471.8 151.4L471.5 151.4L471.2 151.5L470.9 151.5L470.7 151.6L470.4 151.6L470.1 151.7L469.8 151.7L469.6 151.7L469.3 151.7L469.1 151.8L468.8 151.8L468.6 151.8L468.4 151.8L468.2 151.8L468.0 151.7L467.8 151.7L467.6 151.7L467.5 151.6L467.3 151.6L467.2 151.6L467.0 151.5L466.9 151.5L466.8 151.4L466.7 151.3L466.7 151.3L466.6 151.2L466.5 151.1L466.5 151.1L466.5 151.0L466.5 150.9L466.6 150.9L466.7 150.8L466.7 150.8L466.8 150.7L466.9 150.7L467.0 150.6L467.2 150.5L467.3 150.5L467.5 150.4L467.6 150.3L467.8 150.3L468.0 150.2L468.2 150.1L468.3 150.1L468.6 150.0L468.8 149.9L469.0 149.9L469.2 149.8L469.4 149.7L469.7 149.7L469.9 149.6L470.1 149.6L470.4 149.5L470.6 149.4L470.9 149.4L471.1 149.3L471.4 149.3L471.6 149.2L471.9 149.2L472.1 149.2L472.4 149.1L472.6 149.1L472.9 149.1L473.1 149.0L473.3 149.0L473.5 149.0L473.8 149.0L474.0 148.9L474.2 148.9L474.4 148.9L474.6 148.9L474.8 148.9L474.9 148.9L475.1 148.9L475.3 148.9L475.4 149.0L475.6 149.0L475.7 149.0L475.8 149.0L475.9 149.1L476.0 149.1L476.1 149.1L476.2 149.2L476.3 149.2L476.4 149.3L476.4 149.3L476.4 149.4L476.5 149.4L476.5 149.5L476.5 149.6L476.5 149.6L476.4 149.7L476.4 149.8L476.3 149.9L476.2 150.0L476.2 150.0L476.1 150.1L476.0 150.2L475.9 150.3L475.8 150.4L475.7 150.5L475.5 150.5L475.4 150.6L475.3 150.7L475.1 150.8L474.9 150.9L474.8 150.9L474.6 151.0L474.5 151.1L474.3 151.2L474.1 151.2L473.9 151.3L473.7 151.4L473.5 151.5L473.4 151.5L473.2 151.6L473.0 151.6L472.8 151.7L472.6 151.7L472.4 151.8L472.2 151.8L472.0 151.9L471.8 151.9L471.6 151.9L471.5 151.9L471.3 152.0L471.1 152.0L471.0 152.0L470.8 152.0L470.6 152.0L470.5 152.0L470.3 152.0L470.2 152.0L470.1 152.0L469.9 152.0L469.8 152.0L469.7 152.0L469.6 151.9L469.5 151.9L469.4 151.9L469.3 151.8L469.3 151.8L469.2 151.8L469.1 151.7L469.1 151.7L469.1 151.6L469.0 151.6L469.0 151.5L469.0 151.5L469.0 151.5L469.1 151.4L469.2 151.4L469.2 151.4L469.3 151.3L469.4 151.3L469.5 151.3L469.6 151.2L469.7 151.2L469.8 151.2L469.9 151.1L470.0 151.1L470.2 151.0L470.3 151.0L470.4 151.0L470.6 150.9L470.7 150.9L470.9 150.8L471.0 150.8L471.1 150.8L471.3 150.7L471.4 150.7L471.6 150.7L471.7 150.6L471.9 150.6L472.0 150.5L472.2 150.5L472.3 150.5L472.5 150.4L472.6 150.4L472.7 150.4L472.9 150.4L473.0 150.3L473.1 150.3L473.3 150.3L473.4 150.3L473.5 150.3L473.6 150.2L473.8 150.2L473.9 150.2L474.0 150.2L474.1 150.2L474.2 150.2L474.2 150.2L474.3 150.2L474.4 150.2L474.5 150.2L474.6 150.2L474.6 150.2L474.7 150.3L474.7 150.3L474.8 150.3L474.8 150.3L474.9 150.3L474.9 150.4L474.9 150.4L474.9 150.4L475.0 150.4L475.0 150.5L475.0 150.5L475.0 150.5L475.0 150.5L475.0 150.6L475.0 150.6L475.0 150.6L475.0 150.6L474.9 150.6L474.9 150.7L474.9 150.7L474.8 150.7L474.8 150.7L474.8 150.8L474.7 150.8L474.7 150.8L474.6 150.9L474.6 150.9L474.5 150.9L474.4 150.9L474.4 151.0L474.3 151.0L474.2 151.0L474.2 151.1L474.1 151.1L474.0 151.1L473.9 151.2L473.9 151.2L473.8 151.2L473.7 151.2L473.6 151.3L473.6 151.3L473.5 151.3L473.4 151.3L473.3 151.4L473.2 151.4L473.2 151.4L473.1 151.4L473.0 151.5L472.9 151.5L472.9 151.5L472.8 151.5L472.7 151.5L472.6 151.5L472.6 151.5L472.5 151.6L472.5 151.6L472.4 151.6L472.4 151.6L472.3 151.6L472.3 151.6L472.2 151.6L472.2 151.6L472.1 151.6L472.1 151.6L472.1 151.6L472.1 151.5L472.0 151.5L472.0 151.5L472.0 151.5L472.0 151.5L472.0 151.0L472.6 151.4L472.7 151.8L472.3 152.1L471.8 152.5L471.4 152.9L471.5 153.3L472.0 153.6L472.6 154.0L472.8 154.4L472.4 154.8L471.8 155.2L471.4 155.5L471.5 155.9L472.0 156.3L472.6 156.7L472.8 157.0L472.5 157.4L471.9 157.8L471.5 158.2L471.5 158.6L472.0 158.9L472.6 159.3L472.9 159.7L472.6 160.1L472.0 160.4L471.6 160.8L471.6 161.2L472.1 161.6L472.6 162.0L472.9 162.3L472.7 162.7L472.1 163.1L471.7 163.5L471.6 163.8L472.1 164.2L472.7 164.6L473.0 165.0L472.8 165.4L472.2 165.7L471.7 166.1L471.7 166.5L472.1 166.9L472.7 167.2L473.0 167.6L472.9 168.0L472.3 168.4L471.8 168.8L471.7 169.1L472.1 169.5L472.7 169.9L473.1 170.3L473.0 170.6L472.5 171.0L471.9 171.4L471.8 171.8L472.1 172.2L472.7 172.5L473.1 172.9L473.1 173.3L472.6 173.7L472.0 174.0L471.8 174.4L472.1 174.8L472.7 175.2L473.2 175.6L473.1 175.9L472.7 176.3L472.1 176.7L471.9 177.1L472.2 177.4L472.7 177.8L473.2 178.2L473.2 178.6L472.8 179.0L472.2 179.3L471.9 179.7L472.2 180.1L472.8 180.5L473.3 180.8L473.3 181.2L472.9 181.6L472.3 182.0L472.0 182.4L472.2 182.7L472.8 183.1L473.3 183.5L473.4 183.9L473.0 184.2L472.4 184.6L472.0 185.0L472.2 185.4L472.8 185.8L473.3 186.1L473.4 186.5L473.0 186.9L472.5 187.3L472.1 187.6L472.2 188.0L472.8 188.4" fill="none" stroke="#EDB120" stroke-width="1.50" stroke-linejoin="round"/>
<path d="M439.0 128.2L438.9 128.2L438.6 128.2L438.1 128.3L437.5 128.3L436.7 128.3L435.8 128.3L434.9 128.2L433.8 128.1L432.8 127.8L431.9 127.4L430.9 126.9L430.1 126.3L429.4 125.6L428.7 125.0L428.2 124.4L427.8 123.9L427.5 123.6L427.3 123.4L427.2 123.3L427.3 123.0L427.4 122.6L427.7 122.2L428.0 121.8L428.5 121.4L429.0 121.0L429.7 120.5L430.5 120.0L431.3 119.5L432.2 119.0L433.3 118.5L434.4 117.9L435.6 117.3L436.9 116.8L438.2 116.2L439.6 115.6L441.1 115.0L442.7 114.4L444.3 113.8L446.0 113.2L447.7 112.6L449.5 112.0L451.3 111.4L453.1 110.8L455.0 110.2L456.9 109.7L458.8 109.1L460.8 108.5L462.7 108.0L464.7 107.5L466.6 107.0L468.6 106.5L470.5 106.0L472.5 105.5L474.4 105.1L476.3 104.7L478.1 104.3L479.9 104.0L481.7 103.6L483.5 103.3L485.1 103.1L486.8 102.8L488.4 102.6L489.9 102.5L491.3 102.3L492.7 102.2L494.0 102.1L495.3 102.1L496.4 102.1L497.5 102.1L498.5 102.1L499.4 102.2L500.2 102.4L501.0 102.5L501.6 102.7L502.2 103.0L502.6 103.2L503.0 103.5L503.2 103.8L503.4 104.2L503.2 104.6L502.9 105.0L502.5 105.5L502.0 105.9L501.5 106.4L500.8 107.0L500.0 107.5L499.2 108.1L498.3 108.7L497.3 109.3L496.2 109.9L495.1 110.6L493.9 111.2L492.6 111.9L491.2 112.6L489.8 113.3L488.4 114.0L486.9 114.6L485.3 115.3L483.7 116.0L482.1 116.7L480.4 117.4L478.7 118.1L477.0 118.8L475.3 119.5L473.5 120.1L471.8 120.7L470.0 121.4L468.2 122.0L466.4 122.6L464.7 123.2L462.9 123.7L461.2 124.2L459.5 124.7L457.8 125.2L456.1 125.7L454.5 126.1L452.9 126.5L451.4 126.9L449.9 127.2L448.4 127.5L447.0 127.8L445.7 128.0L444.4 128.2L443.1 128.4L442.0 128.5L440.9 128.6L439.8 128.7L438.8 128.7L437.9 128.7L437.1 128.7L436.3 128.7L435.7 128.6L435.1 128.4L434.5 128.3L434.1 128.1L433.7 127.8L433.4 127.6L433.2 127.3L433.0 127.0L433.2 127.0L433.4 126.9L433.7 126.8L434.1 126.7L434.6 126.5L435.1 126.3L435.7 126.1L436.4 125.9L437.1 125.6L437.9 125.4L438.7 125.1L439.6 124.7L440.6 124.4L441.6 124.0L442.7 123.6L443.8 123.2L444.9 122.8L446.1 122.4L447.3 121.9L448.6 121.5L449.9 121.0L451.2 120.5L452.5 120.0L453.9 119.5L455.3 118.9L456.6 118.4L458.0 117.9L459.4 117.4L460.8 116.8L462.2 116.3L463.6 115.8L465.0 115.2L466.3 114.7L467.7 114.2L469.0 113.7L470.3 113.2L471.6 112.7L472.8 112.2L474.0 111.8L475.2 111.3L476.3 110.9L477.4 110.5L478.5 110.1L479.5 109.7L480.4 109.4L481.3 109.1L482.2 108.8L483.0 108.5L483.8 108.3L484.4 108.0L485.1 107.8L485.6 107.7L486.2 107.6L486.6 107.5L487.0 107.4L487.3 107.3L487.6 107.3L487.8 107.4L487.9 107.4L488.0 107.5L488.1 108.0L488.1 108.5L488.0 109.1L487.9 109.7L487.7 110.3L487.5 110.9L487.2 111.6L486.8 112.3L486.4 112.9L485.9 113.6L485.3 114.4L484.7 115.1L484.1 115.8L483.3 116.6L482.6 117.3L481.7 118.0L480.9 118.8L480.0 119.5L479.0 120.2L478.0 120.9L477.0 121.7L475.9 122.4L474.8 123.0L473.7 123.7L472.6 124.3L471.4 125.0L470.2 125.6L469.0 126.2L467.8 126.7L466.6 127.3L465.4 127.8L464.2 128.3L463.0 128.7L461.8 129.2" fill="none" stroke="#7E2F8E" stroke-width="1.50" stroke-linejoin="round" stroke-dasharray="4.6 1.1 2.4 1.1"/>
<path d="M437.0 127.6L436.9 127.6L436.6 127.7L436.1 127.7L435.5 127.8L434.6 127.9L433.7 127.9L432.7 127.9L431.6 127.8L430.6 127.5L429.6 127.2L428.6 126.6L427.8 126.0L427.0 125.4L426.3 124.7L425.7 124.2L425.3 123.7L425.0 123.3L424.8 123.1L424.7 123.0L424.7 122.5L424.8 122.0L425.0 121.5L425.3 121.0L425.8 120.4L426.3 119.9L426.9 119.3L427.6 118.7L428.4 118.2L429.3 117.6L430.3 117.0L431.4 116.5L432.5 115.9L433.8 115.4L435.1 114.8L436.5 114.3L438.0 113.8L439.5 113.3L441.1 112.8L442.8 112.4L444.5 112.0L446.3 111.5L448.1 111.1L449.9 110.7L451.8 110.4L453.7 110.0L455.7 109.7L457.6 109.4L459.6 109.1L461.6 108.8L463.5 108.5L465.5 108.2L467.5 108.0L469.4 107.7L471.3 107.5L473.2 107.3L475.1 107.1L476.9 106.8L478.6 106.6L480.4 106.4L482.0 106.2L483.7 106.1L485.2 105.9L486.7 105.7L488.1 105.6L489.4 105.4L490.7 105.2L491.9 105.1L493.0 105.0L494.0 104.9L494.9 104.7L495.7 104.7L496.5 104.6L497.1 104.5L497.7 104.5L498.1 104.4L498.5 104.4L498.8 104.5L498.9 104.5L499.0 104.6L498.9 104.9L498.7 105.2L498.4 105.5L498.0 105.9L497.5 106.3L496.9 106.8L496.2 107.2L495.5 107.7L494.7 108.3L493.8 108.8L492.8 109.4L491.7 110.0L490.6 110.7L489.4 111.3L488.2 112.0L486.9 112.7L485.5 113.4L484.1 114.2L482.7 114.9L481.2 115.7L479.6 116.5L478.1 117.3L476.4 118.1L474.8 118.8L473.2 119.6L471.5 120.4L469.8 121.2L468.1 121.9L466.4 122.7L464.7 123.4L463.0 124.1L461.3 124.8L459.6 125.4L457.9 126.0L456.2 126.6L454.6 127.1L453.0 127.7L451.4 128.1L449.8 128.5L448.3 128.9L446.8 129.2L445.4 129.5L444.0 129.7L442.6 129.9L441.3 130.0L440.1 130.1L438.9 130.1L437.8 130.0L436.8 129.9L435.8 129.8L434.9 129.6L434.0 129.4L433.2 129.1L432.5 128.8L431.9 128.4L431.4 128.0L430.9 127.5L430.5 127.1L430.2 126.5L430.0 126.0L430.1 125.7L430.4 125.3L430.7 124.9L431.0 124.5L431.5 124.1L432.0 123.6L432.6 123.1L433.3 122.6L434.1 122.1L434.9 121.6L435.8 121.1L436.7 120.6L437.8 120.0L438.8 119.5L440.0 118.9L441.2 118.4L442.4 117.8L443.7 117.2L445.0 116.7L446.4 116.1L447.8 115.6L449.2 115.0L450.6 114.5L452.1 114.0L453.6 113.5L455.1 112.9L456.7 112.4L458.2 112.0L459.7 111.5L461.3 111.0L462.8 110.6L464.3 110.1L465.8 109.7L467.3 109.3L468.8 109.0L470.2 108.6L471.6 108.3L473.0 107.9L474.3 107.6L475.6 107.3L476.9 107.1L478.1 106.8L479.3 106.6L480.4 106.4L481.5 106.2L482.5 106.1L483.4 106.0L484.3 105.9L485.2 105.8L485.9 105.7L486.6 105.7L487.3 105.7L487.9 105.7L488.4 105.7L488.8 105.8L489.2 105.9L489.5 106.0L489.7 106.1L489.9 106.3L490.0 106.5L489.9 106.9L489.8 107.3L489.6 107.8L489.4 108.2L489.0 108.7L488.7 109.2L488.2 109.7L487.7 110.3L487.1 110.8L486.5 111.4L485.8 112.0L485.1 112.6L484.3 113.2L483.5 113.8L482.6 114.4L481.6 115.0L480.7 115.7L479.7 116.3L478.6 116.9L477.6 117.5L476.5 118.1L475.3 118.7L474.2 119.3L473.0 119.9L471.8 120.5L470.6 121.1L469.4 121.6L468.1 122.1L466.9 122.7L465.7 123.1L464.4 123.6L463.2 124.0L462.0 124.5L460.8 124.8L459.6 125.2L458.4 125.5L457.2 125.8L456.1 126.1L455.0 126.3L453.9 126.5L452.8 126.7L451.8 126.8L450.8 126.9L449.9 127.0L449.0 127.0L448.1 127.0L447.3 127.0L446.5 126.9L445.8 126.8L445.1 126.7L444.5 126.5L444.0 126.3L443.5 126.1L443.0 125.9L442.6 125.6L442.3 125.3L442.0 125.0L441.8 124.7L441.6 124.4L441.5 124.0L441.6 123.9L441.8 123.8L442.0 123.7L442.2 123.6L442.6 123.5L442.9 123.4L443.4 123.2L443.8 123.0L444.3 122.9L444.9 122.7L445.5 122.5L446.2 122.3L446.9 122.1L447.6 121.9L448.4 121.6L449.2 121.4L450.1 121.2L451.0 120.9L451.9 120.7L452.8 120.4L453.8 120.2L454.7 119.9L455.7 119.6L456.8 119.4L457.8 119.1L458.8 118.8L459.9 118.5L460.9 118.3L462.0 118.0L463.0 117.8L464.1 117.5L465.1 117.2L466.1 117.0L467.2 116.7L468.2 116.5L469.2 116.3L470.1 116.1L471.1 115.9L472.0 115.7L472.9 115.5L473.8 115.3L474.6 115.1L475.4 115.0L476.2 114.9L477.0 114.7L477.7 114.6L478.3 114.6L479.0 114.5L479.5 114.4L480.1 114.4L480.6 114.4L481.0 114.4L481.5 114.4L481.8 114.4L482.1 114.5L482.4 114.5L482.6 114.6L482.8 114.7L482.9 114.9L483.0 115.0L482.9 115.3L482.8 115.6L482.6 115.9L482.3 116.2L482.1 116.6L481.7 116.9L481.4 117.3L480.9 117.7L480.5 118.0L480.0 118.4L479.4 118.8L478.9 119.2L478.2 119.6L477.6 120.1L476.9 120.5L476.2 120.9L475.5 121.3L474.7 121.7L473.9 122.1L473.1 122.5L472.2 122.9L471.4 123.3L470.5 123.7L469.6 124.0L468.8 124.4L467.9 124.8L467.0 125.1L466.1 125.4L465.2 125.8L464.3 126.1L463.4 126.4L462.5 126.6L461.6 126.9L460.7 127.1L459.9 127.4L459.0 127.6L458.2 127.8L457.4 128.0L456.6 128.1L455.9 128.3L455.2 128.4L454.5 128.6L453.8 128.7L453.2 128.8L452.6 128.8L452.0 128.9L451.4 128.9L450.9 129.0L450.5 129.0L450.1 129.0L449.7 129.0L449.3 129.0L449.0 128.9L448.7 128.9L448.5 128.9L448.3 128.8L448.2 128.7L448.1 128.7L448.0 128.6L448.0 128.5L448.1 128.5L448.3 128.4L448.5 128.4L448.7 128.3L448.9 128.3L449.2 128.2L449.6 128.2L449.9 128.1L450.3 128.0L450.7 127.9L451.2 127.9L451.7 127.8L452.2 127.7L452.7 127.6L453.3 127.5L453.8 127.3L454.4 127.2L455.0 127.1L455.7 127.0L456.3 126.9L457.0 126.7L457.6 126.6L458.3 126.5L459.0 126.3L459.7 126.2L460.4 126.0L461.1 125.9L461.8 125.8L462.5 125.6L463.2 125.5L463.9 125.4L464.6 125.2L465.2 125.1L465.9 125.0L466.6 124.9L467.2 124.8L467.8 124.6L468.4 124.5L469.0 124.4L469.6 124.3L470.2 124.3L470.7 124.2L471.2 124.1L471.7 124.1L472.2 124.0L472.6 124.0L473.1 123.9L473.5 123.9L473.8 123.9L474.2 123.9L474.5 123.9L474.8 123.9L475.0 124.0L475.2 124.0L475.4 124.1L475.6 124.1L475.8 124.2L475.9 124.3L475.9 124.4L476.0 124.5L476.0 124.7L475.9 124.9L475.8 125.1L475.7 125.4L475.6 125.6L475.4 125.8L475.2 126.1L475.0 126.4L474.7 126.6L474.5 126.9L474.2 127.2L473.8 127.4L473.5 127.7L473.1 128.0L472.7 128.3L472.3 128.5L471.9 128.8L471.4 129.1L470.9 129.4L470.5 129.6L470.0 129.9L469.5 130.1L468.9 130.4L468.4 130.6L467.9 130.9L467.3 131.1L466.8 131.3L466.2 131.5L465.7 131.7L465.1 131.9L464.6 132.1L464.0 132.3L463.5 132.4L463.0 132.6L462.4 132.7L461.9 132.9L461.4 133.0L460.9 133.1L460.4 133.2L460.0 133.3L459.5 133.3L459.1 133.4L458.7 133.4L458.3 133.5L457.9 133.5L457.5 133.5L457.2 133.5L456.9 133.5L456.6 133.5L456.3 133.5L456.1 133.5L455.8 133.5L455.6 133.4L455.5 133.4L455.3 133.3L455.2 133.3L455.1 133.2L455.1 133.1L455.0 133.1L455.0 133.0L455.1 133.0L455.1 133.0L455.3 133.0L455.4 133.0L455.5 133.0L455.7 132.9L455.9 132.9L456.1 132.9L456.4 132.9L456.6 132.8L456.9 132.8L457.2 132.7L457.5 132.7L457.8 132.7L458.2 132.6L458.5 132.5L458.9 132.5L459.3 132.4L459.7 132.4L460.1 132.3L460.5 132.2L460.9 132.2L461.4 132.1L461.8 132.0L462.3 131.9L462.7 131.8L463.1 131.8L463.6 131.7L464.0 131.6L464.5 131.5L464.9 131.4L465.4 131.4L465.8 131.3L466.2 131.2L466.7 131.1L467.1 131.1L467.5 131.0L467.9 130.9L468.3 130.9L468.7 130.8L469.0 130.7L469.4 130.7L469.7 130.7L470.1 130.6L470.4 130.6L470.7 130.6L471.0 130.5L471.2 130.5L471.5 130.5L471.7 130.5L471.9 130.5L472.1 130.5L472.3 130.6L472.4 130.6L472.6 130.6L472.7 130.7L472.8 130.8L472.9 130.8L473.0 130.9L473.0 131.0L473.0 131.2L473.0 131.3L472.9 131.5L472.9 131.7L472.8 131.9L472.7 132.1L472.6 132.3L472.4 132.5L472.3 132.8L472.1 133.0L471.9 133.2L471.7 133.4L471.4 133.7L471.2 133.9L470.9 134.1L470.7 134.3L470.4 134.6L470.1 134.8L469.8 135.0L469.4 135.2L469.1 135.4L468.8 135.7L468.4 135.9L468.1 136.1L467.7 136.3L467.4 136.4L467.0 136.6L466.6 136.8L466.2 137.0L465.9 137.1L465.5 137.3L465.1 137.4L464.8 137.5L464.4 137.7L464.1 137.8L463.7 137.9L463.4 138.0L463.0 138.1L462.7 138.1L462.4 138.2L462.1 138.3L461.8 138.3L461.5 138.4L461.2 138.4L461.0 138.4L460.7 138.4L460.5 138.4L460.3 138.4L460.1 138.4L459.9 138.4L459.7 138.4L459.6 138.4L459.4 138.3L459.3 138.3L459.2 138.3L459.1 138.2L459.1 138.2L459.0 138.1L459.0 138.1L459.0 138.0L459.1 138.0L459.1 138.0L459.2 138.0L459.3 138.0L459.4 138.0L459.6 138.0L459.7 138.0L459.9 138.0L460.0 137.9L460.2 137.9L460.4 137.9L460.6 137.9L460.9 137.8L461.1 137.8L461.3 137.8L461.6 137.7L461.8 137.7L462.1 137.6L462.3 137.6L462.6 137.5L462.9 137.5L463.2 137.4L463.5 137.4L463.8 137.3L464.0 137.3L464.3 137.2L464.6 137.1L464.9 137.1L465.2 137.0L465.5 136.9L465.8 136.9L466.1 136.8L466.4 136.8L466.6 136.7L466.9 136.6L467.2 136.6L467.4 136.5L467.7 136.5L467.9 136.4L468.2 136.4L468.4 136.3L468.6 136.3L468.9 136.2L469.1 136.2L469.3 136.2L469.5 136.2L469.6 136.1L469.8 136.1L470.0 136.1L470.1 136.1L470.2 136.1L470.4 136.1L470.5 136.2L470.6 136.2L470.7 136.2L470.8 136.3L470.8 136.3L470.9 136.4L471.0 136.4L471.0 136.5L471.0 136.6L471.0 136.8L471.0 136.9L471.0 137.1L470.9 137.2L470.9 137.4L470.8 137.5L470.7 137.7L470.7 137.9L470.6 138.1L470.5 138.2L470.3 138.4L470.2 138.6L470.1 138.8L469.9 139.0L469.8 139.1L469.6 139.3L469.4 139.5" fill="none" stroke="#0072BD" stroke-width="1.50" stroke-linejoin="round"/>
<path d="M470.7 98.7L470.7 98.7L470.5 98.7L470.3 98.8L470.0 98.9L469.6 99.0L469.1 99.1L468.5 99.3L467.9 99.4L467.2 99.6L466.4 99.8L465.6 100.0L464.7 100.3L463.8 100.6L462.8 100.9L461.8 101.2L460.7 101.5L459.7 101.9L458.6 102.2L457.5 102.6L456.5 103.0L455.4 103.4L454.3 103.9L453.3 104.3L452.3 104.7L451.4 105.2L450.4 105.6L449.5 106.0L448.7 106.4L447.9 106.8L447.2 107.2L446.6 107.5L446.0 107.8L445.5 108.1L445.0 108.3L444.7 108.5L444.4 108.6L444.2 108.7L444.0 108.8L444.0 108.8" fill="none" stroke="#D95319" stroke-width="1.50" stroke-linejoin="round" stroke-linecap="round"/>
<text class="cap" x="48.30" y="284.8" textLength="14.60" lengthAdjust="spacingAndGlyphs"><tspan font-size="17.5">(</tspan><tspan font-style="italic">l</tspan><tspan font-size="17.5">)</tspan></text>
<text class="cap" x="68.60" y="284.8" textLength="26.90" lengthAdjust="spacingAndGlyphs">The</text>
<text class="cap" x="100.60" y="284.8" textLength="33.90" lengthAdjust="spacingAndGlyphs">DRP</text>
<text class="cap" x="139.50" y="284.8" textLength="14.00" lengthAdjust="spacingAndGlyphs">of</text>
<text class="cap" x="157.70" y="284.8" textLength="65.70" lengthAdjust="spacingAndGlyphs">GCHTGS</text>
<text class="cap" x="230.20" y="284.8" textLength="37.50" lengthAdjust="spacingAndGlyphs">under</text>
<text class="cap" x="274.00" y="284.8" textLength="8.30" lengthAdjust="spacingAndGlyphs"><tspan font-style="italic">S</tspan></text>
<text class="cap" x="282.30" y="284.8" textLength="5.90" lengthAdjust="spacingAndGlyphs"><tspan font-size="10.5" dy="2.3">7</tspan></text>
<text class="cap" x="402.20" y="284.8" textLength="23.80" lengthAdjust="spacingAndGlyphs"><tspan font-size="17.5">(</tspan><tspan font-style="italic">m</tspan><tspan font-size="17.5">)</tspan></text>
<text class="cap" x="431.80" y="284.8" textLength="26.70" lengthAdjust="spacingAndGlyphs">The</text>
<text class="cap" x="463.60" y="284.8" textLength="38.10" lengthAdjust="spacingAndGlyphs">phase</text>
<text class="cap" x="506.60" y="284.8" textLength="37.00" lengthAdjust="spacingAndGlyphs">space</text>
<text class="cap" x="549.00" y="284.8" textLength="65.70" lengthAdjust="spacingAndGlyphs">trajectory</text>
</svg>
</body></html>
